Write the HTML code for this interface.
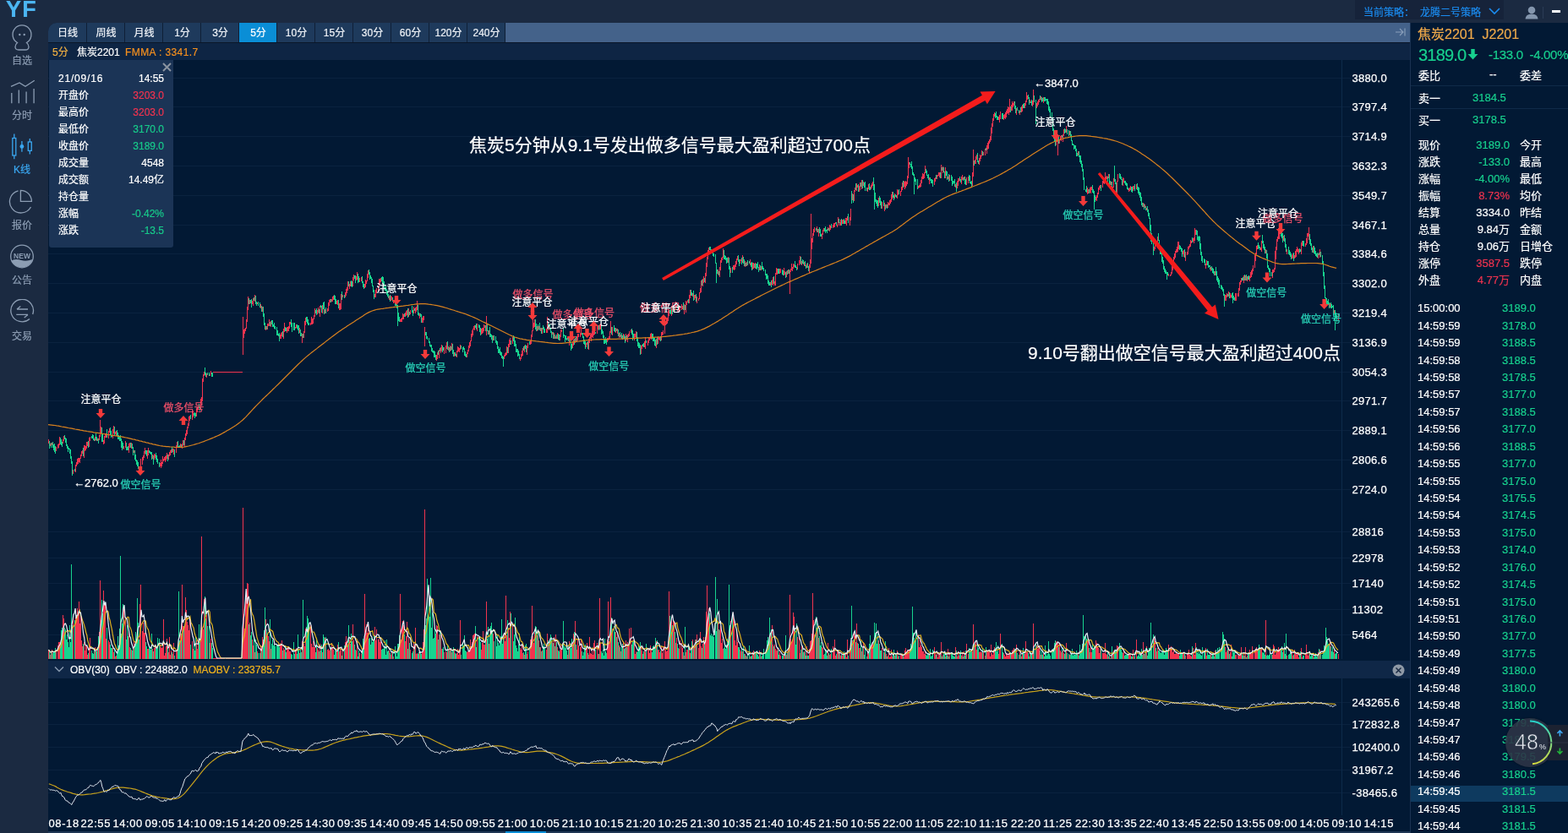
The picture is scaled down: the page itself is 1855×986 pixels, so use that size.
<!DOCTYPE html>
<html><head><meta charset="utf-8"><title>K线</title>
<style>
*{margin:0;padding:0;box-sizing:border-box}
html,body{width:1855px;height:986px;overflow:hidden;background:#1b2a41;font-family:"Liberation Sans","Noto Sans CJK SC",sans-serif;color:#fff;-webkit-text-stroke:0.2px currentColor}
.abs{position:absolute}
#logo{position:absolute;left:7px;top:-2.5px;font:bold 27px/1 "Liberation Sans",sans-serif;color:#4cb6f2;letter-spacing:1.3px}
.side{position:absolute;left:0;width:52px;text-align:center;font-size:12px;color:#8c9db3}
.side svg{display:block;margin:0 auto}
#strat{position:absolute;left:1603px;top:0;width:176px;height:23px;background:#16233a}
#strat span{position:absolute;top:5px;font-size:12px;color:#1b8cf0;white-space:nowrap}
#tabbar{position:absolute;left:57px;top:27px;width:1611px;height:23px;background:#0f1f36;border-top-left-radius:10px;overflow:hidden}
.tab{position:absolute;top:27px;width:44px;height:23px;background:#1e3a5c;text-align:center;font-size:12px;line-height:25px;color:#eef2f7;padding-left:1px}
.tab.act{background:#0a8ed6;color:#fff}
#info{position:absolute;left:57px;top:50px;width:1611px;height:21px;background:#0e2544;border-top:1px solid #0a1628;font-size:12px;line-height:22px;white-space:nowrap}
#chartbg{position:absolute;left:57px;top:71px;width:1611px;height:915px;background:#021934}
#obvh{position:absolute;left:57px;top:782px;width:1611px;height:21px;background:#0f2747;font-size:12px;line-height:23px;white-space:nowrap}
#rp{position:absolute;left:1668px;top:27px;width:187px;height:959px;background:#021934;border-left:1px solid #1a3252}
svg.chart{position:absolute;left:0;top:0}
.sg{stroke-width:0.25px;font-size:12px;font-family:"Liberation Sans","Noto Sans CJK SC",sans-serif}
.sg2{stroke-width:0.25px;font-size:13px;font-family:"Liberation Sans",sans-serif}
.ann{stroke-width:0.2px;font-size:21px;fill:#fff;font-family:"Liberation Sans","Noto Sans CJK SC",sans-serif}
.ax{stroke-width:0.25px;font-size:13px;fill:#fff;font-family:"Liberation Sans",sans-serif;letter-spacing:0.3px}
.tm{stroke-width:0.25px;font-size:13px;fill:#fff;font-family:"Liberation Sans",sans-serif;letter-spacing:0.6px}
#tip{position:absolute;left:58px;top:71px;width:147px;height:222px;background:#1b3456;border-radius:0 0 3px 3px}
.tr{position:absolute;left:11px;width:125px;height:18px;font-size:12px;line-height:18px}
.tl{position:absolute;left:0} .tv{position:absolute;right:0}
.qr{position:absolute;left:10px;width:175px;height:18px;font-size:13px;line-height:18px}
.ql{position:absolute;left:0} .qv{position:absolute;right:67px} .ql2{position:absolute;left:120px}
.tk{position:absolute;left:1px;width:186px;height:20px;font-size:13px;line-height:20px}
.tk.hl{}
.tt{position:absolute;left:8px} .tp{position:absolute;left:108px;color:#17d08e}
</style></head><body>
<div id="logo">YF</div>
<div id="strat"><span style="left:10px">当前策略：</span><span style="left:77px">龙腾二号策略</span>
<svg class="abs" style="left:158px;top:9px" width="14" height="9"><path d="M1 1L7 7L13 1" stroke="#1b8cf0" stroke-width="1.6" fill="none"/></svg></div>
<svg class="abs" style="left:1803px;top:6px" width="18" height="18"><circle cx="9" cy="6" r="4.3" fill="#8496ad"/><path d="M1.5 16.5Q2 10.5 9 10.5Q16 10.5 16.5 16.5Z" fill="#8496ad"/></svg>
<div class="abs" style="left:1825px;top:8px;width:1px;height:14px;background:#2a3b55"></div>
<div class="abs" style="left:1836px;top:12px;width:10px;height:3px;background:#fff"></div>

<div class="side" style="top:28px">
<svg width="32" height="34" viewBox="0 0 32 34"><path d="M10.5 22.5 A11 11 0 1 1 21.5 22.5 Q24 24.5 24 27.5 Q24 31 20 31 H12 Q8 31 8 27.5 Q8 24.5 10.5 22.5Z" fill="none" stroke="#8c9db3" stroke-width="1.3"/><circle cx="13.3" cy="13" r="1.2" fill="#8c9db3"/><circle cx="18.7" cy="13" r="1.2" fill="#8c9db3"/></svg>
<div style="margin-top:3px;line-height:14px">自选</div></div>
<div class="side" style="top:93px">
<svg width="32" height="32" viewBox="0 0 32 32"><path d="M3 9.3L13 5L20 9.3L30.8 2.2" fill="none" stroke="#8c9db3" stroke-width="1.3"/><path d="M3.8 17V29.2M12.3 13.6V29.2M21.1 15.6V29.2M30.1 12.1V29.2" stroke="#8c9db3" stroke-width="1.3"/></svg>
<div style="margin-top:5px;line-height:14px">分时</div></div>
<div class="side" style="top:157px;color:#3aa6ef">
<svg width="32" height="33" viewBox="0 0 32 33"><path d="M6.8 1.5V31.3M15.9 10V22.8M25.3 7V25.6" stroke="#3aa6ef" stroke-width="1.3"/><rect x="4.8" y="6.5" width="4" height="20.5" fill="#1b2a41" stroke="#3aa6ef" stroke-width="1.3"/><circle cx="15.9" cy="16.4" r="2.4" fill="#3aa6ef"/><rect x="23.3" y="11" width="4" height="10.4" fill="#1b2a41" stroke="#3aa6ef" stroke-width="1.3"/></svg>
<div style="margin-top:4px;line-height:14px">K线</div></div>
<div class="side" style="top:223px">
<svg width="32" height="32" viewBox="0 0 32 32"><path d="M11.5 2.8 A13.3 13.3 0 1 0 26.5 22" fill="none" stroke="#8c9db3" stroke-width="1.3"/><path d="M14.4 2.3V15.3H27.4A13 13 0 0 0 14.4 2.3Z" fill="none" stroke="#8c9db3" stroke-width="1.3"/></svg>
<div style="margin-top:5px;line-height:14px">报价</div></div>
<div class="side" style="top:289px">
<svg width="32" height="31" viewBox="0 0 32 31"><circle cx="16" cy="14.5" r="13.3" fill="none" stroke="#8c9db3" stroke-width="1.3"/><path d="M3.5 19.5Q9 17 15 19Q21 21 28.5 18A13.3 13.3 0 0 1 3.5 19.5Z" fill="#8c9db3"/><text x="16" y="16.8" text-anchor="middle" font-size="8.5" font-weight="bold" fill="#8c9db3" font-family="Liberation Sans">NEW</text></svg>
<div style="margin-top:5px;line-height:14px">公告</div></div>
<div class="side" style="top:354px">
<svg width="32" height="30" viewBox="0 0 32 30"><path d="M25 23.5A13.3 13.3 0 1 1 28.7 18" fill="none" stroke="#8c9db3" stroke-width="1.3"/><path d="M10 12H23M10 12L14.3 8.4M9.3 18.4H23M23 18.4L18.7 22" fill="none" stroke="#8c9db3" stroke-width="1.3"/></svg>
<div style="margin-top:7px;line-height:14px">交易</div></div>

<div id="tabbar"></div><div class="abs" style="left:598px;top:27px;width:1070px;height:23px;background:#44628a"></div>
<div class="tab" style="left:57px;border-top-left-radius:10px;width:45px">日线</div><div class="tab" style="left:103px">周线</div><div class="tab" style="left:148px">月线</div><div class="tab" style="left:193px">1分</div><div class="tab" style="left:238px">3分</div><div class="tab act" style="left:283px">5分</div><div class="tab" style="left:328px">10分</div><div class="tab" style="left:373px">15分</div><div class="tab" style="left:418px">30分</div><div class="tab" style="left:463px">60分</div><div class="tab" style="left:508px">120分</div><div class="tab" style="left:553px">240分</div>
<svg class="abs" style="left:1650px;top:32px" width="14" height="12"><path d="M1 6H10M6 2L10 6L6 10M12 1.5V10.5" stroke="#8aa0bb" stroke-width="1.1" fill="none"/></svg>
<div id="info"><span style="position:absolute;left:5px;color:#f0b042">5分</span><span style="position:absolute;left:34px;color:#fff">焦炭2201</span><span style="position:absolute;left:91px;color:#f5901f;letter-spacing:0.4px">FMMA : 3341.7</span></div>
<div id="chartbg"></div>
<div id="obvh"><svg class="abs" style="left:7px;top:6px" width="12" height="9"><path d="M1 1.5L6 6.5L11 1.5" stroke="#8a9bb0" stroke-width="1.4" fill="none"/></svg><span style="position:absolute;left:26px;color:#fff">OBV(30)&nbsp; OBV : 224882.0&nbsp; <span style="color:#f0b21c">MAOBV : 233785.7</span></span>
<svg class="abs" style="left:1590px;top:4px" width="15" height="15"><circle cx="7.5" cy="7.5" r="7" fill="#8f99a6"/><path d="M4.5 4.5L10.5 10.5M10.5 4.5L4.5 10.5" stroke="#1a2b44" stroke-width="1.5"/></svg></div>
<div id="rp">
<div class="abs" style="left:8px;top:0px;font-size:16px;color:#efa94a;white-space:nowrap">焦炭2201&nbsp; J2201</div>
<div class="abs" style="left:9px;top:27px;font-size:20px;color:#17d08e;white-space:nowrap;letter-spacing:-0.8px">3189.0</div>
<svg class="abs" style="left:67px;top:31px" width="13" height="13"><path d="M4.3 0H8.7V6H12.5L6.5 12.5L0.5 6H4.3Z" fill="#17d08e"/></svg>
<div class="abs" style="left:92px;top:29px;font-size:15px;color:#17d08e;white-space:nowrap;letter-spacing:-0.3px">-133.0&nbsp; -4.00%</div>
<div class="abs" style="left:9px;top:52px;font-size:13px;white-space:nowrap">委比</div>
<div class="abs" style="left:93px;top:53px;font-size:13px;white-space:nowrap">--</div>
<div class="abs" style="left:129px;top:52px;font-size:13px;white-space:nowrap">委差</div>
<div class="abs" style="left:0;top:74px;width:187px;height:1px;background:#0f2a48"></div>
<div class="abs" style="left:9px;top:79px;font-size:13px;white-space:nowrap">卖一</div>
<div class="abs" style="left:73px;top:81px;font-size:13px;color:#17d08e">3184.5</div>
<div class="abs" style="left:0;top:101px;width:187px;height:1px;background:#0f2a48"></div>
<div class="abs" style="left:9px;top:105px;font-size:13px;white-space:nowrap">买一</div>
<div class="abs" style="left:73px;top:107px;font-size:13px;color:#17d08e">3178.5</div>
</div>
<div class="abs" style="left:1668px;top:0;width:187px;height:986px;pointer-events:none">
<div class="qr" style="top:163.3px"><span class="ql">现价</span><span class="qv" style="color:#17d08e">3189.0</span><span class="ql2">今开</span></div><div class="qr" style="top:183.2px"><span class="ql">涨跌</span><span class="qv" style="color:#17d08e">-133.0</span><span class="ql2">最高</span></div><div class="qr" style="top:203.2px"><span class="ql">涨幅</span><span class="qv" style="color:#17d08e">-4.00%</span><span class="ql2">最低</span></div><div class="qr" style="top:223.2px"><span class="ql">振幅</span><span class="qv" style="color:#f0334f">8.73%</span><span class="ql2">均价</span></div><div class="qr" style="top:243.1px"><span class="ql">结算</span><span class="qv" style="color:#fff">3334.0</span><span class="ql2">昨结</span></div><div class="qr" style="top:263.1px"><span class="ql">总量</span><span class="qv" style="color:#fff">9.84万</span><span class="ql2">金额</span></div><div class="qr" style="top:283.0px"><span class="ql">持仓</span><span class="qv" style="color:#fff">9.06万</span><span class="ql2">日增仓</span></div><div class="qr" style="top:303.0px"><span class="ql">涨停</span><span class="qv" style="color:#f0334f">3587.5</span><span class="ql2">跌停</span></div><div class="qr" style="top:322.9px"><span class="ql">外盘</span><span class="qv" style="color:#f0334f">4.77万</span><span class="ql2">内盘</span></div>
<div class="abs" style="left:1px;top:929.5px;width:186px;height:19.5px;background:#0e3a5f"></div>
<div class="tk" style="top:355.2px"><span class="tt">15:00:00</span><span class="tp">3189.0</span></div><div class="tk" style="top:375.6px"><span class="tt">14:59:59</span><span class="tp">3178.0</span></div><div class="tk" style="top:396.1px"><span class="tt">14:59:59</span><span class="tp">3188.5</span></div><div class="tk" style="top:416.5px"><span class="tt">14:59:58</span><span class="tp">3188.5</span></div><div class="tk" style="top:436.9px"><span class="tt">14:59:58</span><span class="tp">3178.5</span></div><div class="tk" style="top:457.4px"><span class="tt">14:59:57</span><span class="tp">3177.0</span></div><div class="tk" style="top:477.8px"><span class="tt">14:59:57</span><span class="tp">3188.5</span></div><div class="tk" style="top:498.2px"><span class="tt">14:59:56</span><span class="tp">3177.0</span></div><div class="tk" style="top:518.6px"><span class="tt">14:59:56</span><span class="tp">3188.5</span></div><div class="tk" style="top:539.1px"><span class="tt">14:59:55</span><span class="tp">3177.0</span></div><div class="tk" style="top:559.5px"><span class="tt">14:59:55</span><span class="tp">3175.0</span></div><div class="tk" style="top:579.9px"><span class="tt">14:59:54</span><span class="tp">3175.5</span></div><div class="tk" style="top:600.4px"><span class="tt">14:59:54</span><span class="tp">3174.5</span></div><div class="tk" style="top:620.8px"><span class="tt">14:59:53</span><span class="tp">3175.0</span></div><div class="tk" style="top:641.2px"><span class="tt">14:59:53</span><span class="tp">3174.0</span></div><div class="tk" style="top:661.6px"><span class="tt">14:59:52</span><span class="tp">3176.0</span></div><div class="tk" style="top:682.1px"><span class="tt">14:59:52</span><span class="tp">3174.5</span></div><div class="tk" style="top:702.5px"><span class="tt">14:59:51</span><span class="tp">3175.0</span></div><div class="tk" style="top:722.9px"><span class="tt">14:59:51</span><span class="tp">3176.0</span></div><div class="tk" style="top:743.4px"><span class="tt">14:59:50</span><span class="tp">3177.0</span></div><div class="tk" style="top:763.8px"><span class="tt">14:59:49</span><span class="tp">3177.5</span></div><div class="tk" style="top:784.2px"><span class="tt">14:59:49</span><span class="tp">3180.0</span></div><div class="tk" style="top:804.7px"><span class="tt">14:59:48</span><span class="tp">3180.0</span></div><div class="tk" style="top:825.1px"><span class="tt">14:59:48</span><span class="tp">3180.0</span></div><div class="tk" style="top:845.5px"><span class="tt">14:59:47</span><span class="tp">3179.5</span></div><div class="tk" style="top:866.0px"><span class="tt">14:59:47</span><span class="tp">3180.0</span></div><div class="tk" style="top:886.4px"><span class="tt">14:59:46</span><span class="tp">3179.5</span></div><div class="tk" style="top:906.8px"><span class="tt">14:59:46</span><span class="tp">3180.5</span></div><div class="tk hl" style="top:927.2px"><span class="tt">14:59:45</span><span class="tp">3181.5</span></div><div class="tk" style="top:947.7px"><span class="tt">14:59:45</span><span class="tp">3181.5</span></div><div class="tk" style="top:968.1px"><span class="tt">14:59:44</span><span class="tp">3181.5</span></div>
</div>

<svg class="chart" width="1855" height="986" viewBox="0 0 1855 986">
<g><path d="M57 92.5H1598" stroke="#0a223f" stroke-width="1"/><path d="M57 126.5H1598" stroke="#0a223f" stroke-width="1"/><path d="M57 161.5H1598" stroke="#0a223f" stroke-width="1"/><path d="M57 196.5H1598" stroke="#0a223f" stroke-width="1"/><path d="M57 231.5H1598" stroke="#0a223f" stroke-width="1"/><path d="M57 266.5H1598" stroke="#0a223f" stroke-width="1"/><path d="M57 300.5H1598" stroke="#0a223f" stroke-width="1"/><path d="M57 335.5H1598" stroke="#0a223f" stroke-width="1"/><path d="M57 370.5H1598" stroke="#0a223f" stroke-width="1"/><path d="M57 405.5H1598" stroke="#0a223f" stroke-width="1"/><path d="M57 440.5H1598" stroke="#0a223f" stroke-width="1"/><path d="M57 474.5H1598" stroke="#0a223f" stroke-width="1"/><path d="M57 509.5H1598" stroke="#0a223f" stroke-width="1"/><path d="M57 544.5H1598" stroke="#0a223f" stroke-width="1"/><path d="M57 579.5H1598" stroke="#0a223f" stroke-width="1"/><path d="M57 629.5H1598" stroke="#0a223f" stroke-width="1"/><path d="M57 660.5H1598" stroke="#0a223f" stroke-width="1"/><path d="M57 690.5H1598" stroke="#0a223f" stroke-width="1"/><path d="M57 721.5H1598" stroke="#0a223f" stroke-width="1"/><path d="M57 751.5H1598" stroke="#0a223f" stroke-width="1"/><path d="M57 831.5H1598" stroke="#0a223f" stroke-width="1"/><path d="M57 857.5H1598" stroke="#0a223f" stroke-width="1"/><path d="M57 884.5H1598" stroke="#0a223f" stroke-width="1"/><path d="M57 911.5H1598" stroke="#0a223f" stroke-width="1"/><path d="M57 938.5H1598" stroke="#0a223f" stroke-width="1"/></g>
<path d="M1587.5 71V780M1587.5 803V965" stroke="#0d2a4a"/>
<path d="M252 440.5H287" stroke="#f2344f" stroke-width="1"/>
<g shape-rendering="crispEdges" stroke-width="1" fill="none">
<path d="M57.5 519.6V525.3M59.5 524.9V527.8M61.5 523.8V526.8M66.5 529.4V534.3M68.5 525.7V531.1M69.5 524.6V530.3M70.5 516.5V526.8M74.5 519.5V525.4M75.5 516.3V522.0M86.5 556.0V561.3M89.5 549.6V559.4M90.5 546.7V552.0M91.5 543.4V549.7M92.5 542.4V549.2M93.5 542.0V546.9M94.5 541.8V548.2M95.5 538.3V543.2M96.5 533.8V540.3M97.5 533.1V536.8M99.5 527.2V541.8M100.5 526.7V534.0M101.5 528.0V533.3M102.5 522.5V531.0M103.5 522.8V528.4M105.5 518.4V528.5M106.5 517.3V521.5M112.5 517.2V522.1M115.5 519.4V521.9M117.5 515.4V521.4M118.5 497.0V517.3M119.5 505.4V512.9M122.5 520.5V525.5M123.5 516.0V524.5M124.5 512.7V518.1M125.5 512.8V518.1M128.5 509.8V518.8M129.5 507.0V512.0M133.5 508.2V519.1M134.5 504.4V512.7M136.5 511.1V514.1M137.5 510.2V515.8M146.5 528.3V532.4M148.5 522.4V530.1M152.5 525.0V535.9M153.5 524.2V530.4M155.5 524.3V530.9M158.5 532.6V536.3M165.5 553.2V555.2M166.5 543.2V554.6M168.5 541.1V549.7M169.5 539.1V545.0M170.5 534.4V541.9M171.5 529.8V537.4M174.5 533.4V542.9M175.5 530.3V539.1M180.5 538.2V543.4M182.5 537.3V544.0M183.5 537.9V542.4M189.5 548.4V551.7M190.5 544.3V554.2M191.5 546.8V551.9M192.5 540.1V548.6M193.5 543.0V546.0M194.5 541.4V544.8M195.5 540.1V547.3M196.5 539.2V545.1M197.5 536.2V543.2M199.5 537.9V544.4M200.5 535.0V540.2M201.5 532.9V538.8M202.5 531.9V536.1M204.5 531.2V535.3M205.5 531.2V537.5M208.5 526.8V536.4M209.5 523.3V528.5M213.5 524.6V529.6M215.5 525.4V530.5M216.5 521.0V528.2M218.5 517.5V528.7M219.5 513.4V520.8M220.5 509.0V515.6M221.5 504.7V514.0M222.5 500.7V506.8M223.5 493.1V503.9M224.5 492.3V498.1M227.5 488.3V496.9M228.5 485.8V493.5M232.5 484.1V493.3M233.5 482.3V487.8M234.5 481.2V484.7M237.5 472.0V485.2M238.5 469.5V475.8M239.5 447.8V474.6M240.5 442.7V451.6M241.5 439.5V444.7M244.5 441.8V447.0M248.5 442.5V445.0M249.5 439.2V443.2M287.5 375.0V420.0M288.5 390.2V399.8M289.5 388.7V395.1M290.5 387.6V392.2M291.5 377.9V389.0M292.5 363.4V380.8M293.5 351.0V367.3M295.5 355.4V360.3M298.5 356.2V360.0M299.5 352.7V361.6M301.5 349.3V357.2M304.5 357.5V359.5M308.5 360.1V365.3M310.5 363.0V369.1M314.5 385.6V390.6M316.5 382.9V389.6M317.5 383.3V385.5M318.5 378.0V385.9M320.5 379.7V387.1M331.5 396.1V400.7M332.5 393.9V400.5M333.5 392.9V398.0M335.5 388.9V400.5M336.5 381.9V392.8M339.5 386.8V393.5M340.5 386.5V392.1M341.5 385.9V391.7M342.5 381.3V389.2M343.5 380.7V384.0M349.5 386.6V389.4M350.5 384.4V388.0M354.5 387.5V393.6M357.5 394.9V406.0M359.5 391.7V399.5M360.5 380.1V394.1M361.5 375.8V385.4M367.5 381.5V385.2M368.5 374.5V384.4M369.5 377.3V384.3M370.5 377.2V383.1M371.5 373.0V378.1M372.5 365.1V375.4M375.5 367.4V371.8M376.5 363.9V370.2M378.5 361.7V375.1M381.5 360.6V371.4M384.5 366.1V371.2M387.5 365.2V368.9M388.5 357.6V368.0M389.5 355.3V361.8M390.5 354.0V357.5M392.5 353.5V357.3M393.5 350.6V357.4M394.5 349.9V355.0M398.5 355.8V360.2M399.5 355.3V361.0M401.5 358.9V367.4M402.5 358.8V367.2M403.5 348.1V365.7M405.5 348.9V352.2M408.5 346.2V352.4M409.5 342.2V350.1M410.5 340.3V347.4M411.5 333.4V343.5M413.5 336.3V342.2M414.5 332.7V339.2M417.5 328.2V338.8M418.5 325.4V332.3M421.5 326.6V331.9M422.5 322.1V331.2M425.5 328.8V334.2M427.5 327.5V332.9M431.5 335.6V341.3M432.5 331.1V339.8M433.5 331.5V335.5M434.5 324.4V332.7M435.5 319.9V328.9M443.5 348.0V352.0M444.5 343.0V351.6M445.5 341.4V347.4M447.5 338.6V344.0M448.5 330.0V339.8M449.5 330.3V337.1M450.5 328.9V334.0M460.5 350.1V355.2M462.5 349.9V355.9M463.5 351.4V355.4M465.5 354.6V359.1M473.5 378.0V381.1M474.5 376.5V381.2M475.5 376.1V380.6M476.5 371.3V378.1M477.5 371.6V377.5M479.5 369.5V375.2M480.5 367.8V374.3M481.5 366.5V373.1M483.5 365.1V375.4M485.5 366.5V372.3M489.5 363.0V370.5M491.5 363.6V371.1M492.5 363.3V368.8M493.5 356.0V366.9M496.5 371.2V377.2M499.5 375.7V382.4M500.5 373.8V382.1M501.5 374.0V379.4M502.5 387.0V410.0M516.5 419.8V426.7M517.5 417.1V424.8M519.5 414.1V423.5M521.5 410.5V417.6M522.5 407.6V416.0M525.5 411.1V418.9M527.5 408.6V417.5M528.5 405.4V413.2M530.5 409.7V414.8M532.5 408.7V415.8M534.5 406.3V413.6M537.5 417.0V422.3M540.5 415.4V422.5M541.5 410.4V417.2M542.5 410.9V416.3M543.5 412.1V416.7M544.5 407.6V414.3M552.5 417.0V423.3M553.5 413.9V419.3M554.5 408.8V416.0M555.5 405.4V411.7M556.5 402.8V409.7M557.5 395.3V404.3M558.5 391.4V399.1M559.5 388.5V397.0M560.5 386.1V389.8M561.5 385.1V390.6M564.5 382.8V391.6M569.5 388.9V395.9M570.5 387.9V395.1M571.5 388.0V394.0M572.5 383.7V391.8M573.5 384.5V388.0M575.5 374.0V396.6M578.5 391.4V395.9M583.5 396.9V402.6M596.5 420.1V425.2M597.5 417.6V422.0M598.5 417.3V421.1M599.5 410.2V420.0M601.5 407.0V418.0M602.5 402.0V411.2M603.5 400.2V407.7M606.5 399.3V407.0M615.5 422.8V427.2M616.5 418.7V424.8M617.5 414.8V422.3M618.5 411.5V420.5M620.5 408.8V417.4M623.5 409.3V419.5M624.5 405.7V411.6M627.5 403.0V407.9M628.5 396.3V407.1M629.5 390.9V399.3M630.5 378.0V392.4M631.5 381.9V388.4M632.5 378.1V386.5M635.5 385.5V391.9M637.5 385.8V389.8M639.5 387.5V392.0M641.5 388.4V394.5M646.5 389.0V393.5M647.5 375.0V393.5M649.5 384.2V391.1M653.5 393.2V395.9M655.5 394.3V400.5M657.5 397.5V401.2M659.5 393.6V400.7M662.5 395.6V403.2M663.5 389.6V399.2M664.5 389.6V393.4M671.5 399.2V402.4M673.5 399.4V409.1M677.5 404.9V412.1M678.5 402.0V409.2M680.5 400.0V405.9M682.5 398.3V404.6M683.5 395.1V403.4M684.5 394.7V399.0M686.5 393.9V398.8M687.5 388.3V397.2M693.5 405.8V411.4M694.5 405.1V407.7M696.5 400.7V414.0M697.5 398.8V406.4M698.5 396.4V401.3M699.5 395.0V403.8M700.5 392.3V399.1M701.5 390.7V399.5M702.5 392.2V396.8M703.5 391.8V396.0M706.5 385.5V395.3M707.5 385.3V390.2M709.5 384.2V390.1M710.5 382.5V389.8M718.5 400.1V405.3M719.5 399.9V403.0M720.5 397.8V402.4M721.5 391.7V401.6M722.5 380.0V393.7M724.5 387.0V396.7M728.5 388.3V394.0M730.5 389.0V395.2M732.5 394.1V399.5M734.5 396.3V400.1M737.5 395.1V401.4M740.5 395.1V404.1M742.5 395.7V405.4M743.5 394.8V398.6M744.5 392.4V397.5M746.5 390.4V394.0M750.5 395.0V402.9M751.5 395.1V399.3M752.5 392.1V400.5M758.5 409.4V418.6M759.5 407.9V412.8M762.5 404.1V411.1M763.5 399.0V412.6M766.5 402.7V408.7M767.5 400.1V405.8M768.5 399.3V403.1M769.5 395.1V401.2M770.5 394.0V401.5M776.5 401.3V411.6M778.5 398.3V406.6M779.5 399.4V402.0M780.5 399.3V403.3M782.5 392.7V402.8M783.5 393.0V397.3M784.5 390.8V396.2M786.5 382.4V394.6M787.5 381.3V385.2M788.5 377.8V384.0M789.5 376.3V383.1M790.5 368.1V379.9M791.5 366.2V373.5M794.5 361.8V373.9M796.5 362.4V368.9M797.5 364.4V367.6M799.5 357.0V367.2M800.5 361.2V363.7M803.5 362.2V369.2M804.5 364.2V367.1M806.5 359.8V367.0M807.5 361.7V366.0M809.5 359.9V371.8M811.5 356.4V369.5M812.5 356.9V360.7M813.5 354.6V358.2M815.5 348.8V359.1M816.5 343.1V353.2M819.5 346.5V350.8M821.5 348.9V355.1M822.5 349.3V353.1M824.5 351.3V358.8M826.5 352.8V356.1M827.5 346.2V354.0M828.5 341.0V347.1M829.5 332.1V345.6M831.5 329.7V338.6M832.5 326.8V334.7M834.5 323.2V335.3M835.5 311.1V326.8M836.5 303.7V315.5M837.5 296.2V307.3M838.5 292.8V300.5M849.5 318.9V324.5M851.5 316.0V328.1M852.5 307.8V319.8M853.5 305.4V310.5M854.5 303.7V307.5M855.5 293.5V305.2M861.5 303.5V311.3M864.5 316.7V323.2M867.5 314.4V319.0M868.5 314.2V319.7M869.5 312.6V319.2M870.5 309.3V315.6M871.5 305.7V313.4M872.5 303.2V308.1M875.5 306.8V312.3M876.5 306.7V309.3M878.5 302.0V310.9M881.5 309.4V316.2M883.5 310.0V315.2M887.5 307.2V313.8M890.5 310.7V319.2M891.5 311.4V317.7M893.5 310.5V317.8M898.5 313.1V319.6M900.5 314.9V319.7M911.5 334.1V338.4M913.5 330.6V337.3M914.5 328.3V338.0M916.5 333.2V338.1M917.5 322.9V337.7M918.5 317.4V325.1M919.5 318.4V324.9M922.5 318.1V323.5M923.5 317.8V323.3M927.5 317.3V326.0M928.5 321.3V324.8M930.5 321.1V328.3M932.5 319.1V323.6M934.5 320.0V347.5M935.5 317.7V321.6M936.5 312.3V319.5M937.5 315.5V320.7M938.5 312.4V317.8M939.5 312.9V316.2M943.5 312.4V319.1M945.5 308.3V313.9M946.5 302.9V312.2M948.5 309.1V314.0M951.5 309.7V314.5M954.5 311.7V316.8M957.5 312.8V322.8M958.5 306.8V317.0M959.5 252.6V312.2M960.5 282.0V295.0M961.5 276.3V287.0M962.5 271.4V279.4M963.5 269.0V274.8M966.5 268.4V274.6M968.5 270.8V279.7M972.5 276.4V283.0M973.5 271.7V278.0M974.5 269.6V273.5M979.5 268.7V273.4M981.5 266.4V273.6M982.5 266.9V272.2M985.5 265.9V270.1M986.5 264.0V268.6M987.5 264.3V268.8M988.5 263.1V265.4M990.5 265.5V269.2M991.5 257.4V267.4M993.5 263.3V266.5M994.5 260.3V266.6M996.5 259.9V265.3M997.5 259.7V264.7M1000.5 257.8V264.7M1001.5 257.7V266.7M1002.5 255.6V260.9M1005.5 256.8V266.8M1006.5 247.3V260.9M1008.5 229.2V236.6M1010.5 224.9V237.9M1011.5 222.1V227.1M1013.5 216.8V225.6M1014.5 218.8V222.2M1016.5 219.8V227.4M1017.5 216.1V224.7M1019.5 213.3V223.5M1021.5 215.1V220.1M1026.5 222.3V226.6M1027.5 218.0V223.5M1030.5 218.5V224.4M1031.5 217.4V221.9M1032.5 214.9V220.0M1039.5 233.5V243.6M1043.5 238.9V247.2M1046.5 239.9V250.2M1048.5 241.7V245.9M1050.5 239.0V246.4M1051.5 239.5V243.2M1052.5 237.0V242.7M1053.5 235.9V241.2M1054.5 230.2V238.8M1055.5 227.0V235.5M1058.5 229.4V235.0M1061.5 224.0V234.6M1062.5 225.1V231.0M1065.5 226.1V232.0M1066.5 220.8V227.3M1067.5 216.4V224.5M1069.5 213.8V221.1M1070.5 215.0V223.6M1071.5 214.2V222.0M1072.5 215.2V219.9M1073.5 207.9V218.2M1074.5 186.0V211.0M1075.5 192.2V198.9M1086.5 219.7V223.4M1087.5 218.5V221.8M1088.5 216.7V222.2M1089.5 213.3V221.2M1090.5 208.7V216.5M1091.5 204.8V212.1M1092.5 206.1V211.7M1093.5 203.5V211.0M1094.5 195.6V205.3M1099.5 209.6V217.8M1105.5 210.6V219.2M1106.5 210.4V214.6M1108.5 207.0V212.2M1109.5 206.7V209.1M1110.5 204.3V208.3M1111.5 204.4V209.8M1113.5 195.0V211.0M1115.5 197.0V204.8M1118.5 198.4V211.3M1121.5 209.0V212.0M1123.5 207.0V213.7M1130.5 217.7V222.2M1132.5 214.4V222.8M1133.5 210.6V219.7M1134.5 210.6V214.9M1137.5 208.7V217.8M1138.5 207.3V212.9M1140.5 208.8V213.2M1143.5 210.1V218.5M1145.5 208.5V216.7M1150.5 203.6V219.5M1151.5 177.0V208.5M1153.5 189.1V194.4M1154.5 185.0V193.9M1155.5 183.0V189.3M1158.5 186.6V195.2M1159.5 182.9V191.1M1160.5 183.7V187.7M1161.5 177.8V185.4M1163.5 179.5V184.0M1165.5 175.6V184.0M1167.5 172.4V181.5M1168.5 169.4V177.3M1169.5 166.5V175.6M1170.5 164.9V170.1M1171.5 161.0V167.9M1172.5 150.9V166.0M1173.5 145.7V158.2M1174.5 140.1V149.9M1175.5 135.0V143.1M1176.5 133.4V138.0M1181.5 138.2V141.7M1182.5 136.1V144.8M1183.5 131.9V140.8M1187.5 136.4V141.8M1188.5 135.0V139.9M1189.5 133.4V141.0M1190.5 130.5V138.9M1191.5 129.3V135.4M1192.5 126.4V134.1M1193.5 127.3V135.6M1194.5 116.5V132.5M1196.5 123.8V131.3M1197.5 120.1V130.7M1198.5 122.1V127.1M1199.5 119.7V125.1M1202.5 128.1V135.6M1206.5 131.3V135.8M1208.5 125.5V132.6M1209.5 123.7V131.6M1212.5 122.2V127.6M1213.5 119.1V124.5M1214.5 109.0V120.9M1215.5 112.7V118.4M1218.5 118.2V122.4M1221.5 118.5V125.6M1222.5 105.6V123.9M1226.5 122.2V127.5M1227.5 119.6V126.3M1228.5 118.1V123.8M1229.5 116.6V120.9M1231.5 113.7V119.3M1234.5 115.2V121.6M1249.5 164.8V171.6M1250.5 163.9V168.3M1251.5 159.2V183.5M1253.5 164.8V170.3M1254.5 161.0V165.8M1255.5 160.3V166.7M1257.5 158.6V167.6M1258.5 152.8V160.7M1261.5 149.0V157.3M1265.5 155.3V159.7M1275.5 179.2V183.6M1286.5 222.2V230.3M1287.5 224.1V229.2M1289.5 222.1V228.2M1290.5 221.3V228.8M1291.5 220.8V224.7M1296.5 233.1V236.7M1297.5 231.4V237.5M1298.5 228.0V234.2M1299.5 221.7V229.9M1300.5 219.9V225.2M1301.5 219.2V223.3M1304.5 214.1V221.7M1305.5 213.4V216.9M1306.5 210.7V217.7M1307.5 204.0V214.5M1308.5 208.5V215.7M1309.5 207.8V212.0M1311.5 205.8V211.2M1314.5 214.5V219.1M1316.5 220.6V223.5M1317.5 210.7V221.7M1321.5 213.9V228.5M1322.5 206.4V215.3M1328.5 209.6V219.9M1329.5 211.4V216.0M1335.5 222.8V227.3M1336.5 221.9V225.6M1337.5 220.4V225.0M1340.5 220.0V226.4M1341.5 219.8V223.5M1344.5 218.0V223.9M1352.5 240.3V245.2M1354.5 241.8V246.4M1356.5 245.5V249.4M1365.5 292.1V296.8M1366.5 285.2V294.7M1368.5 287.2V289.2M1369.5 280.4V288.8M1382.5 323.8V326.9M1384.5 324.6V327.2M1385.5 322.0V325.8M1386.5 315.2V324.4M1387.5 307.5V319.8M1388.5 303.9V310.9M1389.5 299.5V306.5M1390.5 297.2V304.5M1391.5 294.7V299.0M1392.5 292.4V299.1M1393.5 286.0V297.7M1394.5 286.0V295.3M1399.5 296.5V300.6M1400.5 296.2V304.1M1402.5 298.0V308.5M1404.5 297.5V301.9M1405.5 291.9V301.3M1406.5 291.4V295.4M1407.5 288.9V292.7M1408.5 283.8V291.6M1409.5 284.5V288.1M1411.5 281.6V285.8M1412.5 281.4V288.0M1413.5 270.0V284.5M1414.5 272.4V277.6M1426.5 311.7V318.0M1427.5 307.9V314.3M1432.5 316.3V321.0M1437.5 321.2V326.2M1449.5 349.3V356.0M1450.5 348.6V356.4M1451.5 346.9V352.4M1453.5 345.4V351.3M1455.5 346.7V352.9M1456.5 348.7V352.4M1461.5 347.2V355.6M1462.5 347.2V355.8M1464.5 346.7V350.6M1465.5 340.9V350.9M1466.5 333.5V343.8M1467.5 332.4V337.1M1468.5 329.0V333.7M1471.5 326.4V334.6M1473.5 326.4V332.2M1475.5 327.3V333.1M1478.5 326.9V332.8M1479.5 321.7V329.4M1480.5 320.0V328.1M1481.5 317.5V324.7M1482.5 314.3V321.2M1484.5 301.7V317.4M1485.5 299.3V308.6M1486.5 290.8V301.4M1487.5 289.7V295.0M1491.5 293.1V295.7M1492.5 285.4V297.9M1497.5 294.6V299.5M1505.5 319.4V329.1M1506.5 319.1V323.0M1507.5 317.0V322.1M1508.5 296.9V318.9M1509.5 291.5V307.1M1510.5 283.2V295.7M1511.5 279.9V286.3M1512.5 270.0V282.6M1513.5 274.1V283.4M1514.5 271.3V276.7M1518.5 278.6V284.5M1522.5 295.4V300.7M1528.5 302.2V305.9M1529.5 300.4V306.3M1531.5 301.8V306.1M1532.5 297.1V304.5M1533.5 295.1V303.6M1534.5 291.6V298.3M1535.5 293.6V298.9M1536.5 294.6V300.5M1539.5 287.0V300.8M1540.5 285.2V291.4M1544.5 287.8V291.9M1545.5 282.0V289.9M1546.5 275.7V288.0M1547.5 275.9V280.0M1548.5 269.0V284.1M1553.5 291.4V298.6M1559.5 300.2V306.4M1561.5 295.0V305.4M1573.5 359.1V364.3M1578.5 366.6V371.0M1583.5 370.9V380.2" stroke="#f2344f"/>
<path d="M58.5 522.4V530.8M60.5 524.1V529.8M62.5 522.8V529.5M63.5 525.5V532.7M64.5 524.6V535.3M65.5 528.4V536.5M71.5 518.4V526.3M72.5 520.4V526.7M73.5 523.0V529.4M76.5 515.3V520.2M77.5 518.2V524.0M78.5 519.1V528.2M79.5 525.8V530.7M80.5 527.5V535.0M81.5 529.9V532.3M82.5 531.0V537.4M83.5 532.3V543.4M84.5 540.3V549.3M85.5 545.9V562.5M88.5 554.5V558.1M98.5 530.0V539.7M104.5 522.3V529.7M108.5 515.8V519.4M109.5 513.7V519.1M110.5 515.3V520.8M111.5 519.1V521.6M113.5 513.2V521.4M114.5 516.5V522.0M116.5 519.1V525.0M120.5 506.1V522.5M121.5 512.7V523.1M126.5 507.6V518.1M130.5 505.9V514.7M131.5 509.7V517.8M132.5 514.5V517.0M135.5 504.6V514.9M138.5 508.8V516.4M139.5 512.0V519.7M140.5 515.1V520.2M141.5 515.7V522.2M142.5 514.8V522.2M143.5 518.9V529.8M144.5 521.7V533.1M145.5 524.0V531.3M149.5 524.4V533.0M150.5 528.6V532.6M151.5 527.9V533.4M154.5 523.6V530.4M156.5 524.8V530.6M157.5 528.6V539.1M159.5 532.6V544.4M160.5 537.6V545.7M161.5 543.9V549.6M162.5 544.8V552.4M163.5 547.3V555.2M164.5 552.0V557.0M172.5 533.3V537.9M173.5 532.7V539.7M176.5 532.6V536.3M177.5 533.8V537.0M178.5 534.7V538.0M179.5 534.9V544.2M181.5 538.9V550.2M184.5 535.8V543.7M185.5 539.1V547.3M186.5 543.1V548.6M188.5 547.4V553.0M198.5 537.6V545.8M203.5 529.4V536.2M206.5 531.5V541.0M210.5 522.3V529.2M211.5 527.5V529.5M212.5 527.2V530.4M214.5 526.3V529.5M217.5 521.4V527.4M225.5 490.9V496.4M229.5 488.7V491.8M230.5 488.0V494.8M231.5 488.7V493.0M235.5 478.0V482.9M236.5 481.3V486.0M242.5 434.8V443.9M243.5 441.1V445.5M245.5 440.9V443.8M247.5 441.2V444.7M250.5 440.9V445.5M251.5 441.4V446.2M294.5 352.5V359.9M296.5 354.5V359.0M297.5 353.5V363.8M300.5 352.4V355.6M302.5 350.2V359.9M303.5 356.9V362.1M305.5 357.2V362.3M307.5 357.9V363.9M309.5 361.7V369.4M311.5 363.4V375.0M312.5 370.7V385.1M313.5 381.9V389.7M315.5 385.9V389.7M319.5 380.5V385.9M321.5 378.7V383.7M322.5 379.3V387.1M323.5 383.8V387.1M324.5 382.0V388.8M325.5 385.5V390.3M327.5 387.0V396.9M328.5 391.1V397.3M329.5 394.5V398.0M330.5 393.9V403.6M334.5 391.5V398.9M337.5 386.6V392.1M338.5 387.9V391.7M344.5 377.6V387.4M345.5 381.7V392.8M347.5 382.2V390.7M348.5 381.6V390.7M351.5 383.7V388.5M352.5 385.4V390.9M353.5 385.4V394.9M355.5 389.7V398.3M356.5 394.2V397.9M358.5 395.1V400.0M362.5 374.6V380.9M363.5 374.7V382.9M364.5 378.2V384.7M365.5 381.6V384.5M373.5 366.7V370.9M374.5 365.2V373.2M377.5 365.6V370.8M379.5 361.1V364.4M380.5 362.0V370.2M382.5 357.8V365.9M383.5 356.9V371.5M385.5 364.2V370.8M391.5 354.2V358.0M395.5 348.9V355.2M396.5 350.0V359.8M397.5 354.0V360.2M400.5 355.4V365.4M404.5 345.4V355.3M407.5 349.1V353.1M412.5 332.5V339.4M415.5 332.2V338.5M416.5 332.5V340.2M419.5 326.2V329.6M420.5 325.8V335.0M423.5 324.0V335.1M424.5 326.5V333.9M428.5 326.8V335.1M429.5 333.2V340.4M430.5 335.5V342.4M436.5 318.6V324.7M437.5 321.7V330.5M438.5 326.1V330.2M439.5 327.5V335.0M440.5 329.6V339.1M441.5 337.6V345.7M442.5 342.5V354.4M451.5 328.2V332.5M452.5 327.1V334.5M453.5 327.8V339.2M454.5 333.2V341.5M455.5 339.8V344.0M456.5 338.3V345.3M457.5 341.5V349.2M458.5 343.5V351.1M459.5 348.4V352.5M461.5 349.3V357.3M464.5 352.3V356.5M467.5 354.6V362.1M468.5 353.6V362.4M469.5 357.7V364.6M470.5 361.4V386.0M471.5 369.5V379.9M472.5 374.9V380.6M478.5 371.3V375.3M482.5 365.4V375.5M484.5 368.9V372.7M487.5 362.4V370.2M488.5 367.1V373.5M490.5 365.1V368.0M494.5 360.8V372.5M495.5 369.8V374.0M497.5 370.5V374.8M498.5 371.7V382.2M503.5 393.0V396.5M504.5 393.0V400.5M505.5 397.8V401.8M507.5 399.9V406.3M508.5 403.7V410.2M509.5 407.5V411.3M510.5 407.8V415.7M511.5 412.0V416.5M512.5 414.6V418.4M513.5 414.9V423.3M514.5 415.7V422.7M515.5 420.1V426.4M518.5 414.9V419.8M520.5 412.4V416.3M523.5 409.3V416.5M524.5 411.0V415.4M529.5 404.4V414.3M531.5 411.0V417.3M533.5 409.8V414.6M535.5 407.3V418.6M536.5 414.4V422.0M538.5 416.7V421.1M539.5 418.6V422.0M545.5 409.2V412.7M547.5 410.6V417.2M548.5 409.9V414.4M549.5 412.2V420.6M550.5 415.5V421.7M551.5 419.1V422.8M562.5 385.1V388.4M563.5 383.1V390.4M566.5 383.5V388.4M567.5 385.4V393.0M568.5 388.4V396.8M574.5 384.9V391.7M576.5 382.6V392.4M577.5 390.9V395.5M579.5 386.7V399.2M580.5 394.5V398.8M581.5 396.1V401.8M582.5 397.0V406.2M584.5 396.8V403.4M586.5 397.6V405.6M587.5 402.7V408.4M588.5 404.3V413.4M589.5 410.2V418.0M590.5 413.3V418.2M591.5 410.8V420.4M592.5 415.9V421.2M593.5 417.0V424.2M594.5 420.5V424.8M595.5 421.8V434.0M600.5 410.6V417.9M604.5 402.8V407.6M607.5 397.3V403.6M608.5 399.1V410.1M609.5 403.1V409.8M610.5 407.0V416.8M611.5 413.3V417.3M612.5 413.0V421.6M613.5 415.1V420.9M614.5 419.3V425.4M619.5 410.4V415.2M621.5 408.3V412.9M622.5 409.2V417.3M626.5 404.1V407.9M633.5 378.0V389.8M634.5 383.4V391.7M636.5 384.0V390.8M638.5 382.1V391.3M640.5 387.5V394.5M642.5 384.9V390.4M643.5 386.9V394.4M644.5 388.8V394.3M648.5 382.7V390.0M650.5 384.2V390.1M651.5 389.0V394.4M652.5 392.1V400.0M654.5 392.7V401.2M656.5 395.9V401.2M658.5 395.9V401.1M660.5 394.8V402.1M661.5 396.2V402.7M666.5 388.9V399.8M667.5 396.3V397.8M668.5 396.7V405.4M669.5 397.3V401.6M670.5 399.5V402.8M672.5 398.3V404.1M674.5 401.2V406.2M675.5 405.0V415.0M676.5 406.8V412.6M679.5 401.0V407.7M681.5 397.8V403.5M688.5 393.7V396.0M689.5 393.8V400.1M690.5 397.9V407.1M691.5 402.0V407.9M692.5 404.4V412.6M695.5 404.1V412.6M704.5 393.2V395.3M708.5 384.7V391.0M711.5 385.1V395.6M712.5 389.8V395.3M713.5 391.9V399.7M714.5 397.2V406.6M715.5 400.9V406.5M716.5 399.3V405.5M717.5 401.0V407.6M723.5 387.0V395.7M726.5 385.0V392.2M727.5 387.9V393.2M729.5 388.7V392.3M731.5 390.0V398.3M733.5 392.6V398.8M735.5 393.9V401.4M736.5 396.7V401.6M738.5 395.5V401.3M739.5 397.9V406.0M741.5 397.1V402.0M747.5 389.2V396.3M748.5 390.9V402.9M749.5 394.6V401.0M753.5 392.6V403.9M754.5 398.5V409.8M755.5 405.2V411.9M756.5 405.5V412.4M757.5 408.3V419.8M760.5 407.3V410.3M761.5 406.4V411.4M764.5 403.2V405.8M771.5 395.4V400.8M772.5 395.4V404.0M773.5 398.9V403.7M774.5 400.2V409.3M775.5 401.7V410.4M777.5 399.3V407.6M781.5 398.3V403.9M792.5 366.7V371.3M793.5 366.3V371.8M795.5 363.7V372.2M798.5 364.8V367.7M801.5 361.3V365.0M802.5 362.3V366.8M808.5 357.8V366.6M810.5 361.0V366.8M814.5 354.0V359.1M817.5 343.4V349.8M818.5 345.7V349.7M820.5 344.4V355.5M823.5 348.0V356.5M830.5 331.0V338.2M833.5 329.0V334.2M839.5 291.6V296.3M840.5 292.0V299.8M841.5 295.0V297.3M842.5 295.5V298.7M843.5 295.5V302.6M844.5 300.3V303.8M846.5 300.5V312.0M847.5 310.9V335.0M848.5 318.5V324.1M850.5 320.5V325.9M856.5 296.2V306.6M857.5 301.7V306.6M858.5 303.4V308.1M859.5 304.6V311.6M860.5 304.5V311.3M862.5 304.8V318.6M863.5 314.9V328.0M866.5 315.7V322.8M873.5 302.1V309.9M874.5 307.2V315.0M877.5 304.6V313.3M879.5 304.1V311.6M880.5 306.9V314.8M882.5 310.7V314.7M884.5 308.2V314.3M886.5 309.3V311.7M888.5 311.0V316.0M889.5 310.0V320.4M892.5 312.0V316.7M894.5 312.0V317.7M895.5 311.7V318.5M896.5 309.8V317.2M897.5 315.8V321.9M899.5 313.9V319.5M901.5 309.9V318.9M902.5 315.3V319.1M903.5 316.9V321.3M905.5 319.0V326.1M906.5 324.0V330.5M907.5 323.8V329.8M908.5 325.9V335.7M909.5 331.5V337.8M910.5 334.1V338.3M912.5 331.8V339.9M915.5 327.1V336.1M920.5 318.1V324.3M921.5 318.4V323.8M925.5 318.8V324.5M926.5 319.9V326.1M929.5 322.1V328.8M931.5 320.2V324.7M933.5 318.6V324.0M940.5 309.0V316.8M941.5 313.8V317.4M942.5 315.5V319.5M947.5 304.4V312.7M949.5 306.6V311.7M950.5 308.4V313.4M952.5 308.9V315.2M953.5 313.9V317.9M955.5 310.7V317.2M956.5 315.4V321.4M965.5 269.9V273.1M967.5 270.7V275.4M969.5 269.2V275.8M970.5 270.5V279.6M971.5 277.2V279.6M975.5 270.1V274.2M976.5 268.1V276.2M977.5 271.9V274.2M978.5 271.1V276.2M980.5 270.0V273.1M983.5 264.8V270.0M989.5 262.8V267.3M992.5 258.9V264.0M995.5 259.4V267.3M998.5 258.7V265.2M999.5 261.4V265.1M1003.5 253.3V264.1M1007.5 225.5V240.7M1009.5 230.0V240.1M1012.5 217.4V225.0M1015.5 218.2V226.6M1018.5 215.8V220.7M1020.5 212.7V223.1M1022.5 215.9V222.3M1023.5 214.9V225.7M1025.5 221.7V225.8M1028.5 217.0V224.8M1029.5 220.9V224.7M1033.5 210.0V224.7M1034.5 218.1V248.0M1035.5 227.9V238.5M1036.5 236.0V241.0M1037.5 237.1V244.2M1038.5 236.6V245.5M1040.5 231.5V239.9M1041.5 233.5V242.7M1042.5 237.5V247.4M1045.5 237.1V244.4M1047.5 242.3V248.4M1049.5 242.3V246.8M1056.5 226.6V234.2M1057.5 231.3V237.0M1059.5 230.1V232.9M1060.5 231.2V234.3M1063.5 223.6V230.0M1068.5 214.3V221.8M1076.5 192.1V195.3M1077.5 193.5V198.3M1078.5 190.5V199.5M1079.5 197.1V207.2M1080.5 203.7V207.6M1081.5 205.6V230.0M1082.5 210.1V214.9M1083.5 212.3V218.7M1085.5 212.2V224.0M1095.5 200.1V205.0M1096.5 202.0V207.8M1097.5 206.5V210.8M1098.5 206.0V212.7M1100.5 210.0V213.9M1101.5 211.5V217.3M1102.5 211.7V216.8M1103.5 212.7V220.5M1107.5 206.5V211.9M1112.5 203.8V211.2M1114.5 198.1V201.7M1116.5 197.6V204.4M1117.5 202.6V210.9M1119.5 201.9V207.5M1120.5 203.2V212.7M1122.5 206.0V214.6M1125.5 207.1V213.5M1126.5 209.4V219.9M1127.5 213.5V217.7M1128.5 213.5V216.7M1129.5 212.2V220.9M1131.5 216.2V227.0M1135.5 208.8V213.6M1136.5 212.2V215.8M1139.5 209.5V214.1M1141.5 208.7V218.1M1142.5 211.8V218.6M1146.5 206.5V213.5M1147.5 207.7V217.0M1148.5 214.5V218.0M1149.5 214.3V220.5M1152.5 189.8V196.4M1156.5 180.6V191.7M1157.5 190.3V193.7M1162.5 178.9V183.9M1166.5 175.4V178.2M1177.5 134.0V140.3M1178.5 132.3V138.6M1179.5 137.4V141.5M1180.5 137.9V142.2M1185.5 134.2V140.7M1186.5 133.9V141.1M1195.5 125.9V132.7M1200.5 119.9V129.2M1201.5 124.6V133.6M1203.5 126.8V130.9M1205.5 130.2V134.3M1207.5 127.3V133.0M1210.5 123.4V128.2M1211.5 121.9V128.1M1216.5 112.1V116.9M1217.5 114.7V124.1M1219.5 119.6V122.4M1220.5 118.3V124.7M1223.5 112.7V120.6M1225.5 117.7V147.0M1230.5 112.9V118.3M1232.5 115.4V121.3M1233.5 115.5V119.9M1235.5 114.7V119.6M1236.5 115.0V120.0M1237.5 116.7V119.3M1238.5 117.2V122.5M1239.5 116.9V123.8M1240.5 120.4V130.5M1241.5 125.5V133.4M1242.5 128.6V140.3M1244.5 132.6V142.6M1245.5 139.8V154.6M1246.5 151.8V163.6M1247.5 155.4V167.8M1248.5 163.2V172.9M1252.5 162.0V170.4M1256.5 160.2V163.4M1259.5 152.4V158.0M1260.5 152.7V157.1M1262.5 152.9V158.6M1264.5 154.2V161.0M1266.5 154.5V161.8M1267.5 158.7V167.1M1268.5 166.0V172.1M1269.5 169.5V171.9M1270.5 170.9V177.3M1271.5 172.1V175.7M1272.5 172.1V178.9M1273.5 175.9V184.9M1274.5 181.0V184.7M1276.5 178.7V185.7M1277.5 183.5V191.7M1278.5 183.9V194.0M1279.5 189.7V197.8M1280.5 194.2V203.4M1281.5 200.4V212.5M1282.5 209.6V225.0M1284.5 223.6V227.1M1285.5 220.2V227.8M1288.5 223.7V229.1M1292.5 218.6V228.0M1293.5 223.9V228.5M1294.5 225.9V248.0M1295.5 231.1V239.2M1302.5 218.8V225.8M1310.5 208.6V215.4M1312.5 206.1V217.7M1313.5 213.9V219.3M1315.5 214.8V221.7M1318.5 196.0V214.6M1319.5 212.3V218.3M1320.5 215.8V230.0M1324.5 205.4V211.0M1325.5 206.1V211.7M1326.5 208.7V212.8M1327.5 211.5V218.6M1330.5 213.7V216.6M1331.5 213.8V219.2M1332.5 216.1V220.2M1333.5 216.7V223.7M1334.5 221.9V225.4M1338.5 221.0V226.5M1339.5 220.7V227.5M1342.5 217.9V225.9M1345.5 217.2V224.5M1346.5 220.9V228.6M1347.5 222.4V231.2M1348.5 226.7V233.9M1349.5 228.2V237.8M1350.5 233.3V243.4M1351.5 239.8V244.6M1353.5 241.1V248.4M1355.5 243.7V249.2M1357.5 244.4V250.8M1358.5 247.5V256.3M1359.5 252.0V259.1M1360.5 257.5V273.0M1361.5 266.1V286.2M1362.5 276.3V288.8M1364.5 286.0V302.0M1367.5 284.6V290.1M1370.5 276.0V285.4M1371.5 283.8V293.0M1372.5 291.2V300.8M1373.5 297.9V301.1M1374.5 298.6V310.2M1375.5 303.8V312.4M1376.5 308.2V318.7M1377.5 315.3V321.6M1378.5 317.6V323.9M1379.5 320.4V323.6M1380.5 321.7V331.0M1381.5 322.3V326.0M1395.5 290.3V295.9M1396.5 291.2V294.6M1397.5 292.7V298.1M1398.5 294.0V304.1M1401.5 294.8V305.0M1410.5 280.7V287.4M1415.5 272.3V278.1M1416.5 272.7V284.4M1417.5 279.5V285.5M1418.5 279.0V284.5M1419.5 280.0V295.2M1420.5 288.2V302.3M1421.5 297.8V308.8M1422.5 303.1V311.1M1424.5 305.9V311.0M1425.5 307.1V314.0M1428.5 308.6V313.9M1429.5 309.1V317.2M1430.5 314.4V316.2M1431.5 314.3V319.2M1433.5 315.3V319.6M1434.5 317.2V322.9M1435.5 317.6V323.9M1436.5 320.5V326.2M1438.5 315.9V326.2M1439.5 320.9V331.6M1440.5 326.7V333.9M1441.5 329.3V337.1M1442.5 330.5V340.7M1444.5 336.9V341.6M1445.5 338.4V342.8M1446.5 339.9V344.7M1447.5 341.9V349.9M1448.5 348.2V362.7M1452.5 347.8V350.6M1454.5 346.3V353.1M1457.5 347.0V352.9M1458.5 346.4V359.0M1459.5 350.1V355.3M1460.5 352.1V355.7M1469.5 328.5V332.2M1470.5 328.1V332.1M1472.5 325.0V332.4M1474.5 325.2V331.6M1476.5 327.1V331.3M1477.5 325.7V331.3M1488.5 287.0V295.4M1489.5 290.4V293.8M1490.5 292.1V296.2M1493.5 277.5V288.2M1494.5 284.7V293.6M1495.5 289.1V296.3M1496.5 292.0V299.8M1498.5 295.5V305.7M1499.5 300.1V316.6M1500.5 313.9V319.4M1501.5 316.5V321.7M1502.5 318.4V327.2M1504.5 322.2V326.6M1515.5 271.4V279.7M1516.5 272.0V281.6M1517.5 276.0V286.6M1519.5 278.0V285.5M1520.5 282.1V292.6M1521.5 289.2V297.5M1524.5 292.4V300.6M1525.5 295.6V302.2M1526.5 297.5V303.5M1527.5 300.3V306.5M1530.5 298.9V308.7M1537.5 294.3V298.9M1538.5 295.3V298.3M1541.5 285.3V290.9M1542.5 284.7V291.8M1549.5 277.0V289.2M1550.5 283.4V291.2M1551.5 287.7V296.0M1552.5 292.9V299.3M1554.5 291.2V299.8M1555.5 293.2V300.7M1556.5 296.5V302.6M1557.5 299.8V303.8M1558.5 298.9V305.1M1560.5 298.8V302.1M1562.5 298.3V304.4M1564.5 302.1V311.6M1565.5 308.8V326.5M1566.5 322.4V341.5M1567.5 338.3V353.3M1568.5 352.3V358.1M1569.5 353.0V360.7M1570.5 356.3V361.2M1571.5 354.3V361.2M1572.5 358.1V365.1M1574.5 357.9V364.5M1575.5 359.7V365.2M1576.5 362.0V364.1M1577.5 361.2V372.5M1579.5 367.2V391.0M1580.5 369.8V375.8M1581.5 372.5V381.4" stroke="#17d38f"/>
<path d="M57.5 779.5V769.0M59.5 779.5V774.5M61.5 779.5V768.5M66.5 779.5V768.5M68.5 779.5V764.3M69.5 779.5V760.3M70.5 779.5V760.1M74.5 779.5V727.5M75.5 779.5V732.0M86.5 779.5V728.7M89.5 779.5V730.6M90.5 779.5V728.3M91.5 779.5V719.6M92.5 779.5V728.1M93.5 779.5V711.8M94.5 779.5V737.9M95.5 779.5V728.2M96.5 779.5V758.1M97.5 779.5V764.6M99.5 779.5V759.6M100.5 779.5V770.4M101.5 779.5V764.1M102.5 779.5V763.6M103.5 779.5V775.1M105.5 779.5V764.2M106.5 779.5V754.8M112.5 779.5V765.8M115.5 779.5V765.5M117.5 779.5V747.6M118.5 779.5V687.0M119.5 779.5V733.9M122.5 779.5V699.0M123.5 779.5V714.1M124.5 779.5V713.8M125.5 779.5V756.4M128.5 779.5V757.7M129.5 779.5V760.2M133.5 779.5V766.8M134.5 779.5V772.0M136.5 779.5V776.8M137.5 779.5V775.5M146.5 779.5V721.1M148.5 779.5V729.6M152.5 779.5V747.9M153.5 779.5V766.1M155.5 779.5V768.5M158.5 779.5V757.7M165.5 779.5V715.1M166.5 779.5V692.2M168.5 779.5V747.3M169.5 779.5V737.2M170.5 779.5V749.2M171.5 779.5V748.9M174.5 779.5V768.3M175.5 779.5V768.2M180.5 779.5V768.0M182.5 779.5V767.1M183.5 779.5V763.0M189.5 779.5V763.8M190.5 779.5V766.2M191.5 779.5V766.9M192.5 779.5V765.7M193.5 779.5V733.4M194.5 779.5V775.8M195.5 779.5V772.8M196.5 779.5V764.8M197.5 779.5V755.8M199.5 779.5V771.7M200.5 779.5V754.2M201.5 779.5V775.4M202.5 779.5V770.4M204.5 779.5V773.6M205.5 779.5V761.1M208.5 779.5V770.9M209.5 779.5V770.3M213.5 779.5V744.6M215.5 779.5V692.0M216.5 779.5V741.0M218.5 779.5V741.5M219.5 779.5V707.1M220.5 779.5V721.5M221.5 779.5V735.6M222.5 779.5V739.6M223.5 779.5V746.3M224.5 779.5V731.4M227.5 779.5V758.5M228.5 779.5V767.5M232.5 779.5V757.5M233.5 779.5V767.8M234.5 779.5V763.3M237.5 779.5V745.5M238.5 779.5V634.6M239.5 779.5V743.1M240.5 779.5V745.2M241.5 779.5V708.8M244.5 779.5V727.5M248.5 779.5V760.9M249.5 779.5V755.6M252.5 779.5V779.0M253.5 779.5V779.0M254.5 779.5V779.0M255.5 779.5V779.0M256.5 779.5V779.0M257.5 779.5V779.0M258.5 779.5V779.0M259.5 779.5V779.0M260.5 779.5V779.0M261.5 779.5V779.0M262.5 779.5V779.0M263.5 779.5V779.0M264.5 779.5V779.0M265.5 779.5V779.0M267.5 779.5V779.0M268.5 779.5V779.0M269.5 779.5V779.0M270.5 779.5V779.0M271.5 779.5V779.0M272.5 779.5V779.0M273.5 779.5V779.0M274.5 779.5V779.0M275.5 779.5V779.0M276.5 779.5V779.0M277.5 779.5V779.0M278.5 779.5V779.0M279.5 779.5V779.0M280.5 779.5V779.0M281.5 779.5V779.0M282.5 779.5V779.0M283.5 779.5V779.0M284.5 779.5V779.0M285.5 779.5V779.0M287.5 779.5V601.0M288.5 779.5V727.1M289.5 779.5V743.7M290.5 779.5V705.6M291.5 779.5V707.8M292.5 779.5V689.5M293.5 779.5V691.0M295.5 779.5V736.8M298.5 779.5V757.2M299.5 779.5V763.6M301.5 779.5V771.8M304.5 779.5V771.2M308.5 779.5V763.7M310.5 779.5V753.7M314.5 779.5V733.4M316.5 779.5V749.7M317.5 779.5V752.6M318.5 779.5V758.5M320.5 779.5V767.7M331.5 779.5V760.6M332.5 779.5V764.0M333.5 779.5V758.3M335.5 779.5V767.2M336.5 779.5V768.6M339.5 779.5V767.4M340.5 779.5V764.6M341.5 779.5V764.8M342.5 779.5V771.3M343.5 779.5V770.6M349.5 779.5V770.8M350.5 779.5V767.1M354.5 779.5V772.6M357.5 779.5V758.5M359.5 779.5V762.1M360.5 779.5V765.2M361.5 779.5V743.6M367.5 779.5V740.4M368.5 779.5V761.8M369.5 779.5V766.4M370.5 779.5V758.9M371.5 779.5V765.6M372.5 779.5V765.9M375.5 779.5V767.0M376.5 779.5V769.0M378.5 779.5V761.8M381.5 779.5V772.0M384.5 779.5V754.7M387.5 779.5V769.0M388.5 779.5V768.0M389.5 779.5V770.3M390.5 779.5V768.8M392.5 779.5V761.2M393.5 779.5V766.8M394.5 779.5V769.0M398.5 779.5V770.3M399.5 779.5V763.4M401.5 779.5V770.7M402.5 779.5V767.2M403.5 779.5V769.5M405.5 779.5V768.5M408.5 779.5V760.3M409.5 779.5V753.2M410.5 779.5V759.2M411.5 779.5V763.7M413.5 779.5V756.6M414.5 779.5V761.7M417.5 779.5V738.7M418.5 779.5V757.6M421.5 779.5V769.6M422.5 779.5V758.7M425.5 779.5V773.3M427.5 779.5V773.6M431.5 779.5V703.0M432.5 779.5V749.7M433.5 779.5V738.9M434.5 779.5V748.7M435.5 779.5V739.5M443.5 779.5V742.4M444.5 779.5V757.9M445.5 779.5V745.3M447.5 779.5V757.4M448.5 779.5V755.7M449.5 779.5V760.3M450.5 779.5V758.2M460.5 779.5V770.4M462.5 779.5V774.5M463.5 779.5V770.9M465.5 779.5V776.5M473.5 779.5V702.5M474.5 779.5V756.8M475.5 779.5V744.4M476.5 779.5V734.8M477.5 779.5V740.3M479.5 779.5V759.3M480.5 779.5V753.2M481.5 779.5V735.6M483.5 779.5V755.1M485.5 779.5V769.0M489.5 779.5V759.6M491.5 779.5V742.7M492.5 779.5V773.7M493.5 779.5V772.9M496.5 779.5V769.5M499.5 779.5V772.3M500.5 779.5V760.2M501.5 779.5V745.3M502.5 779.5V603.0M516.5 779.5V739.5M517.5 779.5V740.6M519.5 779.5V750.5M521.5 779.5V751.2M522.5 779.5V768.1M525.5 779.5V772.1M527.5 779.5V771.0M528.5 779.5V772.4M530.5 779.5V767.9M532.5 779.5V768.8M534.5 779.5V772.3M537.5 779.5V768.2M540.5 779.5V773.1M541.5 779.5V767.5M542.5 779.5V774.6M543.5 779.5V768.7M544.5 779.5V733.6M552.5 779.5V771.6M553.5 779.5V771.1M554.5 779.5V770.2M555.5 779.5V770.6M556.5 779.5V756.6M557.5 779.5V765.3M558.5 779.5V759.8M559.5 779.5V752.1M560.5 779.5V750.6M561.5 779.5V749.8M564.5 779.5V753.1M569.5 779.5V768.7M570.5 779.5V760.5M571.5 779.5V747.2M572.5 779.5V762.5M573.5 779.5V762.9M575.5 779.5V712.0M578.5 779.5V761.6M583.5 779.5V750.3M596.5 779.5V748.9M597.5 779.5V759.2M598.5 779.5V705.0M599.5 779.5V751.8M601.5 779.5V742.5M602.5 779.5V754.8M603.5 779.5V723.6M606.5 779.5V741.1M615.5 779.5V767.3M616.5 779.5V769.0M617.5 779.5V763.1M618.5 779.5V772.5M620.5 779.5V774.9M623.5 779.5V773.8M624.5 779.5V770.5M627.5 779.5V757.2M628.5 779.5V757.4M629.5 779.5V717.0M630.5 779.5V752.5M631.5 779.5V760.5M632.5 779.5V748.8M635.5 779.5V751.6M637.5 779.5V758.3M639.5 779.5V765.7M641.5 779.5V770.2M646.5 779.5V768.7M647.5 779.5V749.6M649.5 779.5V761.3M653.5 779.5V759.6M655.5 779.5V754.3M657.5 779.5V751.1M659.5 779.5V766.4M662.5 779.5V768.6M663.5 779.5V764.2M664.5 779.5V767.6M671.5 779.5V774.6M673.5 779.5V759.3M677.5 779.5V761.0M678.5 779.5V749.5M680.5 779.5V734.6M682.5 779.5V769.0M683.5 779.5V757.2M684.5 779.5V764.0M686.5 779.5V765.9M687.5 779.5V755.5M693.5 779.5V766.9M694.5 779.5V761.0M696.5 779.5V774.5M697.5 779.5V753.8M698.5 779.5V773.2M699.5 779.5V774.4M700.5 779.5V766.5M701.5 779.5V774.8M702.5 779.5V761.1M703.5 779.5V758.0M706.5 779.5V760.9M707.5 779.5V774.4M709.5 779.5V708.2M710.5 779.5V760.8M718.5 779.5V757.3M719.5 779.5V711.8M720.5 779.5V758.9M721.5 779.5V751.8M722.5 779.5V707.0M724.5 779.5V743.6M728.5 779.5V748.1M730.5 779.5V749.1M732.5 779.5V764.3M734.5 779.5V770.7M737.5 779.5V759.9M740.5 779.5V758.0M742.5 779.5V760.4M743.5 779.5V764.5M744.5 779.5V744.1M746.5 779.5V743.3M750.5 779.5V760.4M751.5 779.5V774.4M752.5 779.5V770.7M758.5 779.5V765.4M759.5 779.5V770.4M762.5 779.5V767.3M763.5 779.5V771.7M766.5 779.5V769.1M767.5 779.5V768.6M768.5 779.5V772.9M769.5 779.5V763.7M770.5 779.5V768.0M776.5 779.5V759.2M778.5 779.5V769.2M779.5 779.5V769.1M780.5 779.5V772.3M782.5 779.5V765.1M783.5 779.5V772.9M784.5 779.5V765.3M786.5 779.5V759.2M787.5 779.5V768.6M788.5 779.5V771.0M789.5 779.5V769.8M790.5 779.5V760.2M791.5 779.5V700.0M794.5 779.5V733.3M796.5 779.5V734.8M797.5 779.5V736.0M799.5 779.5V760.8M800.5 779.5V754.8M803.5 779.5V767.8M804.5 779.5V758.4M806.5 779.5V760.6M807.5 779.5V767.0M809.5 779.5V775.9M811.5 779.5V771.9M812.5 779.5V768.5M813.5 779.5V769.3M815.5 779.5V768.2M816.5 779.5V773.0M819.5 779.5V757.0M821.5 779.5V764.5M822.5 779.5V757.1M824.5 779.5V750.9M826.5 779.5V766.6M827.5 779.5V756.5M828.5 779.5V747.7M829.5 779.5V764.7M831.5 779.5V762.3M832.5 779.5V753.6M834.5 779.5V753.9M835.5 779.5V723.8M836.5 779.5V693.0M837.5 779.5V731.4M838.5 779.5V720.2M849.5 779.5V736.4M851.5 779.5V746.4M852.5 779.5V741.1M853.5 779.5V760.5M854.5 779.5V756.4M855.5 779.5V768.1M861.5 779.5V762.2M864.5 779.5V735.1M867.5 779.5V724.7M868.5 779.5V732.3M869.5 779.5V757.9M870.5 779.5V763.8M871.5 779.5V747.1M872.5 779.5V760.4M875.5 779.5V769.1M876.5 779.5V771.1M878.5 779.5V771.0M881.5 779.5V774.2M883.5 779.5V776.9M887.5 779.5V776.7M890.5 779.5V771.7M891.5 779.5V770.3M893.5 779.5V773.7M898.5 779.5V769.7M900.5 779.5V776.9M911.5 779.5V749.0M913.5 779.5V740.4M914.5 779.5V762.8M916.5 779.5V762.5M917.5 779.5V768.4M918.5 779.5V770.3M919.5 779.5V766.8M922.5 779.5V771.6M923.5 779.5V775.6M927.5 779.5V774.5M928.5 779.5V774.7M930.5 779.5V774.5M932.5 779.5V766.9M934.5 779.5V704.0M935.5 779.5V756.3M936.5 779.5V760.3M937.5 779.5V756.7M938.5 779.5V724.9M939.5 779.5V730.2M943.5 779.5V753.6M945.5 779.5V754.0M946.5 779.5V773.0M948.5 779.5V764.8M951.5 779.5V770.6M954.5 779.5V764.8M957.5 779.5V768.2M958.5 779.5V759.2M959.5 779.5V758.2M960.5 779.5V750.2M961.5 779.5V702.0M962.5 779.5V733.8M963.5 779.5V750.5M966.5 779.5V742.8M968.5 779.5V754.5M972.5 779.5V765.7M973.5 779.5V767.2M974.5 779.5V774.5M979.5 779.5V761.4M981.5 779.5V775.4M982.5 779.5V773.7M985.5 779.5V765.1M986.5 779.5V771.9M987.5 779.5V756.8M988.5 779.5V776.0M990.5 779.5V770.3M991.5 779.5V771.1M993.5 779.5V771.6M994.5 779.5V776.3M996.5 779.5V776.3M997.5 779.5V774.0M1000.5 779.5V771.7M1001.5 779.5V777.5M1002.5 779.5V757.3M1005.5 779.5V767.0M1006.5 779.5V761.3M1008.5 779.5V757.5M1010.5 779.5V750.4M1011.5 779.5V752.5M1013.5 779.5V738.2M1014.5 779.5V760.6M1016.5 779.5V766.8M1017.5 779.5V767.3M1019.5 779.5V770.9M1021.5 779.5V760.4M1026.5 779.5V773.1M1027.5 779.5V774.2M1030.5 779.5V764.5M1031.5 779.5V762.4M1032.5 779.5V760.7M1039.5 779.5V758.0M1043.5 779.5V767.0M1046.5 779.5V772.4M1048.5 779.5V773.5M1050.5 779.5V776.3M1051.5 779.5V767.4M1052.5 779.5V777.9M1053.5 779.5V776.5M1054.5 779.5V769.0M1055.5 779.5V777.4M1058.5 779.5V775.5M1061.5 779.5V770.0M1062.5 779.5V776.7M1065.5 779.5V773.6M1066.5 779.5V775.8M1067.5 779.5V776.0M1069.5 779.5V776.5M1070.5 779.5V769.9M1071.5 779.5V766.8M1072.5 779.5V772.9M1073.5 779.5V769.1M1074.5 779.5V768.8M1075.5 779.5V769.9M1086.5 779.5V750.5M1087.5 779.5V765.9M1088.5 779.5V757.3M1089.5 779.5V763.7M1090.5 779.5V766.3M1091.5 779.5V771.0M1092.5 779.5V771.3M1093.5 779.5V773.8M1094.5 779.5V771.1M1099.5 779.5V775.0M1105.5 779.5V766.2M1106.5 779.5V771.9M1108.5 779.5V772.3M1109.5 779.5V778.1M1110.5 779.5V771.7M1111.5 779.5V773.0M1113.5 779.5V759.8M1115.5 779.5V775.1M1118.5 779.5V776.9M1121.5 779.5V768.3M1123.5 779.5V772.4M1130.5 779.5V766.3M1132.5 779.5V777.2M1133.5 779.5V770.8M1134.5 779.5V775.8M1137.5 779.5V776.2M1138.5 779.5V772.1M1140.5 779.5V771.2M1143.5 779.5V762.1M1145.5 779.5V773.7M1150.5 779.5V770.8M1151.5 779.5V739.0M1153.5 779.5V762.2M1154.5 779.5V760.2M1155.5 779.5V768.9M1158.5 779.5V772.4M1159.5 779.5V771.3M1160.5 779.5V772.0M1161.5 779.5V771.7M1163.5 779.5V772.1M1165.5 779.5V775.6M1167.5 779.5V769.0M1168.5 779.5V769.7M1169.5 779.5V769.9M1170.5 779.5V771.4M1171.5 779.5V777.0M1172.5 779.5V762.9M1173.5 779.5V772.7M1174.5 779.5V774.6M1175.5 779.5V769.4M1176.5 779.5V766.4M1181.5 779.5V774.4M1182.5 779.5V768.4M1183.5 779.5V750.1M1187.5 779.5V773.4M1188.5 779.5V774.8M1189.5 779.5V776.5M1190.5 779.5V773.2M1191.5 779.5V773.3M1192.5 779.5V775.6M1193.5 779.5V773.1M1194.5 779.5V774.0M1196.5 779.5V775.1M1197.5 779.5V769.8M1198.5 779.5V769.2M1199.5 779.5V767.4M1202.5 779.5V763.4M1206.5 779.5V771.2M1208.5 779.5V776.5M1209.5 779.5V773.6M1212.5 779.5V774.2M1213.5 779.5V758.6M1214.5 779.5V771.5M1215.5 779.5V772.1M1218.5 779.5V775.3M1221.5 779.5V771.9M1222.5 779.5V738.0M1226.5 779.5V763.6M1227.5 779.5V768.3M1228.5 779.5V767.4M1229.5 779.5V764.7M1231.5 779.5V774.9M1234.5 779.5V773.5M1249.5 779.5V758.7M1250.5 779.5V761.7M1251.5 779.5V759.4M1253.5 779.5V760.6M1254.5 779.5V769.5M1255.5 779.5V771.8M1257.5 779.5V770.2M1258.5 779.5V772.6M1261.5 779.5V760.8M1265.5 779.5V774.9M1275.5 779.5V772.5M1286.5 779.5V758.5M1287.5 779.5V759.0M1289.5 779.5V772.3M1290.5 779.5V766.4M1291.5 779.5V771.6M1296.5 779.5V757.8M1297.5 779.5V760.8M1298.5 779.5V764.7M1299.5 779.5V767.2M1300.5 779.5V773.0M1301.5 779.5V768.0M1304.5 779.5V773.1M1305.5 779.5V773.3M1306.5 779.5V772.6M1307.5 779.5V761.3M1308.5 779.5V774.3M1309.5 779.5V774.6M1311.5 779.5V777.4M1314.5 779.5V776.3M1316.5 779.5V773.7M1317.5 779.5V769.6M1321.5 779.5V763.9M1322.5 779.5V764.8M1328.5 779.5V772.6M1329.5 779.5V769.3M1335.5 779.5V772.7M1336.5 779.5V774.5M1337.5 779.5V774.8M1340.5 779.5V768.8M1341.5 779.5V777.2M1344.5 779.5V756.9M1352.5 779.5V760.3M1354.5 779.5V774.1M1356.5 779.5V765.2M1365.5 779.5V755.5M1366.5 779.5V759.1M1368.5 779.5V771.0M1369.5 779.5V766.6M1382.5 779.5V762.9M1384.5 779.5V767.0M1385.5 779.5V764.7M1386.5 779.5V769.3M1387.5 779.5V771.6M1388.5 779.5V769.3M1389.5 779.5V773.7M1390.5 779.5V774.2M1391.5 779.5V770.9M1392.5 779.5V774.2M1393.5 779.5V774.1M1394.5 779.5V774.0M1399.5 779.5V772.0M1400.5 779.5V773.2M1402.5 779.5V776.3M1404.5 779.5V773.9M1405.5 779.5V774.1M1406.5 779.5V769.4M1407.5 779.5V774.5M1408.5 779.5V776.4M1409.5 779.5V777.3M1411.5 779.5V767.4M1412.5 779.5V772.2M1413.5 779.5V775.1M1414.5 779.5V761.1M1426.5 779.5V766.6M1427.5 779.5V775.8M1432.5 779.5V773.2M1437.5 779.5V770.2M1449.5 779.5V765.5M1450.5 779.5V771.7M1451.5 779.5V770.1M1453.5 779.5V765.6M1455.5 779.5V771.8M1456.5 779.5V762.9M1461.5 779.5V775.0M1462.5 779.5V775.3M1464.5 779.5V775.1M1465.5 779.5V776.2M1466.5 779.5V774.8M1467.5 779.5V774.7M1468.5 779.5V765.7M1471.5 779.5V773.0M1473.5 779.5V765.8M1475.5 779.5V776.4M1478.5 779.5V768.9M1479.5 779.5V772.2M1480.5 779.5V774.4M1481.5 779.5V764.7M1482.5 779.5V772.3M1484.5 779.5V768.8M1485.5 779.5V768.4M1486.5 779.5V766.4M1487.5 779.5V770.0M1491.5 779.5V768.9M1492.5 779.5V765.8M1497.5 779.5V734.0M1505.5 779.5V774.5M1506.5 779.5V762.5M1507.5 779.5V764.5M1508.5 779.5V774.8M1509.5 779.5V773.0M1510.5 779.5V770.1M1511.5 779.5V769.3M1512.5 779.5V766.2M1513.5 779.5V768.8M1514.5 779.5V768.2M1518.5 779.5V769.6M1522.5 779.5V776.0M1528.5 779.5V769.1M1529.5 779.5V775.8M1531.5 779.5V768.6M1532.5 779.5V773.5M1533.5 779.5V775.3M1534.5 779.5V773.7M1535.5 779.5V773.3M1536.5 779.5V777.5M1539.5 779.5V767.0M1540.5 779.5V777.5M1544.5 779.5V774.4M1545.5 779.5V763.3M1546.5 779.5V774.0M1547.5 779.5V775.9M1548.5 779.5V773.5M1553.5 779.5V774.7M1559.5 779.5V771.9M1561.5 779.5V768.8M1573.5 779.5V758.4M1578.5 779.5V769.4M1583.5 779.5V774.3" stroke="#f2344f"/>
<path d="M58.5 779.5V772.1M60.5 779.5V770.9M62.5 779.5V772.8M63.5 779.5V772.2M64.5 779.5V771.6M65.5 779.5V766.9M71.5 779.5V760.6M72.5 779.5V746.4M73.5 779.5V743.2M76.5 779.5V743.0M77.5 779.5V744.7M78.5 779.5V756.5M79.5 779.5V751.4M80.5 779.5V760.4M81.5 779.5V766.2M82.5 779.5V740.2M83.5 779.5V760.1M84.5 779.5V668.0M85.5 779.5V739.6M88.5 779.5V733.6M98.5 779.5V761.8M104.5 779.5V773.2M108.5 779.5V770.2M109.5 779.5V772.8M110.5 779.5V773.8M111.5 779.5V767.6M113.5 779.5V770.7M114.5 779.5V771.3M116.5 779.5V752.8M120.5 779.5V709.7M121.5 779.5V725.7M126.5 779.5V742.5M130.5 779.5V763.2M131.5 779.5V767.4M132.5 779.5V767.1M135.5 779.5V767.4M138.5 779.5V773.8M139.5 779.5V752.8M140.5 779.5V764.4M141.5 779.5V743.5M142.5 779.5V657.5M143.5 779.5V749.5M144.5 779.5V737.7M145.5 779.5V714.9M149.5 779.5V756.7M150.5 779.5V739.8M151.5 779.5V752.9M154.5 779.5V767.0M156.5 779.5V769.5M157.5 779.5V766.0M159.5 779.5V761.6M160.5 779.5V748.4M161.5 779.5V756.2M162.5 779.5V707.5M163.5 779.5V737.2M164.5 779.5V757.0M172.5 779.5V759.6M173.5 779.5V765.2M176.5 779.5V764.8M177.5 779.5V765.8M178.5 779.5V769.4M179.5 779.5V749.9M181.5 779.5V770.8M184.5 779.5V767.5M185.5 779.5V765.9M186.5 779.5V754.6M188.5 779.5V756.1M198.5 779.5V766.0M203.5 779.5V772.3M206.5 779.5V775.5M210.5 779.5V769.4M211.5 779.5V699.9M212.5 779.5V758.2M214.5 779.5V750.2M217.5 779.5V741.2M225.5 779.5V763.0M229.5 779.5V761.5M230.5 779.5V769.9M231.5 779.5V753.3M235.5 779.5V739.0M236.5 779.5V759.8M242.5 779.5V705.9M243.5 779.5V732.3M245.5 779.5V741.0M247.5 779.5V741.2M250.5 779.5V761.2M251.5 779.5V766.8M294.5 779.5V738.5M296.5 779.5V751.6M297.5 779.5V747.8M300.5 779.5V754.3M302.5 779.5V756.6M303.5 779.5V762.9M305.5 779.5V772.7M307.5 779.5V773.3M309.5 779.5V768.8M311.5 779.5V756.9M312.5 779.5V745.7M313.5 779.5V718.8M315.5 779.5V744.5M319.5 779.5V733.2M321.5 779.5V762.4M322.5 779.5V757.1M323.5 779.5V764.2M324.5 779.5V762.9M325.5 779.5V764.9M327.5 779.5V764.0M328.5 779.5V763.2M329.5 779.5V763.4M330.5 779.5V766.3M334.5 779.5V769.6M337.5 779.5V765.2M338.5 779.5V771.8M344.5 779.5V774.2M345.5 779.5V775.4M347.5 779.5V760.1M348.5 779.5V773.8M351.5 779.5V774.2M352.5 779.5V750.6M353.5 779.5V768.8M355.5 779.5V769.4M356.5 779.5V771.6M358.5 779.5V709.6M362.5 779.5V742.3M363.5 779.5V728.8M364.5 779.5V731.9M365.5 779.5V740.4M373.5 779.5V771.7M374.5 779.5V754.8M377.5 779.5V771.2M379.5 779.5V770.2M380.5 779.5V762.7M382.5 779.5V751.4M383.5 779.5V754.3M385.5 779.5V753.5M391.5 779.5V766.3M395.5 779.5V774.5M396.5 779.5V769.5M397.5 779.5V770.7M400.5 779.5V760.1M404.5 779.5V776.2M407.5 779.5V763.8M412.5 779.5V739.6M415.5 779.5V749.9M416.5 779.5V758.7M419.5 779.5V762.8M420.5 779.5V769.0M423.5 779.5V776.5M424.5 779.5V770.2M428.5 779.5V770.3M429.5 779.5V755.7M430.5 779.5V765.7M436.5 779.5V755.9M437.5 779.5V755.1M438.5 779.5V762.6M439.5 779.5V754.9M440.5 779.5V759.5M441.5 779.5V756.6M442.5 779.5V753.0M451.5 779.5V768.5M452.5 779.5V767.5M453.5 779.5V768.4M454.5 779.5V766.1M455.5 779.5V757.8M456.5 779.5V775.3M457.5 779.5V756.9M458.5 779.5V771.4M459.5 779.5V769.5M461.5 779.5V772.7M464.5 779.5V770.2M467.5 779.5V765.4M468.5 779.5V772.9M469.5 779.5V776.5M470.5 779.5V761.6M471.5 779.5V762.0M472.5 779.5V752.3M478.5 779.5V751.2M482.5 779.5V768.0M484.5 779.5V760.6M487.5 779.5V772.7M488.5 779.5V770.5M490.5 779.5V766.3M494.5 779.5V773.7M495.5 779.5V772.1M497.5 779.5V771.3M498.5 779.5V774.0M503.5 779.5V739.6M504.5 779.5V732.0M505.5 779.5V685.0M507.5 779.5V701.5M508.5 779.5V729.9M509.5 779.5V684.2M510.5 779.5V742.9M511.5 779.5V725.0M512.5 779.5V755.5M513.5 779.5V754.5M514.5 779.5V744.9M515.5 779.5V749.6M518.5 779.5V756.5M520.5 779.5V747.0M523.5 779.5V768.3M524.5 779.5V765.7M529.5 779.5V762.6M531.5 779.5V770.1M533.5 779.5V770.1M535.5 779.5V768.6M536.5 779.5V765.6M538.5 779.5V773.0M539.5 779.5V773.5M545.5 779.5V774.8M547.5 779.5V759.7M548.5 779.5V764.1M549.5 779.5V751.9M550.5 779.5V770.4M551.5 779.5V770.7M562.5 779.5V740.5M563.5 779.5V765.5M566.5 779.5V754.1M567.5 779.5V754.2M568.5 779.5V759.8M574.5 779.5V757.9M576.5 779.5V756.0M577.5 779.5V741.6M579.5 779.5V751.9M580.5 779.5V741.1M581.5 779.5V736.5M582.5 779.5V746.5M584.5 779.5V759.4M586.5 779.5V751.2M587.5 779.5V765.1M588.5 779.5V751.9M589.5 779.5V761.1M590.5 779.5V764.2M591.5 779.5V760.9M592.5 779.5V752.6M593.5 779.5V733.2M594.5 779.5V762.3M595.5 779.5V751.4M600.5 779.5V734.0M604.5 779.5V726.1M607.5 779.5V759.0M608.5 779.5V751.4M609.5 779.5V730.5M610.5 779.5V763.7M611.5 779.5V767.2M612.5 779.5V770.8M613.5 779.5V763.0M614.5 779.5V750.4M619.5 779.5V771.7M621.5 779.5V763.9M622.5 779.5V761.7M626.5 779.5V767.4M633.5 779.5V741.3M634.5 779.5V742.2M636.5 779.5V746.8M638.5 779.5V766.0M640.5 779.5V770.5M642.5 779.5V764.6M643.5 779.5V761.5M644.5 779.5V766.6M648.5 779.5V758.3M650.5 779.5V756.8M651.5 779.5V750.9M652.5 779.5V753.6M654.5 779.5V761.3M656.5 779.5V764.9M658.5 779.5V760.3M660.5 779.5V770.1M661.5 779.5V771.4M666.5 779.5V735.1M667.5 779.5V765.2M668.5 779.5V767.2M669.5 779.5V764.9M670.5 779.5V769.9M672.5 779.5V763.7M674.5 779.5V761.0M675.5 779.5V767.4M676.5 779.5V755.8M679.5 779.5V747.6M681.5 779.5V762.6M688.5 779.5V770.8M689.5 779.5V775.6M690.5 779.5V771.6M691.5 779.5V764.1M692.5 779.5V762.5M695.5 779.5V772.7M704.5 779.5V769.0M708.5 779.5V774.3M711.5 779.5V770.5M712.5 779.5V772.8M713.5 779.5V769.2M714.5 779.5V775.7M715.5 779.5V755.7M716.5 779.5V770.7M717.5 779.5V773.4M723.5 779.5V731.2M726.5 779.5V741.3M727.5 779.5V748.0M729.5 779.5V754.1M731.5 779.5V759.6M733.5 779.5V766.2M735.5 779.5V766.3M736.5 779.5V762.2M738.5 779.5V767.6M739.5 779.5V766.6M741.5 779.5V765.8M747.5 779.5V763.1M748.5 779.5V759.9M749.5 779.5V758.8M753.5 779.5V771.8M754.5 779.5V770.8M755.5 779.5V762.5M756.5 779.5V766.1M757.5 779.5V759.9M760.5 779.5V773.8M761.5 779.5V770.8M764.5 779.5V761.8M771.5 779.5V772.2M772.5 779.5V764.6M773.5 779.5V764.3M774.5 779.5V766.1M775.5 779.5V754.9M777.5 779.5V757.8M781.5 779.5V770.2M792.5 779.5V728.7M793.5 779.5V735.5M795.5 779.5V740.4M798.5 779.5V747.7M801.5 779.5V761.5M802.5 779.5V766.6M808.5 779.5V771.6M810.5 779.5V741.5M814.5 779.5V764.7M817.5 779.5V769.9M818.5 779.5V758.7M820.5 779.5V766.1M823.5 779.5V757.3M830.5 779.5V766.9M833.5 779.5V761.3M839.5 779.5V726.1M840.5 779.5V751.7M841.5 779.5V749.7M842.5 779.5V752.7M843.5 779.5V751.3M844.5 779.5V754.0M846.5 779.5V682.5M847.5 779.5V747.3M848.5 779.5V709.4M850.5 779.5V744.8M856.5 779.5V767.4M857.5 779.5V764.3M858.5 779.5V768.2M859.5 779.5V763.2M860.5 779.5V755.6M862.5 779.5V692.0M863.5 779.5V739.9M866.5 779.5V729.8M873.5 779.5V765.7M874.5 779.5V766.2M877.5 779.5V766.5M879.5 779.5V765.1M880.5 779.5V774.2M882.5 779.5V776.1M884.5 779.5V774.6M886.5 779.5V764.1M888.5 779.5V776.5M889.5 779.5V776.1M892.5 779.5V770.9M894.5 779.5V772.3M895.5 779.5V770.3M896.5 779.5V775.2M897.5 779.5V776.6M899.5 779.5V772.1M901.5 779.5V775.6M902.5 779.5V774.3M903.5 779.5V768.0M905.5 779.5V771.6M906.5 779.5V768.8M907.5 779.5V757.6M908.5 779.5V753.5M909.5 779.5V763.1M910.5 779.5V730.7M912.5 779.5V744.9M915.5 779.5V765.3M920.5 779.5V770.4M921.5 779.5V774.6M925.5 779.5V776.4M926.5 779.5V776.1M929.5 779.5V751.9M931.5 779.5V773.1M933.5 779.5V765.1M940.5 779.5V746.4M941.5 779.5V762.9M942.5 779.5V738.1M947.5 779.5V769.1M949.5 779.5V763.8M950.5 779.5V771.7M952.5 779.5V771.9M953.5 779.5V776.4M955.5 779.5V775.6M956.5 779.5V775.7M965.5 779.5V729.9M967.5 779.5V737.5M969.5 779.5V752.8M970.5 779.5V764.1M971.5 779.5V760.0M975.5 779.5V773.9M976.5 779.5V767.6M977.5 779.5V769.2M978.5 779.5V775.9M980.5 779.5V773.0M983.5 779.5V768.3M989.5 779.5V774.3M992.5 779.5V774.0M995.5 779.5V775.4M998.5 779.5V770.7M999.5 779.5V773.3M1003.5 779.5V775.5M1007.5 779.5V717.0M1009.5 779.5V757.2M1012.5 779.5V760.0M1015.5 779.5V762.2M1018.5 779.5V759.3M1020.5 779.5V767.3M1022.5 779.5V774.9M1023.5 779.5V767.3M1025.5 779.5V776.6M1028.5 779.5V761.9M1029.5 779.5V752.3M1033.5 779.5V758.7M1034.5 779.5V737.0M1035.5 779.5V748.9M1036.5 779.5V737.9M1037.5 779.5V761.6M1038.5 779.5V750.3M1040.5 779.5V762.1M1041.5 779.5V770.1M1042.5 779.5V769.8M1045.5 779.5V772.2M1047.5 779.5V758.7M1049.5 779.5V776.5M1056.5 779.5V775.4M1057.5 779.5V769.4M1059.5 779.5V773.9M1060.5 779.5V774.8M1063.5 779.5V775.9M1068.5 779.5V775.6M1076.5 779.5V767.9M1077.5 779.5V762.1M1078.5 779.5V764.2M1079.5 779.5V718.0M1080.5 779.5V749.1M1081.5 779.5V754.8M1082.5 779.5V758.8M1083.5 779.5V746.0M1085.5 779.5V755.4M1095.5 779.5V775.4M1096.5 779.5V775.5M1097.5 779.5V774.1M1098.5 779.5V773.4M1100.5 779.5V767.6M1101.5 779.5V777.0M1102.5 779.5V776.0M1103.5 779.5V769.3M1107.5 779.5V775.2M1112.5 779.5V775.4M1114.5 779.5V776.8M1116.5 779.5V774.3M1117.5 779.5V771.1M1119.5 779.5V772.2M1120.5 779.5V775.8M1122.5 779.5V777.2M1125.5 779.5V772.3M1126.5 779.5V772.6M1127.5 779.5V775.9M1128.5 779.5V777.0M1129.5 779.5V776.6M1131.5 779.5V770.4M1135.5 779.5V772.0M1136.5 779.5V770.0M1139.5 779.5V777.1M1141.5 779.5V775.9M1142.5 779.5V769.9M1146.5 779.5V767.0M1147.5 779.5V770.2M1148.5 779.5V770.2M1149.5 779.5V767.8M1152.5 779.5V760.9M1156.5 779.5V764.2M1157.5 779.5V767.2M1162.5 779.5V768.4M1166.5 779.5V766.3M1177.5 779.5V767.1M1178.5 779.5V759.8M1179.5 779.5V771.2M1180.5 779.5V763.9M1185.5 779.5V761.9M1186.5 779.5V771.7M1195.5 779.5V771.5M1200.5 779.5V767.5M1201.5 779.5V768.7M1203.5 779.5V772.9M1205.5 779.5V774.5M1207.5 779.5V773.7M1210.5 779.5V766.5M1211.5 779.5V771.9M1216.5 779.5V773.4M1217.5 779.5V777.0M1219.5 779.5V770.5M1220.5 779.5V772.8M1223.5 779.5V767.7M1225.5 779.5V761.9M1230.5 779.5V769.6M1232.5 779.5V770.4M1233.5 779.5V774.6M1235.5 779.5V776.6M1236.5 779.5V764.4M1237.5 779.5V770.9M1238.5 779.5V775.9M1239.5 779.5V774.2M1240.5 779.5V758.9M1241.5 779.5V773.5M1242.5 779.5V776.2M1244.5 779.5V769.6M1245.5 779.5V767.6M1246.5 779.5V766.7M1247.5 779.5V761.1M1248.5 779.5V758.3M1252.5 779.5V765.6M1256.5 779.5V766.3M1259.5 779.5V773.9M1260.5 779.5V767.8M1262.5 779.5V773.2M1264.5 779.5V774.2M1266.5 779.5V774.5M1267.5 779.5V774.7M1268.5 779.5V768.4M1269.5 779.5V775.9M1270.5 779.5V773.6M1271.5 779.5V774.5M1272.5 779.5V775.4M1273.5 779.5V769.7M1274.5 779.5V773.8M1276.5 779.5V775.6M1277.5 779.5V762.9M1278.5 779.5V771.6M1279.5 779.5V768.3M1280.5 779.5V761.9M1281.5 779.5V728.0M1282.5 779.5V753.2M1284.5 779.5V752.4M1285.5 779.5V755.7M1288.5 779.5V767.2M1292.5 779.5V763.3M1293.5 779.5V769.3M1294.5 779.5V764.4M1295.5 779.5V765.3M1302.5 779.5V767.5M1310.5 779.5V772.3M1312.5 779.5V775.8M1313.5 779.5V778.6M1315.5 779.5V764.9M1318.5 779.5V768.9M1319.5 779.5V770.0M1320.5 779.5V770.5M1324.5 779.5V761.3M1325.5 779.5V765.9M1326.5 779.5V768.5M1327.5 779.5V771.9M1330.5 779.5V776.1M1331.5 779.5V775.3M1332.5 779.5V774.9M1333.5 779.5V775.2M1334.5 779.5V773.6M1338.5 779.5V776.8M1339.5 779.5V776.8M1342.5 779.5V772.0M1345.5 779.5V776.9M1346.5 779.5V776.0M1347.5 779.5V773.2M1348.5 779.5V776.5M1349.5 779.5V774.8M1350.5 779.5V767.7M1351.5 779.5V774.5M1353.5 779.5V773.7M1355.5 779.5V767.4M1357.5 779.5V776.1M1358.5 779.5V770.7M1359.5 779.5V767.2M1360.5 779.5V766.8M1361.5 779.5V737.0M1362.5 779.5V764.4M1364.5 779.5V751.4M1367.5 779.5V766.7M1370.5 779.5V769.6M1371.5 779.5V769.6M1372.5 779.5V772.2M1373.5 779.5V773.1M1374.5 779.5V771.5M1375.5 779.5V769.4M1376.5 779.5V770.1M1377.5 779.5V774.9M1378.5 779.5V770.6M1379.5 779.5V766.9M1380.5 779.5V769.4M1381.5 779.5V770.3M1395.5 779.5V776.2M1396.5 779.5V769.0M1397.5 779.5V773.2M1398.5 779.5V774.1M1401.5 779.5V772.6M1410.5 779.5V765.4M1415.5 779.5V765.7M1416.5 779.5V773.4M1417.5 779.5V770.4M1418.5 779.5V774.1M1419.5 779.5V770.3M1420.5 779.5V775.0M1421.5 779.5V775.9M1422.5 779.5V765.7M1424.5 779.5V771.4M1425.5 779.5V769.7M1428.5 779.5V767.9M1429.5 779.5V775.0M1430.5 779.5V774.6M1431.5 779.5V775.1M1433.5 779.5V777.2M1434.5 779.5V771.6M1435.5 779.5V772.7M1436.5 779.5V777.4M1438.5 779.5V769.4M1439.5 779.5V772.2M1440.5 779.5V767.3M1441.5 779.5V772.6M1442.5 779.5V765.9M1444.5 779.5V766.8M1445.5 779.5V767.1M1446.5 779.5V748.0M1447.5 779.5V751.1M1448.5 779.5V755.8M1452.5 779.5V767.7M1454.5 779.5V774.0M1457.5 779.5V776.8M1458.5 779.5V768.3M1459.5 779.5V772.2M1460.5 779.5V770.9M1469.5 779.5V773.6M1470.5 779.5V775.8M1472.5 779.5V776.0M1474.5 779.5V777.9M1476.5 779.5V773.3M1477.5 779.5V772.0M1488.5 779.5V769.9M1489.5 779.5V762.8M1490.5 779.5V766.2M1493.5 779.5V772.0M1494.5 779.5V772.9M1495.5 779.5V769.7M1496.5 779.5V775.3M1498.5 779.5V775.6M1499.5 779.5V774.5M1500.5 779.5V776.3M1501.5 779.5V774.7M1502.5 779.5V767.5M1504.5 779.5V774.2M1515.5 779.5V766.8M1516.5 779.5V764.5M1517.5 779.5V771.7M1519.5 779.5V761.2M1520.5 779.5V774.2M1521.5 779.5V750.0M1524.5 779.5V774.7M1525.5 779.5V774.3M1526.5 779.5V772.7M1527.5 779.5V769.0M1530.5 779.5V775.2M1537.5 779.5V775.0M1538.5 779.5V771.2M1541.5 779.5V775.5M1542.5 779.5V776.1M1549.5 779.5V770.9M1550.5 779.5V776.8M1551.5 779.5V774.8M1552.5 779.5V775.4M1554.5 779.5V778.1M1555.5 779.5V774.6M1556.5 779.5V772.7M1557.5 779.5V776.8M1558.5 779.5V776.2M1560.5 779.5V768.0M1562.5 779.5V772.2M1564.5 779.5V775.4M1565.5 779.5V772.5M1566.5 779.5V763.5M1567.5 779.5V764.7M1568.5 779.5V743.0M1569.5 779.5V754.3M1570.5 779.5V758.8M1571.5 779.5V762.3M1572.5 779.5V762.3M1574.5 779.5V764.5M1575.5 779.5V770.8M1576.5 779.5V766.2M1577.5 779.5V772.3M1579.5 779.5V773.5M1580.5 779.5V773.1M1581.5 779.5V772.6" stroke="#17d38f"/>
</g>
<polyline points="57.0,502.7 59.0,502.9 61.0,503.1 63.0,503.3 65.0,503.5 67.0,503.9 69.0,504.2 71.0,504.6 73.0,505.0 75.0,505.3 77.0,505.7 79.0,506.1 81.0,506.5 83.0,506.8 85.0,507.2 87.0,507.6 89.0,508.0 91.0,508.3 93.0,508.7 95.0,509.1 97.0,509.4 99.0,509.8 101.0,510.1 103.0,510.5 105.0,510.8 107.0,511.1 109.0,511.4 111.0,511.8 113.0,512.1 115.0,512.4 117.0,512.7 119.0,513.0 121.0,513.4 123.0,513.7 125.0,514.0 127.0,514.3 129.0,514.6 131.0,515.0 133.0,515.3 135.0,515.6 137.0,515.9 139.0,516.2 141.0,516.6 143.0,516.9 145.0,517.2 147.0,517.6 149.0,518.0 151.0,518.4 153.0,518.8 155.0,519.3 157.0,519.8 159.0,520.2 161.0,520.8 163.0,521.2 165.0,521.8 167.0,522.2 169.0,522.8 171.0,523.2 173.0,523.8 175.0,524.2 177.0,524.8 179.0,525.2 181.0,525.8 183.0,526.2 185.0,526.7 187.0,527.1 189.0,527.5 191.0,527.8 193.0,528.1 195.0,528.3 197.0,528.6 199.0,528.7 201.0,528.9 203.0,529.0 205.0,529.2 207.0,529.4 209.0,529.5 211.0,529.5 213.0,529.4 215.0,529.3 217.0,529.1 219.0,528.8 221.0,528.4 223.0,528.0 225.0,527.5 227.0,527.0 229.0,526.5 231.0,525.9 233.0,525.3 235.0,524.7 237.0,524.0 239.0,523.3 241.0,522.6 243.0,521.8 245.0,521.0 247.0,520.2 249.0,519.4 251.0,518.6 253.0,517.8 255.0,516.9 257.0,516.0 259.0,515.1 261.0,514.1 263.0,513.0 265.0,511.9 267.0,510.8 269.0,509.6 271.0,508.4 273.0,507.2 275.0,506.0 277.0,504.8 279.0,503.5 281.0,502.1 283.0,500.6 285.0,498.9 287.0,497.2 289.0,495.3 291.0,493.3 293.0,491.2 295.0,489.0 297.0,486.8 299.0,484.6 301.0,482.5 303.0,480.4 305.0,478.3 307.0,476.3 309.0,474.3 311.0,472.3 313.0,470.4 315.0,468.5 317.0,466.6 319.0,464.7 321.0,462.8 323.0,460.8 325.0,458.9 327.0,456.9 329.0,455.0 331.0,453.0 333.0,451.0 335.0,449.0 337.0,447.0 339.0,445.0 341.0,443.0 343.0,441.0 345.0,439.0 347.0,437.0 349.0,435.0 351.0,433.0 353.0,431.0 355.0,429.1 357.0,427.2 359.0,425.4 361.0,423.6 363.0,421.9 365.0,420.2 367.0,418.6 369.0,417.0 371.0,415.5 373.0,413.9 375.0,412.4 377.0,410.8 379.0,409.3 381.0,407.7 383.0,406.2 385.0,404.6 387.0,403.1 389.0,401.5 391.0,400.0 393.0,398.4 395.0,396.9 397.0,395.4 399.0,394.0 401.0,392.6 403.0,391.2 405.0,389.8 407.0,388.5 409.0,387.2 411.0,385.8 413.0,384.6 415.0,383.2 417.0,381.9 419.0,380.7 421.0,379.3 423.0,378.1 425.0,376.8 427.0,375.4 429.0,374.2 431.0,372.8 433.0,371.6 435.0,370.4 437.0,369.4 439.0,368.5 441.0,367.7 443.0,367.1 445.0,366.5 447.0,366.1 449.0,365.8 451.0,365.5 453.0,365.3 455.0,365.0 457.0,364.7 459.0,364.5 461.0,364.2 463.0,363.9 465.0,363.7 467.0,363.4 469.0,363.1 471.0,362.9 473.0,362.6 475.0,362.3 477.0,362.1 479.0,361.8 481.0,361.5 483.0,361.3 485.0,361.0 487.0,360.7 489.0,360.5 491.0,360.2 493.0,359.9 495.0,359.8 497.0,359.7 499.0,359.6 501.0,359.6 503.0,359.7 505.0,359.8 507.0,360.1 509.0,360.3 511.0,360.7 513.0,361.0 515.0,361.3 517.0,361.7 519.0,362.1 521.0,362.6 523.0,363.1 525.0,363.6 527.0,364.2 529.0,364.8 531.0,365.5 533.0,366.1 535.0,366.7 537.0,367.3 539.0,368.0 541.0,368.6 543.0,369.2 545.0,369.9 547.0,370.5 549.0,371.1 551.0,371.8 553.0,372.6 555.0,373.4 557.0,374.2 559.0,375.0 561.0,375.9 563.0,376.8 565.0,377.8 567.0,378.8 569.0,379.7 571.0,380.7 573.0,381.6 575.0,382.6 577.0,383.6 579.0,384.6 581.0,385.5 583.0,386.5 585.0,387.5 587.0,388.5 589.0,389.5 591.0,390.5 593.0,391.5 595.0,392.5 597.0,393.5 599.0,394.5 601.0,395.5 603.0,396.5 605.0,397.4 607.0,398.2 609.0,399.0 611.0,399.6 613.0,400.2 615.0,400.8 617.0,401.2 619.0,401.6 621.0,401.9 623.0,402.3 625.0,402.6 627.0,402.9 629.0,403.2 631.0,403.5 633.0,403.7 635.0,404.0 637.0,404.2 639.0,404.5 641.0,404.7 643.0,404.9 645.0,405.2 647.0,405.4 649.0,405.7 651.0,405.9 653.0,406.1 655.0,406.3 657.0,406.4 659.0,406.5 661.0,406.5 663.0,406.4 665.0,406.3 667.0,406.1 669.0,405.9 671.0,405.6 673.0,405.4 675.0,405.1 677.0,404.9 679.0,404.6 681.0,404.4 683.0,404.1 685.0,403.9 687.0,403.6 689.0,403.4 691.0,403.1 693.0,402.9 695.0,402.7 697.0,402.5 699.0,402.3 701.0,402.1 703.0,402.0 705.0,401.9 707.0,401.8 709.0,401.8 711.0,401.7 713.0,401.7 715.0,401.6 717.0,401.6 719.0,401.5 721.0,401.5 723.0,401.4 725.0,401.4 727.0,401.3 729.0,401.3 731.0,401.2 733.0,401.2 735.0,401.1 737.0,401.1 739.0,401.0 741.0,400.9 743.0,400.8 745.0,400.7 747.0,400.6 749.0,400.6 751.0,400.4 753.0,400.3 755.0,400.2 757.0,400.2 759.0,400.1 761.0,399.9 763.0,399.8 765.0,399.8 767.0,399.7 769.0,399.6 771.0,399.4 773.0,399.3 775.0,399.2 777.0,399.1 779.0,399.0 781.0,398.8 783.0,398.7 785.0,398.5 787.0,398.3 789.0,398.1 791.0,397.9 793.0,397.7 795.0,397.5 797.0,397.2 799.0,397.0 801.0,396.7 803.0,396.4 805.0,396.1 807.0,395.8 809.0,395.5 811.0,395.1 813.0,394.8 815.0,394.4 817.0,394.0 819.0,393.5 821.0,393.1 823.0,392.6 825.0,392.1 827.0,391.4 829.0,390.7 831.0,389.9 833.0,389.1 835.0,388.1 837.0,387.1 839.0,386.1 841.0,384.9 843.0,383.8 845.0,382.7 847.0,381.5 849.0,380.4 851.0,379.1 853.0,377.9 855.0,376.6 857.0,375.3 859.0,374.0 861.0,372.7 863.0,371.3 865.0,370.0 867.0,368.7 869.0,367.3 871.0,366.0 873.0,364.8 875.0,363.5 877.0,362.3 879.0,361.1 881.0,360.0 883.0,358.9 885.0,357.8 887.0,356.8 889.0,355.7 891.0,354.7 893.0,353.7 895.0,352.6 897.0,351.6 899.0,350.6 901.0,349.5 903.0,348.5 905.0,347.5 907.0,346.5 909.0,345.5 911.0,344.5 913.0,343.5 915.0,342.5 917.0,341.5 919.0,340.5 921.0,339.5 923.0,338.6 925.0,337.6 927.0,336.7 929.0,335.7 931.0,334.8 933.0,333.9 935.0,333.1 937.0,332.2 939.0,331.3 941.0,330.4 943.0,329.6 945.0,328.7 947.0,327.8 949.0,326.9 951.0,326.1 953.0,325.2 955.0,324.3 957.0,323.5 959.0,322.6 961.0,321.8 963.0,321.0 965.0,320.2 967.0,319.4 969.0,318.5 971.0,317.7 973.0,316.9 975.0,316.1 977.0,315.3 979.0,314.5 981.0,313.7 983.0,312.9 985.0,312.1 987.0,311.3 989.0,310.5 991.0,309.6 993.0,308.8 995.0,308.0 997.0,307.1 999.0,306.1 1001.0,305.1 1003.0,304.1 1005.0,303.1 1007.0,302.0 1009.0,300.8 1011.0,299.7 1013.0,298.5 1015.0,297.4 1017.0,296.2 1019.0,295.1 1021.0,293.9 1023.0,292.8 1025.0,291.6 1027.0,290.5 1029.0,289.3 1031.0,288.2 1033.0,287.0 1035.0,285.9 1037.0,284.7 1039.0,283.6 1041.0,282.5 1043.0,281.4 1045.0,280.3 1047.0,279.2 1049.0,278.1 1051.0,276.9 1053.0,275.8 1055.0,274.7 1057.0,273.5 1059.0,272.2 1061.0,270.9 1063.0,269.5 1065.0,268.0 1067.0,266.6 1069.0,265.0 1071.0,263.5 1073.0,261.9 1075.0,260.4 1077.0,259.0 1079.0,257.6 1081.0,256.2 1083.0,254.9 1085.0,253.6 1087.0,252.3 1089.0,251.1 1091.0,249.9 1093.0,248.7 1095.0,247.5 1097.0,246.3 1099.0,245.1 1101.0,243.9 1103.0,242.7 1105.0,241.5 1107.0,240.3 1109.0,239.1 1111.0,237.9 1113.0,236.7 1115.0,235.6 1117.0,234.5 1119.0,233.5 1121.0,232.5 1123.0,231.6 1125.0,230.7 1127.0,229.9 1129.0,229.1 1131.0,228.4 1133.0,227.7 1135.0,226.9 1137.0,226.2 1139.0,225.4 1141.0,224.7 1143.0,223.9 1145.0,223.1 1147.0,222.4 1149.0,221.6 1151.0,220.8 1153.0,220.0 1155.0,219.2 1157.0,218.4 1159.0,217.6 1161.0,216.8 1163.0,216.0 1165.0,215.2 1167.0,214.4 1169.0,213.5 1171.0,212.6 1173.0,211.7 1175.0,210.8 1177.0,209.8 1179.0,208.8 1181.0,207.8 1183.0,206.7 1185.0,205.6 1187.0,204.5 1189.0,203.4 1191.0,202.3 1193.0,201.1 1195.0,199.9 1197.0,198.7 1199.0,197.4 1201.0,196.2 1203.0,194.9 1205.0,193.6 1207.0,192.3 1209.0,191.0 1211.0,189.6 1213.0,188.3 1215.0,187.0 1217.0,185.7 1219.0,184.4 1221.0,183.1 1223.0,181.8 1225.0,180.5 1227.0,179.2 1229.0,177.9 1231.0,176.7 1233.0,175.4 1235.0,174.2 1237.0,172.9 1239.0,171.8 1241.0,170.7 1243.0,169.6 1245.0,168.7 1247.0,167.8 1249.0,167.0 1251.0,166.2 1253.0,165.5 1255.0,164.9 1257.0,164.3 1259.0,163.7 1261.0,163.2 1263.0,162.8 1265.0,162.3 1267.0,161.9 1269.0,161.6 1271.0,161.3 1273.0,161.0 1275.0,160.8 1277.0,160.7 1279.0,160.6 1281.0,160.6 1283.0,160.6 1285.0,160.7 1287.0,160.9 1289.0,161.1 1291.0,161.4 1293.0,161.6 1295.0,161.9 1297.0,162.2 1299.0,162.5 1301.0,162.8 1303.0,163.1 1305.0,163.5 1307.0,163.8 1309.0,164.2 1311.0,164.7 1313.0,165.1 1315.0,165.6 1317.0,166.1 1319.0,166.7 1321.0,167.3 1323.0,168.0 1325.0,168.7 1327.0,169.5 1329.0,170.3 1331.0,171.2 1333.0,172.0 1335.0,173.0 1337.0,173.9 1339.0,174.9 1341.0,176.0 1343.0,177.1 1345.0,178.3 1347.0,179.6 1349.0,180.8 1351.0,182.2 1353.0,183.5 1355.0,184.8 1357.0,186.2 1359.0,187.6 1361.0,189.0 1363.0,190.5 1365.0,192.1 1367.0,193.6 1369.0,195.2 1371.0,196.8 1373.0,198.4 1375.0,200.1 1377.0,201.8 1379.0,203.5 1381.0,205.3 1383.0,207.2 1385.0,209.1 1387.0,211.0 1389.0,213.0 1391.0,215.0 1393.0,217.0 1395.0,219.0 1397.0,221.0 1399.0,223.0 1401.0,225.0 1403.0,227.0 1405.0,229.0 1407.0,231.1 1409.0,233.2 1411.0,235.3 1413.0,237.4 1415.0,239.6 1417.0,241.8 1419.0,244.0 1421.0,246.3 1423.0,248.5 1425.0,250.7 1427.0,253.0 1429.0,255.2 1431.0,257.3 1433.0,259.4 1435.0,261.5 1437.0,263.4 1439.0,265.4 1441.0,267.2 1443.0,269.0 1445.0,270.8 1447.0,272.5 1449.0,274.2 1451.0,275.9 1453.0,277.6 1455.0,279.3 1457.0,280.9 1459.0,282.5 1461.0,284.1 1463.0,285.7 1465.0,287.2 1467.0,288.7 1469.0,290.1 1471.0,291.6 1473.0,293.1 1475.0,294.6 1477.0,296.1 1479.0,297.5 1481.0,298.8 1483.0,300.1 1485.0,301.3 1487.0,302.4 1489.0,303.4 1491.0,304.4 1493.0,305.3 1495.0,306.1 1497.0,306.9 1499.0,307.7 1501.0,308.5 1503.0,309.3 1505.0,310.1 1507.0,310.8 1509.0,311.4 1511.0,311.8 1513.0,312.2 1515.0,312.5 1517.0,312.6 1519.0,312.6 1521.0,312.6 1523.0,312.5 1525.0,312.4 1527.0,312.3 1529.0,312.2 1531.0,312.1 1533.0,312.0 1535.0,311.9 1537.0,311.8 1539.0,311.7 1541.0,311.7 1543.0,311.6 1545.0,311.6 1547.0,311.5 1549.0,311.5 1551.0,311.5 1553.0,311.5 1555.0,311.5 1557.0,311.5 1559.0,311.6 1561.0,311.8 1563.0,312.1 1565.0,312.5 1567.0,313.0 1569.0,313.7 1571.0,314.4 1573.0,315.2 1575.0,315.9 1577.0,316.4 1579.0,316.9 1581.0,317.3" fill="none" stroke="#d9821e" stroke-width="1.2"/>
<polyline points="57.5,769.0 58.6,770.6 59.6,771.9 60.7,771.6 61.7,771.0 62.8,771.3 63.8,771.4 64.9,771.4 65.9,770.9 67.0,770.7 68.0,770.2 69.1,769.0 70.1,767.6 71.2,766.6 72.2,764.4 73.3,761.4 74.3,756.9 75.4,753.0 76.5,750.6 77.5,748.2 78.6,747.4 79.6,746.5 80.7,746.6 81.7,747.1 82.8,746.5 83.8,748.2 84.9,742.3 85.9,743.0 87.0,741.6 88.0,740.5 89.1,737.9 90.1,735.6 91.2,731.5 92.2,727.7 93.3,724.8 94.3,722.6 95.4,728.6 96.5,730.5 97.5,734.1 98.6,736.9 99.6,739.8 100.7,744.0 101.7,748.5 102.8,752.0 103.8,758.3 104.9,761.9 105.9,765.5 107.0,765.1 108.0,765.7 109.1,766.8 110.1,768.2 111.2,767.9 112.2,768.1 113.3,768.8 114.4,768.4 115.4,767.7 116.5,766.5 117.5,765.8 118.6,757.5 119.6,753.6 120.7,747.2 121.7,743.0 122.8,736.3 123.8,730.7 124.9,724.9 125.9,724.0 127.0,723.0 128.0,724.0 129.1,731.3 130.1,734.2 131.2,740.0 132.2,744.2 133.3,750.9 134.4,756.7 135.4,762.1 136.5,764.1 137.5,767.4 138.6,769.0 139.6,768.3 140.7,768.4 141.7,766.0 142.8,755.0 143.8,753.3 144.9,749.9 145.9,744.6 147.0,739.1 148.0,734.5 149.1,732.8 150.1,731.5 151.2,730.3 152.3,730.8 153.3,741.6 154.4,743.4 155.4,746.4 156.5,751.9 157.5,756.4 158.6,759.2 159.6,759.7 160.7,760.6 161.7,760.9 162.8,756.8 163.8,754.0 164.9,753.0 165.9,747.6 167.0,739.9 168.0,738.0 169.1,736.0 170.1,734.7 171.2,734.8 172.3,735.1 173.3,740.9 174.4,744.0 175.4,745.1 176.5,750.1 177.5,757.4 178.6,759.7 179.6,760.9 180.7,762.8 181.7,765.0 182.8,765.7 183.8,765.5 184.9,765.4 185.9,765.2 187.0,764.2 188.0,763.2 189.1,762.7 190.2,764.3 191.2,764.2 192.3,763.7 193.3,760.3 194.4,761.6 195.4,762.1 196.5,762.0 197.5,762.1 198.6,763.1 199.6,763.9 200.7,762.7 201.7,763.6 202.8,764.0 203.8,767.9 204.9,767.7 205.9,766.5 207.0,767.6 208.0,769.1 209.1,769.5 210.2,769.3 211.2,763.9 212.3,762.2 213.3,759.6 214.4,757.4 215.4,749.2 216.5,747.2 217.5,743.8 218.6,740.8 219.6,734.5 220.7,729.7 221.7,733.3 222.8,731.4 223.8,731.6 224.9,729.7 225.9,736.8 227.0,738.6 228.1,741.2 229.1,743.2 230.2,749.5 231.2,752.7 232.3,754.9 233.3,757.7 234.4,759.4 235.4,760.1 236.5,759.8 237.5,758.5 238.6,745.2 239.6,743.4 240.7,740.9 241.7,736.4 242.8,731.3 243.8,727.7 244.9,724.2 246.0,724.4 247.0,722.5 248.1,724.1 249.1,736.2 250.2,738.0 251.2,740.1 252.3,747.2 253.3,754.5 254.4,759.1 255.4,764.3 256.5,768.1 257.5,771.9 258.6,773.7 259.6,776.0 260.7,777.8 261.7,779.0 262.8,779.0 263.8,779.0 264.9,779.0 266.0,779.0 267.0,779.0 268.1,779.0 269.1,779.0 270.2,779.0 271.2,779.0 272.3,779.0 273.3,779.0 274.4,779.0 275.4,779.0 276.5,779.0 277.5,779.0 278.6,779.0 279.6,779.0 280.7,779.0 281.7,779.0 282.8,779.0 283.9,779.0 284.9,779.0 286.0,779.0 287.0,761.2 288.1,756.0 289.1,752.5 290.2,745.1 291.2,738.0 292.3,729.1 293.3,720.3 294.4,716.2 295.4,712.0 296.5,709.3 297.5,723.9 298.6,726.9 299.6,728.9 300.7,733.8 301.7,740.2 302.8,746.9 303.9,754.1 304.9,757.4 306.0,761.0 307.0,763.2 308.1,764.7 309.1,765.9 310.2,764.9 311.2,765.2 312.3,762.6 313.3,758.8 314.4,755.8 315.4,753.2 316.5,750.8 317.5,748.8 318.6,748.2 319.6,744.7 320.7,746.1 321.8,746.6 322.8,747.8 323.9,752.3 324.9,755.3 326.0,757.3 327.0,758.8 328.1,759.8 329.1,760.3 330.2,763.6 331.2,762.9 332.3,763.1 333.3,763.2 334.4,763.7 335.4,764.2 336.5,764.5 337.5,764.6 338.6,765.5 339.6,765.9 340.7,765.7 341.8,766.1 342.8,766.9 343.9,768.1 344.9,768.6 346.0,769.4 347.0,768.5 348.1,769.4 349.1,769.3 350.2,769.3 351.2,770.2 352.3,768.8 353.3,768.6 354.4,768.8 355.4,768.3 356.5,767.9 357.5,767.7 358.6,761.3 359.7,760.4 360.7,760.3 361.8,757.2 362.8,756.4 363.9,752.4 364.9,748.3 366.0,745.4 367.0,742.3 368.1,742.6 369.1,748.3 370.2,748.0 371.2,748.0 372.3,750.3 373.3,753.2 374.4,755.8 375.4,759.3 376.5,762.1 377.5,765.2 378.6,765.2 379.7,765.6 380.7,766.0 381.8,766.6 382.8,765.2 383.9,763.4 384.9,763.4 386.0,762.1 387.0,762.1 388.1,761.8 389.1,762.6 390.2,762.5 391.2,762.8 392.3,761.8 393.3,763.3 394.4,764.8 395.4,766.7 396.5,768.3 397.6,768.5 398.6,768.7 399.7,768.0 400.7,767.2 401.8,767.6 402.8,768.2 403.9,768.5 404.9,769.2 406.0,768.6 407.0,768.0 408.1,767.0 409.1,765.3 410.2,764.9 411.2,765.2 412.3,762.1 413.3,761.1 414.4,760.3 415.5,757.6 416.5,756.7 417.6,754.2 418.6,753.9 419.7,754.8 420.7,755.8 421.8,756.4 422.8,758.3 423.9,760.3 424.9,761.2 426.0,763.5 427.0,765.0 428.1,768.2 429.1,768.0 430.2,768.3 431.2,761.7 432.3,759.7 433.3,757.7 434.4,754.9 435.5,751.8 436.5,750.1 437.6,748.2 438.6,747.5 439.7,747.4 440.7,746.8 441.8,752.1 442.8,752.5 443.9,752.8 444.9,753.8 446.0,754.3 447.0,754.5 448.1,754.5 449.1,754.3 450.2,754.6 451.2,755.5 452.3,756.6 453.4,758.2 454.4,760.5 455.5,760.5 456.5,763.5 457.6,763.5 458.6,765.1 459.7,766.0 460.7,767.2 461.8,767.6 462.8,768.3 463.9,768.6 464.9,769.0 466.0,770.8 467.0,769.8 468.1,771.4 469.1,772.0 470.2,771.2 471.2,770.3 472.3,768.3 473.4,761.1 474.4,759.7 475.5,757.1 476.5,752.9 477.6,750.4 478.6,748.2 479.7,746.5 480.7,745.7 481.8,743.0 482.8,744.6 483.9,749.9 484.9,750.3 486.0,752.7 487.0,756.5 488.1,759.5 489.1,760.4 490.2,761.1 491.3,760.0 492.3,763.8 493.4,764.3 494.4,766.2 495.5,767.3 496.5,767.4 497.6,767.2 498.6,767.6 499.7,768.9 500.7,768.3 501.8,768.5 502.8,751.4 503.9,748.1 504.9,743.9 506.0,735.2 507.0,728.4 508.1,724.3 509.1,715.3 510.2,712.4 511.3,708.9 512.3,709.9 513.4,725.0 514.4,725.6 515.5,727.3 516.5,732.8 517.6,736.7 518.6,739.3 519.7,746.0 520.7,746.4 521.8,749.0 522.8,750.3 523.9,751.6 524.9,753.7 526.0,756.0 527.0,759.1 528.1,762.3 529.2,762.9 530.2,764.6 531.3,767.0 532.3,768.7 533.4,768.9 534.4,769.3 535.5,769.6 536.5,768.9 537.6,768.7 538.6,768.7 539.7,769.8 540.7,770.3 541.8,770.1 542.8,770.6 543.9,770.5 544.9,766.6 546.0,767.3 547.0,766.7 548.1,766.3 549.2,764.2 550.2,763.8 551.3,763.6 552.3,764.0 553.4,763.6 554.4,763.8 555.5,767.5 556.5,765.7 557.6,766.2 558.6,765.8 559.7,765.8 560.7,763.8 561.8,761.8 562.8,758.7 563.9,758.1 564.9,756.4 566.0,754.7 567.1,754.5 568.1,753.9 569.2,754.8 570.2,755.7 571.3,755.3 572.3,756.6 573.4,758.9 574.4,758.1 575.5,754.0 576.5,754.2 577.6,752.9 578.6,753.1 579.7,751.4 580.7,749.5 581.8,748.4 582.8,746.8 583.9,745.6 585.0,745.7 586.0,749.6 587.1,750.5 588.1,751.6 589.2,751.5 590.2,752.7 591.3,754.7 592.3,756.3 593.4,755.0 594.4,756.2 595.5,755.4 596.5,755.2 597.6,754.6 598.6,749.9 599.7,748.9 600.7,745.9 601.8,744.1 602.8,744.3 603.9,743.3 605.0,739.7 606.0,738.7 607.1,739.7 608.1,738.9 609.2,741.5 610.2,742.7 611.3,746.0 612.3,748.8 613.4,749.6 614.4,752.3 615.5,756.4 616.5,759.2 617.6,759.6 618.6,761.7 619.7,765.9 620.7,767.0 621.8,766.7 622.9,765.8 623.9,766.8 625.0,768.8 626.0,768.9 627.1,767.7 628.1,767.1 629.2,761.6 630.2,759.6 631.3,758.2 632.3,756.7 633.4,754.6 634.4,751.5 635.5,749.6 636.5,747.5 637.6,747.6 638.6,748.5 639.7,753.4 640.7,755.2 641.8,756.1 642.9,757.7 643.9,759.8 645.0,762.2 646.0,763.9 647.1,764.2 648.1,764.2 649.2,763.7 650.2,762.8 651.3,760.9 652.3,759.2 653.4,758.7 654.4,758.7 655.5,757.4 656.5,757.1 657.6,757.2 658.6,757.4 659.7,757.9 660.8,759.3 661.8,761.3 662.9,762.8 663.9,763.3 665.0,763.9 666.0,762.0 667.1,762.0 668.1,763.6 669.2,764.1 670.2,764.4 671.3,764.9 672.3,764.1 673.4,763.2 674.4,762.8 675.5,762.8 676.5,764.9 677.6,764.5 678.6,762.7 679.7,761.0 680.8,757.4 681.8,756.2 682.9,756.8 683.9,756.6 685.0,756.9 686.0,756.7 687.1,756.7 688.1,757.7 689.2,760.3 690.2,762.7 691.3,765.6 692.3,765.6 693.4,765.4 694.4,765.8 695.5,766.7 696.5,767.5 697.6,767.4 698.7,767.6 699.7,767.5 700.8,767.0 701.8,768.0 702.9,767.9 703.9,767.0 705.0,767.8 706.0,766.6 707.1,766.6 708.1,768.7 709.2,762.2 710.2,760.8 711.3,761.2 712.3,761.0 713.4,761.8 714.4,763.6 715.5,762.2 716.5,763.2 717.6,763.1 718.7,761.4 719.7,761.8 720.8,761.6 721.8,759.7 722.9,753.1 723.9,749.3 725.0,746.1 726.0,744.7 727.1,742.4 728.1,739.9 729.2,739.6 730.2,743.3 731.3,743.4 732.3,744.6 733.4,750.5 734.4,754.5 735.5,756.8 736.6,758.9 737.6,760.1 738.7,762.0 739.7,763.3 740.8,764.1 741.8,764.8 742.9,764.4 743.9,764.2 745.0,761.5 746.0,759.2 747.1,759.3 748.1,759.3 749.2,758.4 750.2,757.8 751.3,759.5 752.3,760.0 753.4,761.1 754.5,761.7 755.5,763.6 756.6,765.8 757.6,765.5 758.7,766.1 759.7,767.2 760.8,768.6 761.8,768.2 762.9,767.9 763.9,767.9 765.0,767.0 766.0,767.6 767.1,767.9 768.1,769.2 769.2,769.0 770.2,768.8 771.3,768.6 772.3,768.0 773.4,767.7 774.5,767.1 775.5,766.4 776.6,765.5 777.6,764.4 778.7,764.0 779.7,764.6 780.8,765.0 781.8,764.8 782.9,764.8 783.9,765.7 785.0,765.6 786.0,766.0 787.1,767.0 788.1,768.3 789.2,768.3 790.2,767.5 791.3,760.2 792.4,756.1 793.4,753.1 794.5,749.1 795.5,746.7 796.6,744.2 797.6,741.0 798.7,738.6 799.7,737.7 800.8,737.2 801.8,743.3 802.9,747.1 803.9,750.4 805.0,752.9 806.0,754.9 807.1,758.1 808.1,761.7 809.2,764.5 810.2,762.6 811.3,764.3 812.4,765.0 813.4,765.3 814.5,764.9 815.5,765.9 816.6,767.2 817.6,767.5 818.7,766.2 819.7,764.3 820.8,766.7 821.8,766.0 822.9,764.9 823.9,763.7 825.0,762.3 826.0,762.1 827.1,760.5 828.1,758.3 829.2,758.9 830.3,759.8 831.3,759.5 832.4,758.4 833.4,758.8 834.5,758.4 835.5,755.7 836.6,748.4 837.6,745.9 838.7,743.1 839.7,739.3 840.8,737.7 841.8,736.5 842.9,736.4 843.9,735.4 845.0,735.4 846.0,731.3 847.1,736.7 848.1,734.5 849.2,736.1 850.3,738.0 851.3,737.4 852.4,736.6 853.4,737.4 854.5,737.9 855.5,739.3 856.6,747.8 857.6,749.5 858.7,755.4 859.7,758.0 860.8,759.1 861.8,760.7 862.9,755.8 863.9,753.7 865.0,751.6 866.0,747.8 867.1,743.5 868.2,740.3 869.2,739.3 870.3,739.3 871.3,738.5 872.4,738.3 873.4,745.7 874.5,748.3 875.5,751.7 876.6,755.8 877.6,760.0 878.7,763.9 879.7,764.6 880.8,765.6 881.8,768.4 882.9,769.9 883.9,771.0 885.0,771.9 886.0,771.4 887.1,771.9 888.2,772.9 889.2,773.5 890.3,774.1 891.3,773.7 892.4,773.4 893.4,773.2 894.5,772.7 895.5,772.3 896.6,773.4 897.6,773.4 898.7,772.7 899.7,772.3 900.8,772.8 901.8,773.3 902.9,773.7 903.9,773.1 905.0,773.0 906.1,772.9 907.1,771.1 908.2,768.8 909.2,768.2 910.3,764.0 911.3,761.2 912.4,758.2 913.4,754.8 914.5,754.2 915.5,753.6 916.6,753.0 917.6,754.0 918.7,755.7 919.7,756.1 920.8,760.1 921.8,762.6 922.9,765.3 924.0,768.8 925.0,770.2 926.1,771.3 927.1,772.5 928.2,773.1 929.2,771.3 930.3,772.0 931.3,772.3 932.4,771.5 933.4,770.9 934.5,763.7 935.5,761.7 936.6,760.1 937.6,758.3 938.7,753.4 939.7,751.2 940.8,748.4 941.8,747.4 942.9,744.5 944.0,743.3 945.0,748.3 946.1,750.0 947.1,750.9 948.2,751.7 949.2,755.6 950.3,759.7 951.3,762.2 952.4,763.1 953.4,766.9 954.5,768.0 955.5,770.2 956.6,770.4 957.6,770.4 958.7,769.8 959.7,769.2 960.8,767.1 961.9,760.2 962.9,756.4 964.0,753.8 965.0,750.3 966.1,747.1 967.1,743.2 968.2,741.9 969.2,741.2 970.3,741.8 971.3,742.8 972.4,749.2 973.4,752.5 974.5,754.9 975.5,759.3 976.6,761.8 977.6,765.0 978.7,767.1 979.7,767.9 980.8,768.8 981.9,770.4 982.9,771.2 984.0,771.3 985.0,770.3 986.1,770.1 987.1,769.1 988.2,769.7 989.2,769.6 990.3,770.5 991.3,770.3 992.4,770.2 993.4,770.0 994.5,770.7 995.5,771.8 996.6,772.2 997.6,773.9 998.7,773.4 999.8,773.3 1000.8,773.5 1001.9,774.1 1002.9,772.4 1004.0,772.8 1005.0,771.9 1006.1,770.5 1007.1,764.5 1008.2,762.9 1009.2,761.5 1010.3,759.2 1011.3,757.3 1012.4,755.6 1013.4,753.7 1014.5,752.2 1015.5,751.7 1016.6,752.2 1017.6,757.3 1018.7,757.5 1019.8,758.8 1020.8,760.5 1021.9,761.3 1022.9,762.8 1024.0,765.7 1025.0,767.3 1026.1,768.4 1027.1,769.1 1028.2,768.6 1029.2,767.9 1030.3,767.3 1031.3,766.8 1032.4,766.8 1033.4,765.2 1034.5,762.1 1035.5,759.4 1036.6,755.8 1037.7,754.6 1038.7,753.4 1039.8,754.0 1040.8,753.7 1041.9,754.5 1042.9,755.4 1044.0,756.3 1045.0,759.8 1046.1,762.1 1047.1,764.2 1048.2,765.4 1049.2,768.0 1050.3,769.9 1051.3,770.4 1052.4,771.2 1053.4,771.8 1054.5,772.0 1055.5,772.6 1056.6,772.9 1057.7,773.9 1058.7,774.1 1059.8,773.9 1060.8,773.7 1061.9,774.0 1062.9,773.9 1064.0,773.8 1065.0,774.3 1066.1,774.1 1067.1,774.2 1068.2,774.8 1069.2,774.9 1070.3,774.5 1071.3,773.7 1072.4,774.0 1073.4,773.2 1074.5,772.5 1075.6,772.1 1076.6,771.3 1077.7,769.9 1078.7,768.8 1079.8,763.0 1080.8,760.9 1081.9,759.7 1082.9,758.3 1084.0,756.0 1085.0,754.6 1086.1,752.7 1087.1,752.5 1088.2,752.0 1089.2,751.9 1090.3,756.8 1091.3,759.0 1092.4,760.6 1093.5,762.1 1094.5,764.6 1095.6,766.6 1096.6,769.1 1097.7,769.9 1098.7,771.6 1099.8,772.7 1100.8,772.8 1101.9,773.4 1102.9,773.9 1104.0,773.5 1105.0,773.0 1106.1,772.6 1107.1,772.6 1108.2,772.4 1109.2,772.9 1110.3,772.5 1111.3,773.1 1112.4,772.9 1113.5,771.3 1114.5,772.0 1115.6,772.9 1116.6,773.2 1117.7,772.8 1118.7,773.2 1119.8,772.6 1120.8,773.0 1121.9,772.6 1122.9,772.7 1124.0,774.0 1125.0,773.6 1126.1,773.3 1127.1,773.5 1128.2,774.0 1129.2,774.0 1130.3,773.4 1131.4,772.9 1132.4,773.8 1133.5,773.1 1134.5,773.5 1135.6,773.5 1136.6,773.2 1137.7,773.2 1138.7,772.7 1139.8,772.8 1140.8,773.3 1141.9,773.8 1142.9,773.1 1144.0,772.2 1145.0,772.0 1146.1,771.5 1147.1,771.5 1148.2,770.9 1149.2,770.5 1150.3,769.9 1151.4,766.7 1152.4,765.2 1153.5,764.4 1154.5,764.2 1155.6,763.7 1156.6,763.5 1157.7,763.2 1158.7,763.4 1159.8,763.7 1160.8,763.8 1161.9,767.1 1162.9,767.9 1164.0,768.8 1165.0,770.4 1166.1,770.1 1167.1,770.6 1168.2,770.8 1169.3,770.6 1170.3,770.6 1171.4,771.1 1172.4,770.2 1173.5,770.7 1174.5,770.9 1175.6,770.3 1176.6,770.3 1177.7,770.1 1178.7,769.1 1179.8,769.3 1180.8,768.5 1181.9,768.2 1182.9,768.8 1184.0,766.5 1185.0,765.3 1186.1,765.5 1187.1,766.2 1188.2,767.0 1189.3,768.6 1190.3,768.8 1191.4,769.8 1192.4,769.9 1193.5,770.4 1194.5,772.7 1195.6,773.7 1196.6,774.0 1197.7,773.7 1198.7,773.1 1199.8,772.2 1200.8,771.6 1201.9,771.2 1202.9,770.0 1204.0,770.0 1205.0,770.0 1206.1,770.0 1207.2,769.8 1208.2,770.5 1209.3,770.9 1210.3,770.9 1211.4,771.3 1212.4,771.8 1213.5,771.4 1214.5,771.2 1215.6,771.0 1216.6,771.2 1217.7,771.5 1218.7,771.4 1219.8,771.1 1220.8,771.7 1221.9,771.7 1222.9,768.1 1224.0,769.0 1225.0,768.1 1226.1,767.2 1227.2,766.7 1228.2,765.7 1229.3,764.7 1230.3,764.6 1231.4,764.8 1232.4,764.6 1233.5,768.3 1234.5,768.9 1235.6,770.4 1236.6,770.4 1237.7,770.7 1238.7,771.6 1239.8,772.5 1240.8,771.4 1241.9,771.3 1242.9,771.9 1244.0,771.4 1245.1,770.8 1246.1,769.8 1247.2,769.5 1248.2,768.2 1249.3,766.5 1250.3,765.2 1251.4,765.3 1252.4,764.5 1253.5,762.9 1254.5,762.9 1255.6,763.3 1256.6,763.3 1257.7,764.2 1258.7,765.6 1259.8,767.2 1260.8,767.8 1261.9,767.9 1263.0,768.7 1264.0,770.0 1265.1,770.6 1266.1,770.8 1267.2,771.7 1268.2,771.5 1269.3,771.8 1270.3,771.8 1271.4,772.5 1272.4,773.9 1273.5,773.6 1274.5,773.5 1275.6,773.3 1276.6,773.4 1277.7,772.2 1278.7,772.6 1279.8,771.8 1280.8,770.6 1281.9,766.0 1283.0,763.7 1284.0,762.0 1285.1,760.2 1286.1,758.8 1287.2,757.2 1288.2,757.6 1289.3,757.7 1290.3,757.5 1291.4,758.4 1292.4,762.0 1293.5,763.6 1294.5,764.8 1295.6,765.7 1296.6,765.7 1297.7,765.8 1298.7,765.6 1299.8,765.1 1300.9,765.7 1301.9,765.4 1303.0,765.8 1304.0,766.2 1305.1,767.1 1306.1,767.8 1307.2,768.1 1308.2,769.5 1309.3,770.5 1310.3,771.0 1311.4,771.4 1312.4,772.2 1313.5,773.3 1314.5,773.6 1315.6,772.8 1316.6,772.9 1317.7,773.7 1318.7,773.2 1319.8,772.7 1320.9,772.6 1321.9,771.2 1323.0,770.1 1324.0,768.4 1325.1,767.3 1326.1,767.7 1327.2,767.5 1328.2,767.8 1329.3,767.9 1330.3,768.5 1331.4,769.0 1332.4,770.1 1333.5,771.1 1334.5,772.3 1335.6,773.0 1336.6,773.6 1337.7,773.9 1338.8,774.3 1339.8,775.1 1340.9,774.3 1341.9,774.5 1343.0,774.2 1344.0,772.4 1345.1,772.7 1346.1,773.1 1347.2,772.9 1348.2,773.1 1349.3,772.9 1350.3,772.0 1351.4,772.6 1352.4,770.9 1353.5,771.0 1354.5,772.8 1355.6,771.8 1356.6,770.7 1357.7,771.0 1358.8,770.4 1359.8,769.7 1360.9,769.6 1361.9,765.9 1363.0,766.3 1364.0,764.0 1365.1,762.2 1366.1,761.3 1367.2,761.5 1368.2,761.0 1369.3,760.6 1370.3,760.8 1371.4,761.1 1372.4,764.6 1373.5,765.5 1374.5,767.5 1375.6,768.9 1376.7,770.0 1377.7,770.8 1378.8,770.8 1379.8,770.8 1380.9,770.8 1381.9,770.8 1383.0,769.9 1384.0,769.3 1385.1,768.6 1386.1,768.6 1387.2,768.7 1388.2,768.2 1389.3,768.5 1390.3,769.2 1391.4,769.4 1392.4,769.8 1393.5,770.9 1394.5,771.6 1395.6,772.7 1396.7,772.7 1397.7,772.9 1398.8,773.4 1399.8,773.2 1400.9,773.1 1401.9,773.3 1403.0,773.5 1404.0,773.4 1405.1,773.5 1406.1,772.8 1407.2,773.3 1408.2,773.7 1409.3,774.0 1410.3,773.3 1411.4,772.7 1412.4,772.7 1413.5,772.6 1414.6,771.3 1415.6,770.5 1416.7,770.9 1417.7,770.4 1418.8,770.2 1419.8,769.5 1420.9,770.5 1421.9,771.3 1423.0,770.7 1424.0,770.3 1425.1,771.2 1426.1,771.3 1427.2,771.5 1428.2,771.2 1429.3,771.3 1430.3,771.8 1431.4,771.8 1432.5,771.5 1433.5,772.6 1434.6,772.7 1435.6,773.0 1436.7,774.0 1437.7,773.5 1438.8,773.6 1439.8,773.4 1440.9,772.6 1441.9,772.4 1443.0,771.6 1444.0,770.6 1445.1,770.2 1446.1,767.7 1447.2,765.1 1448.2,763.6 1449.3,763.2 1450.3,763.2 1451.4,763.5 1452.5,763.0 1453.5,762.9 1454.6,763.7 1455.6,764.1 1456.7,765.6 1457.7,768.2 1458.8,769.4 1459.8,770.1 1460.9,770.0 1461.9,770.5 1463.0,771.3 1464.0,772.2 1465.1,772.4 1466.1,772.7 1467.2,773.9 1468.2,772.8 1469.3,773.4 1470.4,773.7 1471.4,773.9 1472.5,774.0 1473.5,773.1 1474.6,773.3 1475.6,773.4 1476.7,773.2 1477.7,772.9 1478.8,773.3 1479.8,773.1 1480.9,773.0 1481.9,772.1 1483.0,771.8 1484.0,772.1 1485.1,771.1 1486.1,770.1 1487.2,769.8 1488.2,769.6 1489.3,769.0 1490.4,768.4 1491.4,767.8 1492.5,767.9 1493.5,767.9 1494.6,768.3 1495.6,768.5 1496.7,769.3 1497.7,765.7 1498.8,766.3 1499.8,767.5 1500.9,768.5 1501.9,769.1 1503.0,769.3 1504.0,769.5 1505.1,769.6 1506.1,768.9 1507.2,767.8 1508.3,771.9 1509.3,771.7 1510.4,771.2 1511.4,770.5 1512.5,769.7 1513.5,769.8 1514.6,769.2 1515.6,768.4 1516.7,768.6 1517.7,769.3 1518.8,768.8 1519.8,767.6 1520.9,768.0 1521.9,766.1 1523.0,767.1 1524.0,767.7 1525.1,768.3 1526.1,768.9 1527.2,769.3 1528.3,769.1 1529.3,769.7 1530.4,771.1 1531.4,770.5 1532.5,772.9 1533.5,772.8 1534.6,772.7 1535.6,772.6 1536.7,773.1 1537.7,773.7 1538.8,773.9 1539.8,773.0 1540.9,773.3 1541.9,774.0 1543.0,774.2 1544.0,774.1 1545.1,773.1 1546.2,773.2 1547.2,773.0 1548.3,772.8 1549.3,772.8 1550.4,773.8 1551.4,773.5 1552.5,773.5 1553.5,773.4 1554.6,773.7 1555.6,774.9 1556.7,774.7 1557.7,774.8 1558.8,775.1 1559.8,775.2 1560.9,774.3 1561.9,773.7 1563.0,773.4 1564.0,773.5 1565.1,772.9 1566.2,771.8 1567.2,771.0 1568.3,767.6 1569.3,765.4 1570.4,764.1 1571.4,763.5 1572.5,762.9 1573.5,761.5 1574.6,760.4 1575.6,760.3 1576.7,760.5 1577.7,761.3 1578.8,763.9 1579.8,765.8 1580.9,767.3 1581.9,768.3 1583.0,769.5" fill="none" stroke="#e0b020" stroke-width="1.2"/>
<polyline points="57.5,769.0 58.6,770.6 59.6,771.9 60.7,771.6 61.7,771.0 62.8,771.7 63.8,771.7 64.9,771.2 65.9,770.4 67.0,770.4 68.0,768.7 69.1,766.3 70.1,764.0 71.2,762.8 72.2,758.3 73.3,754.1 74.3,747.6 75.4,741.9 76.5,738.4 77.5,738.1 78.6,740.7 79.6,745.5 80.7,751.2 81.7,755.8 82.8,754.9 83.8,755.7 84.9,739.0 85.9,734.8 87.0,727.3 88.0,726.0 89.1,720.1 90.1,732.2 91.2,728.2 92.2,728.0 93.3,723.7 94.3,725.1 95.4,725.1 96.5,732.8 97.5,740.1 98.6,750.1 99.6,754.5 100.7,762.9 101.7,764.1 102.8,763.9 103.8,766.6 104.9,769.3 105.9,768.0 107.0,766.2 108.0,767.5 109.1,767.0 110.1,767.1 111.2,767.8 112.2,770.0 113.3,770.1 114.4,769.8 115.4,768.2 116.5,765.2 117.5,761.6 118.6,744.8 119.6,737.4 120.7,726.2 121.7,720.8 122.8,711.1 123.8,716.5 124.9,712.5 125.9,721.8 127.0,725.2 128.0,736.9 129.1,746.2 130.1,756.0 131.2,758.2 132.2,763.1 133.3,764.9 134.4,767.3 135.4,768.1 136.5,770.0 137.5,771.7 138.6,773.1 139.6,769.3 140.7,768.7 141.7,762.0 142.8,738.4 143.8,733.5 144.9,730.5 145.9,720.6 147.0,716.1 148.0,730.5 149.1,732.0 150.1,732.4 151.2,740.0 152.3,745.4 153.3,752.7 154.4,754.7 155.4,760.5 156.5,763.8 157.5,767.4 158.6,765.7 159.6,764.6 160.7,760.6 161.7,758.0 162.8,746.3 163.8,742.2 164.9,741.3 165.9,734.6 167.0,721.8 168.0,729.8 169.1,729.8 170.1,728.2 171.2,735.0 172.3,748.4 173.3,752.0 174.4,758.3 175.4,762.0 176.5,765.2 177.5,766.5 178.6,767.3 179.6,763.6 180.7,763.6 181.7,764.8 182.8,765.0 183.8,763.7 184.9,767.3 185.9,766.9 187.0,763.6 188.0,761.4 189.1,761.6 190.2,761.3 191.2,761.5 192.3,763.7 193.3,759.2 194.4,761.6 195.4,762.9 196.5,762.5 197.5,760.5 198.6,767.1 199.6,766.2 200.7,762.5 201.7,764.6 202.8,767.6 203.8,768.8 204.9,769.2 205.9,770.6 207.0,770.6 208.0,770.7 209.1,770.3 210.2,769.4 211.2,757.2 212.3,753.7 213.3,748.5 214.4,744.5 215.4,729.0 216.5,737.2 217.5,733.8 218.6,733.2 219.6,724.6 220.7,730.5 221.7,729.4 222.8,729.1 223.8,730.0 224.9,734.9 225.9,743.2 227.0,747.8 228.1,753.3 229.1,756.4 230.2,764.1 231.2,762.1 232.3,761.9 233.3,762.0 234.4,762.4 235.4,756.2 236.5,757.5 237.5,755.1 238.6,728.4 239.6,724.4 240.7,725.6 241.7,715.4 242.8,707.5 243.8,727.1 244.9,723.9 246.0,723.1 247.0,729.6 248.1,740.6 249.1,745.2 250.2,752.0 251.2,757.2 252.3,764.7 253.3,768.3 254.4,773.0 255.4,776.6 256.5,779.0 257.5,779.0 258.6,779.0 259.6,779.0 260.7,779.0 261.7,779.0 262.8,779.0 263.8,779.0 264.9,779.0 266.0,779.0 267.0,779.0 268.1,779.0 269.1,779.0 270.2,779.0 271.2,779.0 272.3,779.0 273.3,779.0 274.4,779.0 275.4,779.0 276.5,779.0 277.5,779.0 278.6,779.0 279.6,779.0 280.7,779.0 281.7,779.0 282.8,779.0 283.9,779.0 284.9,779.0 286.0,779.0 287.0,743.4 288.1,733.0 289.1,726.0 290.2,711.3 291.2,697.0 292.3,714.7 293.3,707.5 294.4,706.5 295.4,712.7 296.5,721.5 297.5,733.1 298.6,746.4 299.6,751.4 300.7,754.9 301.7,758.9 302.8,760.7 303.9,761.8 304.9,763.4 306.0,767.0 307.0,767.4 308.1,768.8 309.1,769.9 310.2,766.4 311.2,763.3 312.3,757.7 313.3,748.8 314.4,741.7 315.4,739.9 316.5,738.4 317.5,739.8 318.6,747.7 319.6,747.7 320.7,752.3 321.8,754.9 322.8,755.8 323.9,756.9 324.9,762.9 326.0,762.3 327.0,762.6 328.1,763.8 329.1,763.7 330.2,764.4 331.2,763.5 332.3,763.5 333.3,762.5 334.4,763.8 335.4,763.9 336.5,765.6 337.5,765.8 338.6,768.5 339.6,768.0 340.7,767.5 341.8,766.7 342.8,768.0 343.9,767.7 344.9,769.1 346.0,771.2 347.0,770.3 348.1,770.8 349.1,770.9 350.2,769.4 351.2,769.2 352.3,767.3 353.3,766.3 354.4,766.7 355.4,767.1 356.5,766.6 357.5,768.2 358.6,756.3 359.7,754.2 360.7,753.4 361.8,747.8 362.8,744.6 363.9,748.4 364.9,742.4 366.0,737.4 367.0,736.8 368.1,740.7 369.1,748.2 370.2,753.6 371.2,758.6 372.3,763.7 373.3,765.7 374.4,763.4 375.4,765.0 376.5,765.7 377.5,766.7 378.6,764.7 379.7,767.8 380.7,767.0 381.8,767.6 382.8,763.6 383.9,762.1 384.9,759.0 386.0,757.2 387.0,756.6 388.1,759.9 389.1,763.1 390.2,765.9 391.2,768.5 392.3,766.9 393.3,766.7 394.4,766.4 395.4,767.6 396.5,768.2 397.6,770.1 398.6,770.8 399.7,769.7 400.7,766.8 401.8,767.0 402.8,766.3 403.9,766.2 404.9,768.8 406.0,770.4 407.0,769.0 408.1,767.7 409.1,764.4 410.2,761.0 411.2,760.0 412.3,755.2 413.3,754.4 414.4,756.2 415.5,754.3 416.5,753.3 417.6,753.1 418.6,753.3 419.7,753.5 420.7,757.4 421.8,759.6 422.8,763.6 423.9,767.3 424.9,768.8 426.0,769.7 427.0,770.5 428.1,772.8 429.1,768.6 430.2,767.7 431.2,753.7 432.3,748.9 433.3,742.6 434.4,741.2 435.5,736.0 436.5,746.5 437.6,747.6 438.6,752.4 439.7,753.6 440.7,757.6 441.8,757.8 442.8,757.3 443.9,753.3 444.9,753.9 446.0,751.1 447.0,751.2 448.1,751.7 449.1,755.3 450.2,755.4 451.2,760.0 452.3,762.0 453.4,764.6 454.4,765.8 455.5,765.7 456.5,767.0 457.6,764.9 458.6,765.5 459.7,766.2 460.7,768.7 461.8,768.2 462.8,771.7 463.9,771.6 464.9,771.8 466.0,773.0 467.0,771.5 468.1,771.2 469.1,772.3 470.2,770.6 471.2,767.7 472.3,765.1 473.4,751.0 474.4,747.0 475.5,743.6 476.5,738.2 477.6,735.8 478.6,745.5 479.7,746.0 480.7,747.8 481.8,747.9 482.8,753.5 483.9,754.3 484.9,754.5 486.0,757.7 487.0,765.1 488.1,765.6 489.1,766.5 490.2,767.6 491.3,762.4 492.3,762.6 493.4,763.1 494.4,765.9 495.5,767.0 496.5,772.4 497.6,771.9 498.6,772.1 499.7,771.8 500.7,769.5 501.8,764.6 502.8,731.0 503.9,724.1 504.9,716.0 506.0,701.0 507.0,692.2 508.1,717.6 509.1,706.5 510.2,708.7 511.3,716.7 512.3,727.5 513.4,732.4 514.4,744.6 515.5,745.9 516.5,748.8 517.6,745.8 518.6,746.2 519.7,747.3 520.7,746.8 521.8,749.2 522.8,754.7 523.9,757.0 524.9,760.1 526.0,765.1 527.0,769.1 528.1,769.9 529.2,768.8 530.2,769.2 531.3,768.8 532.3,768.4 533.4,767.9 534.4,769.9 535.5,770.0 536.5,769.1 537.6,768.9 538.6,769.5 539.7,769.8 540.7,770.7 541.8,771.1 542.8,772.4 543.9,771.5 544.9,763.5 546.0,763.8 547.0,762.3 548.1,760.2 549.2,756.8 550.2,764.2 551.3,763.3 552.3,765.7 553.4,767.1 554.4,770.8 555.5,770.8 556.5,768.0 557.6,766.8 558.6,764.5 559.7,760.9 560.7,756.9 561.8,755.5 562.8,750.5 563.9,751.7 564.9,751.9 566.0,752.6 567.1,753.5 568.1,757.3 569.2,758.0 570.2,759.4 571.3,758.1 572.3,759.7 573.4,760.4 574.4,758.2 575.5,748.5 576.5,750.3 577.6,746.1 578.6,745.8 579.7,744.6 580.7,750.5 581.8,746.6 582.8,747.5 583.9,745.3 585.0,746.8 586.0,748.8 587.1,754.5 588.1,755.6 589.2,757.8 590.2,758.7 591.3,760.7 592.3,758.2 593.4,754.4 594.4,754.6 595.5,752.1 596.5,749.7 597.6,751.0 598.6,745.4 599.7,743.3 600.7,739.8 601.8,738.5 602.8,737.6 603.9,741.3 605.0,736.2 606.0,737.6 607.1,740.9 608.1,740.2 609.2,741.6 610.2,749.1 611.3,754.3 612.3,756.7 613.4,759.0 614.4,763.0 615.5,763.7 616.5,764.1 617.6,762.6 618.6,764.5 619.7,768.7 620.7,770.2 621.8,769.2 622.9,769.0 623.9,769.2 625.0,769.0 626.0,767.5 627.1,766.1 628.1,765.3 629.2,753.9 630.2,750.3 631.3,748.9 632.3,747.2 633.4,744.0 634.4,749.1 635.5,748.9 636.5,746.2 637.6,748.1 638.6,753.0 639.7,757.7 640.7,761.5 641.8,766.1 642.9,767.4 643.9,766.5 645.0,766.7 646.0,766.3 647.1,762.2 648.1,760.9 649.2,760.9 650.2,758.9 651.3,755.4 652.3,756.2 653.4,756.4 654.4,756.4 655.5,755.9 656.5,758.7 657.6,758.2 658.6,758.4 659.7,759.4 660.8,762.6 661.8,763.9 662.9,767.4 663.9,768.1 665.0,768.4 666.0,761.4 667.1,760.1 668.1,759.8 669.2,760.0 670.2,760.4 671.3,768.4 672.3,768.1 673.4,766.5 674.4,765.7 675.5,765.2 676.5,761.4 677.6,760.9 678.6,758.9 679.7,756.2 680.8,749.7 681.8,751.0 682.9,752.6 683.9,754.2 685.0,757.5 686.0,763.7 687.1,762.3 688.1,762.7 689.2,766.4 690.2,767.9 691.3,767.5 692.3,768.9 693.4,768.1 694.4,765.2 695.5,765.4 696.5,767.5 697.6,765.8 698.7,767.1 699.7,769.7 700.8,768.5 701.8,768.5 702.9,770.0 703.9,767.0 705.0,765.9 706.0,764.8 707.1,764.7 708.1,767.3 709.2,757.4 710.2,755.7 711.3,757.6 712.3,757.3 713.4,756.3 714.4,769.8 715.5,768.8 716.5,768.8 717.6,768.9 718.7,766.6 719.7,753.8 720.8,754.4 721.8,750.6 722.9,737.4 723.9,732.1 725.0,738.5 726.0,735.0 727.1,734.2 728.1,742.4 729.2,747.0 730.2,748.1 731.3,751.8 732.3,755.0 733.4,758.7 734.4,762.0 735.5,765.4 736.6,766.0 737.6,765.1 738.7,765.3 739.7,764.5 740.8,762.9 741.8,763.6 742.9,763.7 743.9,763.1 745.0,758.6 746.0,755.6 747.1,755.1 748.1,755.0 749.2,753.8 750.2,757.1 751.3,763.3 752.3,764.8 753.4,767.2 754.5,769.6 755.5,770.0 756.6,768.4 757.6,766.2 758.7,764.9 759.7,764.9 760.8,767.1 761.8,768.1 762.9,769.5 763.9,770.8 765.0,769.1 766.0,768.1 767.1,767.7 768.1,768.8 769.2,767.2 770.2,768.5 771.3,769.1 772.3,768.3 773.4,766.6 774.5,767.1 775.5,764.4 776.6,761.8 777.6,760.5 778.7,761.5 779.7,762.0 780.8,765.5 781.8,767.7 782.9,769.2 783.9,769.9 785.0,769.2 786.0,766.5 787.1,766.2 788.1,767.4 789.2,766.8 790.2,765.7 791.3,753.9 792.4,745.9 793.4,738.8 794.5,731.5 795.5,727.6 796.6,734.5 797.6,736.0 798.7,738.4 799.7,743.9 800.8,746.8 801.8,752.2 802.9,758.3 803.9,762.3 805.0,761.8 806.0,763.0 807.1,764.1 808.1,765.1 809.2,766.7 810.2,763.3 811.3,765.6 812.4,765.9 813.4,765.4 814.5,763.2 815.5,768.5 816.6,768.8 817.6,769.0 818.7,766.9 819.7,765.4 820.8,764.9 821.8,763.3 822.9,760.7 823.9,760.4 825.0,759.2 826.0,759.3 827.1,757.7 828.1,755.8 829.2,757.3 830.3,760.5 831.3,759.6 832.4,759.0 833.4,761.8 834.5,759.6 835.5,751.0 836.6,737.1 837.6,732.7 838.7,724.5 839.7,718.9 840.8,724.5 841.8,735.8 842.9,740.1 843.9,746.3 845.0,751.9 846.0,738.0 847.1,737.6 848.1,728.9 849.2,725.9 850.3,724.1 851.3,736.9 852.4,735.6 853.4,745.8 854.5,749.8 855.5,754.5 856.6,758.7 857.6,763.3 858.7,764.9 859.7,766.3 860.8,763.7 861.8,762.7 862.9,748.2 863.9,742.6 865.0,737.0 866.0,731.8 867.1,724.3 868.2,732.4 869.2,735.9 870.3,741.7 871.3,745.1 872.4,752.3 873.4,759.0 874.5,760.6 875.5,761.7 876.6,766.5 877.6,767.7 878.7,768.8 879.7,768.6 880.8,769.6 881.8,770.2 882.9,772.1 883.9,773.3 885.0,775.2 886.0,773.2 887.1,773.7 888.2,773.8 889.2,773.6 890.3,773.0 891.3,774.2 892.4,773.1 893.4,772.5 894.5,771.8 895.5,771.5 896.6,772.5 897.6,773.6 898.7,772.8 899.7,772.8 900.8,774.1 901.8,774.2 902.9,773.7 903.9,773.4 905.0,773.3 906.1,771.7 907.1,768.1 908.2,763.9 909.2,762.9 910.3,754.7 911.3,750.8 912.4,748.2 913.4,745.6 914.5,745.5 915.5,752.5 916.6,755.2 917.6,759.9 918.7,765.8 919.7,766.7 920.8,767.7 921.8,770.1 922.9,770.7 924.0,771.8 925.0,773.7 926.1,774.9 927.1,774.8 928.2,775.5 929.2,770.7 930.3,770.3 931.3,769.7 932.4,768.2 933.4,766.3 934.5,756.7 935.5,753.1 936.6,750.5 937.6,748.5 938.7,740.4 939.7,745.7 940.8,743.7 941.8,744.2 942.9,740.5 944.0,746.2 945.0,751.0 946.1,756.3 947.1,757.6 948.2,762.9 949.2,764.9 950.3,768.5 951.3,768.0 952.4,768.6 953.4,770.9 954.5,771.1 955.5,771.9 956.6,772.9 957.6,772.1 958.7,768.7 959.7,767.4 960.8,762.3 961.9,747.6 962.9,740.7 964.0,738.9 965.0,733.3 966.1,731.8 967.1,738.9 968.2,743.0 969.2,743.5 970.3,750.3 971.3,753.8 972.4,759.4 973.4,762.0 974.5,766.3 975.5,768.3 976.6,769.8 977.6,770.5 978.7,772.2 979.7,769.6 980.8,769.4 981.9,771.0 982.9,771.9 984.0,770.3 985.0,771.1 986.1,770.9 987.1,767.2 988.2,767.6 989.2,768.8 990.3,769.9 991.3,769.7 992.4,773.1 993.4,772.3 994.5,772.7 995.5,773.7 996.6,774.7 997.6,774.7 998.7,774.5 999.8,773.9 1000.8,773.2 1001.9,773.4 1002.9,770.1 1004.0,771.1 1005.0,769.8 1006.1,767.7 1007.1,755.6 1008.2,755.6 1009.2,752.0 1010.3,748.7 1011.3,746.9 1012.4,755.5 1013.4,751.7 1014.5,752.3 1015.5,754.7 1016.6,757.6 1017.6,759.0 1018.7,763.2 1019.8,765.3 1020.8,766.3 1021.9,765.0 1022.9,766.6 1024.0,768.2 1025.0,769.3 1026.1,770.5 1027.1,773.2 1028.2,770.6 1029.2,767.6 1030.3,765.2 1031.3,763.1 1032.4,760.4 1033.4,759.7 1034.5,756.6 1035.5,753.5 1036.6,748.6 1037.7,748.8 1038.7,747.1 1039.8,751.3 1040.8,754.0 1041.9,760.4 1042.9,762.1 1044.0,765.4 1045.0,768.3 1046.1,770.3 1047.1,768.0 1048.2,768.8 1049.2,770.7 1050.3,771.5 1051.3,770.5 1052.4,774.3 1053.4,774.9 1054.5,773.4 1055.5,773.6 1056.6,775.2 1057.7,773.5 1058.7,773.3 1059.8,774.3 1060.8,773.8 1061.9,772.7 1062.9,774.2 1064.0,774.3 1065.0,774.2 1066.1,774.4 1067.1,775.6 1068.2,775.4 1069.2,775.5 1070.3,774.7 1071.3,772.9 1072.4,772.3 1073.4,771.0 1074.5,769.5 1075.6,769.5 1076.6,769.7 1077.7,767.6 1078.7,766.6 1079.8,756.4 1080.8,752.3 1081.9,749.7 1082.9,749.0 1084.0,745.4 1085.0,752.8 1086.1,753.1 1087.1,755.3 1088.2,755.0 1089.2,758.5 1090.3,760.7 1091.3,764.8 1092.4,765.9 1093.5,769.2 1094.5,770.7 1095.6,772.5 1096.6,773.4 1097.7,774.0 1098.7,773.9 1099.8,774.7 1100.8,773.1 1101.9,773.4 1102.9,773.8 1104.0,773.0 1105.0,771.2 1106.1,772.1 1107.1,771.7 1108.2,771.0 1109.2,772.7 1110.3,773.9 1111.3,774.1 1112.4,774.1 1113.5,771.6 1114.5,771.3 1115.6,772.0 1116.6,772.3 1117.7,771.4 1118.7,774.8 1119.8,773.9 1120.8,774.1 1121.9,772.9 1122.9,774.1 1124.0,773.2 1125.0,773.2 1126.1,772.5 1127.1,774.1 1128.2,774.0 1129.2,774.9 1130.3,773.7 1131.4,773.2 1132.4,773.5 1133.5,772.2 1134.5,772.1 1135.6,773.2 1136.6,773.2 1137.7,773.0 1138.7,773.2 1139.8,773.5 1140.8,773.3 1141.9,774.5 1142.9,773.2 1144.0,771.2 1145.0,770.5 1146.1,769.7 1147.1,768.6 1148.2,768.7 1149.2,769.8 1150.3,769.2 1151.4,763.6 1152.4,761.7 1153.5,760.1 1154.5,758.6 1155.6,758.3 1156.6,763.3 1157.7,764.6 1158.7,766.6 1159.8,768.8 1160.8,769.4 1161.9,770.9 1162.9,771.1 1164.0,771.1 1165.0,772.0 1166.1,770.8 1167.1,770.3 1168.2,770.6 1169.3,770.1 1170.3,769.3 1171.4,771.4 1172.4,770.2 1173.5,770.8 1174.5,771.7 1175.6,771.3 1176.6,769.2 1177.7,770.0 1178.7,767.5 1179.8,766.8 1180.8,765.7 1181.9,767.3 1182.9,767.6 1184.0,765.6 1185.0,763.7 1186.1,765.3 1187.1,765.1 1188.2,766.4 1189.3,771.7 1190.3,773.9 1191.4,774.2 1192.4,774.7 1193.5,774.3 1194.5,773.8 1195.6,773.5 1196.6,773.9 1197.7,772.7 1198.7,771.9 1199.8,770.6 1200.8,769.8 1201.9,768.5 1202.9,767.3 1204.0,768.0 1205.0,769.4 1206.1,770.1 1207.2,771.1 1208.2,773.7 1209.3,773.9 1210.3,772.3 1211.4,772.5 1212.4,772.6 1213.5,769.0 1214.5,768.5 1215.6,769.7 1216.6,770.0 1217.7,770.5 1218.7,773.9 1219.8,773.7 1220.8,773.8 1221.9,773.5 1222.9,765.7 1224.0,764.2 1225.0,762.5 1226.1,760.6 1227.2,759.9 1228.2,765.8 1229.3,765.2 1230.3,766.7 1231.4,769.0 1232.4,769.4 1233.5,770.8 1234.5,772.6 1235.6,774.0 1236.6,771.9 1237.7,772.0 1238.7,772.3 1239.8,772.4 1240.8,768.9 1241.9,770.7 1242.9,771.7 1244.0,770.5 1245.1,769.2 1246.1,770.7 1247.2,768.2 1248.2,764.7 1249.3,762.5 1250.3,761.3 1251.4,759.9 1252.4,760.8 1253.5,761.2 1254.5,763.4 1255.6,765.4 1256.6,766.8 1257.7,767.7 1258.7,770.1 1259.8,771.0 1260.8,770.1 1261.9,769.1 1263.0,769.7 1264.0,770.0 1265.1,770.2 1266.1,771.5 1267.2,774.3 1268.2,773.3 1269.3,773.7 1270.3,773.4 1271.4,773.4 1272.4,773.6 1273.5,773.8 1274.5,773.4 1275.6,773.2 1276.6,773.4 1277.7,770.9 1278.7,771.3 1279.8,770.2 1280.8,768.1 1281.9,758.5 1283.0,756.6 1284.0,752.8 1285.1,750.3 1286.1,749.6 1287.2,755.8 1288.2,758.6 1289.3,762.6 1290.3,764.7 1291.4,767.3 1292.4,768.2 1293.5,768.6 1294.5,767.0 1295.6,766.8 1296.6,764.0 1297.7,763.5 1298.7,762.6 1299.8,763.2 1300.9,764.7 1301.9,766.7 1303.0,768.1 1304.0,769.8 1305.1,771.0 1306.1,770.9 1307.2,769.5 1308.2,770.9 1309.3,771.2 1310.3,771.0 1311.4,772.0 1312.4,774.9 1313.5,775.7 1314.5,776.1 1315.6,774.6 1316.6,773.9 1317.7,772.6 1318.7,770.7 1319.8,769.4 1320.9,770.5 1321.9,768.6 1323.0,767.6 1324.0,766.1 1325.1,765.3 1326.1,764.9 1327.2,766.5 1328.2,768.1 1329.3,769.7 1330.3,771.7 1331.4,773.0 1332.4,773.7 1333.5,774.2 1334.5,775.0 1335.6,774.4 1336.6,774.2 1337.7,774.2 1338.8,774.5 1339.8,775.1 1340.9,774.3 1341.9,774.9 1343.0,774.3 1344.0,770.3 1345.1,770.3 1346.1,771.8 1347.2,771.0 1348.2,771.9 1349.3,775.5 1350.3,773.6 1351.4,773.3 1352.4,770.8 1353.5,770.2 1354.5,770.1 1355.6,770.0 1356.6,768.1 1357.7,771.3 1358.8,770.7 1359.8,769.3 1360.9,769.2 1361.9,763.6 1363.0,761.2 1364.0,757.3 1365.1,755.0 1366.1,753.5 1367.2,759.4 1368.2,760.7 1369.3,763.8 1370.3,766.6 1371.4,768.7 1372.4,769.8 1373.5,770.2 1374.5,771.2 1375.6,771.2 1376.7,771.3 1377.7,771.8 1378.8,771.3 1379.8,770.4 1380.9,770.4 1381.9,770.4 1383.0,768.0 1384.0,767.3 1385.1,766.8 1386.1,766.8 1387.2,767.1 1388.2,768.4 1389.3,769.7 1390.3,771.6 1391.4,771.9 1392.4,772.5 1393.5,773.4 1394.5,773.5 1395.6,773.9 1396.7,773.5 1397.7,773.3 1398.8,773.3 1399.8,772.9 1400.9,772.3 1401.9,773.0 1403.0,773.6 1404.0,773.6 1405.1,774.0 1406.1,773.3 1407.2,773.7 1408.2,773.7 1409.3,774.4 1410.3,772.6 1411.4,772.2 1412.4,771.7 1413.5,771.5 1414.6,768.2 1415.6,768.3 1416.7,769.5 1417.7,769.2 1418.8,769.0 1419.8,770.8 1420.9,772.7 1421.9,773.2 1423.0,772.2 1424.0,771.7 1425.1,771.6 1426.1,769.9 1427.2,769.8 1428.2,770.3 1429.3,771.0 1430.3,772.0 1431.4,773.7 1432.5,773.2 1433.5,775.0 1434.6,774.3 1435.6,774.0 1436.7,774.4 1437.7,773.8 1438.8,772.3 1439.8,772.4 1440.9,771.3 1441.9,770.3 1443.0,769.5 1444.0,769.0 1445.1,767.9 1446.1,764.1 1447.2,759.8 1448.2,757.8 1449.3,757.5 1450.3,758.4 1451.4,762.8 1452.5,766.2 1453.5,768.1 1454.6,769.8 1455.6,769.8 1456.7,768.4 1457.7,770.2 1458.8,770.7 1459.8,770.4 1460.9,770.2 1461.9,772.6 1463.0,772.3 1464.0,773.7 1465.1,774.5 1466.1,775.3 1467.2,775.2 1468.2,773.3 1469.3,773.0 1470.4,772.9 1471.4,772.6 1472.5,772.8 1473.5,772.8 1474.6,773.7 1475.6,773.8 1476.7,773.9 1477.7,773.1 1478.8,773.7 1479.8,772.6 1480.9,772.2 1481.9,770.4 1483.0,770.5 1484.0,770.5 1485.1,769.7 1486.1,768.1 1487.2,769.2 1488.2,768.7 1489.3,767.5 1490.4,767.1 1491.4,767.5 1492.5,766.7 1493.5,767.1 1494.6,769.1 1495.6,769.9 1496.7,771.1 1497.7,764.8 1498.8,765.5 1499.8,765.8 1500.9,767.1 1501.9,767.0 1503.0,773.7 1504.0,773.5 1505.1,773.4 1506.1,770.7 1507.2,768.6 1508.3,770.1 1509.3,769.8 1510.4,769.0 1511.4,770.3 1512.5,770.7 1513.5,769.5 1514.6,768.5 1515.6,767.8 1516.7,766.9 1517.7,768.0 1518.8,768.2 1519.8,766.8 1520.9,768.2 1521.9,765.3 1523.0,766.2 1524.0,767.2 1525.1,769.8 1526.1,769.5 1527.2,773.3 1528.3,771.9 1529.3,772.2 1530.4,772.3 1531.4,771.5 1532.5,772.4 1533.5,773.7 1534.6,773.3 1535.6,772.9 1536.7,774.7 1537.7,775.0 1538.8,774.1 1539.8,772.8 1540.9,773.6 1541.9,773.2 1543.0,773.5 1544.0,774.1 1545.1,773.4 1546.2,772.7 1547.2,772.7 1548.3,772.2 1549.3,771.5 1550.4,774.2 1551.4,774.4 1552.5,774.3 1553.5,774.5 1554.6,775.9 1555.6,775.5 1556.7,775.1 1557.7,775.4 1558.8,775.7 1559.8,774.4 1560.9,773.1 1561.9,772.3 1563.0,771.4 1564.0,771.2 1565.1,771.4 1566.2,770.5 1567.2,769.6 1568.3,763.8 1569.3,759.6 1570.4,756.9 1571.4,756.6 1572.5,756.1 1573.5,759.2 1574.6,761.3 1575.6,763.7 1576.7,764.4 1577.7,766.4 1578.8,768.6 1579.8,770.4 1580.9,770.9 1581.9,772.2 1583.0,772.6" fill="none" stroke="#e8eef5" stroke-width="1.2"/>
<polyline points="57.8,927.7 59.8,928.5 61.8,929.3 63.8,930.0 65.8,930.9 67.8,932.2 69.8,933.3 71.8,934.3 73.8,935.1 75.8,935.9 77.8,936.5 79.8,937.2 81.8,937.8 83.8,938.4 85.8,939.1 87.8,939.7 89.8,940.1 91.8,940.4 93.8,940.7 95.8,940.8 97.8,940.8 99.8,940.7 101.8,940.4 103.8,940.2 105.8,940.0 107.8,939.8 109.8,939.5 111.8,939.2 113.8,938.9 115.8,938.5 117.8,938.0 119.8,937.5 121.8,937.0 123.8,936.4 125.8,935.8 127.8,935.2 129.8,934.6 131.8,934.0 133.8,933.4 135.8,932.9 137.8,932.5 139.8,932.3 141.8,932.1 143.8,932.1 145.8,932.2 147.8,932.4 149.8,932.6 151.8,932.8 153.8,933.0 155.8,933.4 157.8,933.8 159.8,934.2 161.8,934.8 163.8,935.5 165.8,936.2 167.8,937.1 169.8,937.9 171.8,938.8 173.8,939.6 175.8,940.4 177.8,941.1 179.8,941.8 181.8,942.3 183.8,942.8 185.8,943.3 187.8,943.6 189.8,944.0 191.8,944.3 193.8,944.6 195.8,944.9 197.8,945.2 199.8,945.4 201.8,945.5 203.8,945.6 205.8,945.7 207.8,945.5 209.8,945.0 211.8,944.1 213.8,942.9 215.8,941.4 217.8,939.6 219.8,937.4 221.8,935.0 223.8,932.5 225.8,930.1 227.8,927.6 229.8,925.1 231.8,922.6 233.8,920.1 235.8,917.5 237.8,914.9 239.8,912.4 241.8,910.1 243.8,907.9 245.8,905.8 247.8,903.9 249.8,902.1 251.8,900.4 253.8,898.9 255.8,897.4 257.8,896.1 259.8,895.0 261.8,894.0 263.8,893.1 265.8,892.5 267.8,892.0 269.8,891.7 271.8,891.4 273.8,891.2 275.8,890.9 277.8,890.6 279.8,890.3 281.8,889.9 283.8,889.4 285.8,888.7 287.8,888.0 289.8,887.1 291.8,886.2 293.8,885.2 295.8,884.2 297.8,883.3 299.8,882.4 301.8,881.5 303.8,880.7 305.8,879.9 307.8,879.2 309.8,878.5 311.8,878.1 313.8,877.8 315.8,877.7 317.8,877.9 319.8,878.2 321.8,878.7 323.8,879.5 325.8,880.3 327.8,881.1 329.8,881.9 331.8,882.6 333.8,883.3 335.8,883.9 337.8,884.5 339.8,885.1 341.8,885.6 343.8,886.0 345.8,886.4 347.8,886.8 349.8,887.1 351.8,887.4 353.8,887.5 355.8,887.7 357.8,887.8 359.8,887.9 361.8,887.9 363.8,888.0 365.8,888.1 367.8,888.1 369.8,888.1 371.8,888.0 373.8,887.7 375.8,887.4 377.8,886.8 379.8,886.2 381.8,885.5 383.8,884.6 385.8,883.7 387.8,882.9 389.8,882.0 391.8,881.1 393.8,880.3 395.8,879.5 397.8,878.7 399.8,878.1 401.8,877.4 403.8,876.9 405.8,876.3 407.8,875.9 409.8,875.4 411.8,875.0 413.8,874.6 415.8,874.1 417.8,873.7 419.8,873.2 421.8,872.8 423.8,872.4 425.8,872.0 427.8,871.6 429.8,871.2 431.8,870.9 433.8,870.6 435.8,870.3 437.8,870.1 439.8,869.8 441.8,869.6 443.8,869.3 445.8,869.1 447.8,868.9 449.8,868.7 451.8,868.6 453.8,868.5 455.8,868.6 457.8,868.7 459.8,868.9 461.8,869.2 463.8,869.5 465.8,869.9 467.8,870.3 469.8,870.6 471.8,871.0 473.8,871.3 475.8,871.6 477.8,871.7 479.8,871.8 481.8,871.9 483.8,871.8 485.8,871.7 487.8,871.5 489.8,871.2 491.8,871.0 493.8,870.8 495.8,870.7 497.8,870.8 499.8,871.1 501.8,871.5 503.8,872.1 505.8,872.9 507.8,873.8 509.8,874.8 511.8,875.8 513.8,876.8 515.8,877.7 517.8,878.7 519.8,879.6 521.8,880.6 523.8,881.5 525.8,882.4 527.8,883.3 529.8,884.2 531.8,885.1 533.8,886.0 535.8,886.7 537.8,887.3 539.8,887.7 541.8,888.0 543.8,888.1 545.8,888.1 547.8,887.9 549.8,887.7 551.8,887.5 553.8,887.2 555.8,887.0 557.8,886.8 559.8,886.6 561.8,886.3 563.8,886.1 565.8,885.9 567.8,885.6 569.8,885.3 571.8,885.0 573.8,884.7 575.8,884.4 577.8,884.1 579.8,883.7 581.8,883.4 583.8,883.1 585.8,882.9 587.8,882.8 589.8,882.9 591.8,883.1 593.8,883.4 595.8,883.9 597.8,884.4 599.8,885.1 601.8,885.7 603.8,886.3 605.8,887.0 607.8,887.6 609.8,888.2 611.8,888.8 613.8,889.4 615.8,889.9 617.8,890.3 619.8,890.5 621.8,890.6 623.8,890.6 625.8,890.5 627.8,890.2 629.8,889.9 631.8,889.6 633.8,889.3 635.8,889.2 637.8,889.1 639.8,889.1 641.8,889.2 643.8,889.4 645.8,889.7 647.8,890.1 649.8,890.5 651.8,890.9 653.8,891.4 655.8,891.9 657.8,892.5 659.8,893.2 661.8,894.0 663.8,894.9 665.8,895.9 667.8,896.9 669.8,898.0 671.8,899.1 673.8,900.1 675.8,901.0 677.8,901.8 679.8,902.4 681.8,902.9 683.8,903.3 685.8,903.4 687.8,903.5 689.8,903.5 691.8,903.5 693.8,903.5 695.8,903.5 697.8,903.5 699.8,903.5 701.8,903.5 703.8,903.5 705.8,903.5 707.8,903.4 709.8,903.4 711.8,903.3 713.8,903.3 715.8,903.2 717.8,903.1 719.8,903.0 721.8,902.9 723.8,902.7 725.8,902.6 727.8,902.5 729.8,902.4 731.8,902.3 733.8,902.2 735.8,902.1 737.8,902.0 739.8,901.9 741.8,901.8 743.8,901.6 745.8,901.6 747.8,901.5 749.8,901.5 751.8,901.5 753.8,901.5 755.8,901.5 757.8,901.6 759.8,901.7 761.8,901.7 763.8,901.8 765.8,901.9 767.8,902.0 769.8,902.0 771.8,902.1 773.8,902.2 775.8,902.3 777.8,902.3 779.8,902.3 781.8,902.2 783.8,902.0 785.8,901.6 787.8,901.2 789.8,900.6 791.8,899.9 793.8,899.1 795.8,898.3 797.8,897.5 799.8,896.7 801.8,895.9 803.8,895.2 805.8,894.3 807.8,893.5 809.8,892.7 811.8,891.8 813.8,890.9 815.8,890.0 817.8,889.0 819.8,888.1 821.8,887.2 823.8,886.2 825.8,885.3 827.8,884.4 829.8,883.4 831.8,882.4 833.8,881.3 835.8,880.1 837.8,878.9 839.8,877.6 841.8,876.3 843.8,874.9 845.8,873.5 847.8,872.1 849.8,870.7 851.8,869.3 853.8,867.9 855.8,866.6 857.8,865.3 859.8,864.1 861.8,863.0 863.8,862.0 865.8,861.0 867.8,860.1 869.8,859.4 871.8,858.6 873.8,857.8 875.8,857.1 877.8,856.3 879.8,855.5 881.8,854.8 883.8,854.0 885.8,853.3 887.8,852.7 889.8,852.2 891.8,851.8 893.8,851.5 895.8,851.4 897.8,851.3 899.8,851.4 901.8,851.5 903.8,851.6 905.8,851.7 907.8,851.8 909.8,851.8 911.8,851.9 913.8,852.0 915.8,852.1 917.8,852.2 919.8,852.3 921.8,852.4 923.8,852.4 925.8,852.4 927.8,852.4 929.8,852.4 931.8,852.3 933.8,852.2 935.8,852.1 937.8,852.0 939.8,851.9 941.8,851.8 943.8,851.7 945.8,851.6 947.8,851.5 949.8,851.3 951.8,851.2 953.8,850.9 955.8,850.5 957.8,850.1 959.8,849.5 961.8,848.9 963.8,848.2 965.8,847.5 967.8,846.7 969.8,846.0 971.8,845.2 973.8,844.5 975.8,843.7 977.8,843.0 979.8,842.2 981.8,841.5 983.8,840.9 985.8,840.3 987.8,839.7 989.8,839.2 991.8,838.7 993.8,838.2 995.8,837.8 997.8,837.4 999.8,837.0 1001.8,836.6 1003.8,836.2 1005.8,835.8 1007.8,835.4 1009.8,835.0 1011.8,834.6 1013.8,834.2 1015.8,833.8 1017.8,833.4 1019.8,833.0 1021.8,832.6 1023.8,832.2 1025.8,832.0 1027.8,831.8 1029.8,831.7 1031.8,831.8 1033.8,831.9 1035.8,832.2 1037.8,832.5 1039.8,832.9 1041.8,833.3 1043.8,833.7 1045.8,834.0 1047.8,834.4 1049.8,834.8 1051.8,835.2 1053.8,835.5 1055.8,835.8 1057.8,835.9 1059.8,836.0 1061.8,836.0 1063.8,835.9 1065.8,835.7 1067.8,835.3 1069.8,835.0 1071.8,834.7 1073.8,834.3 1075.8,834.0 1077.8,833.6 1079.8,833.3 1081.8,832.9 1083.8,832.6 1085.8,832.2 1087.8,831.9 1089.8,831.5 1091.8,831.2 1093.8,830.9 1095.8,830.6 1097.8,830.4 1099.8,830.3 1101.8,830.2 1103.8,830.2 1105.8,830.2 1107.8,830.2 1109.8,830.3 1111.8,830.3 1113.8,830.3 1115.8,830.4 1117.8,830.4 1119.8,830.5 1121.8,830.5 1123.8,830.6 1125.8,830.6 1127.8,830.7 1129.8,830.7 1131.8,830.8 1133.8,830.8 1135.8,830.8 1137.8,830.8 1139.8,830.8 1141.8,830.7 1143.8,830.5 1145.8,830.3 1147.8,830.0 1149.8,829.7 1151.8,829.3 1153.8,829.0 1155.8,828.7 1157.8,828.3 1159.8,828.0 1161.8,827.6 1163.8,827.3 1165.8,827.0 1167.8,826.6 1169.8,826.3 1171.8,825.9 1173.8,825.6 1175.8,825.3 1177.8,824.9 1179.8,824.6 1181.8,824.3 1183.8,823.9 1185.8,823.6 1187.8,823.3 1189.8,823.0 1191.8,822.8 1193.8,822.5 1195.8,822.2 1197.8,821.9 1199.8,821.7 1201.8,821.4 1203.8,821.1 1205.8,820.8 1207.8,820.6 1209.8,820.3 1211.8,820.0 1213.8,819.7 1215.8,819.5 1217.8,819.2 1219.8,818.9 1221.8,818.6 1223.8,818.4 1225.8,818.1 1227.8,817.8 1229.8,817.5 1231.8,817.3 1233.8,817.0 1235.8,816.8 1237.8,816.6 1239.8,816.6 1241.8,816.6 1243.8,816.7 1245.8,816.9 1247.8,817.2 1249.8,817.5 1251.8,817.9 1253.8,818.2 1255.8,818.6 1257.8,818.9 1259.8,819.3 1261.8,819.6 1263.8,820.0 1265.8,820.3 1267.8,820.7 1269.8,821.0 1271.8,821.4 1273.8,821.7 1275.8,822.0 1277.8,822.4 1279.8,822.7 1281.8,823.1 1283.8,823.4 1285.8,823.8 1287.8,824.1 1289.8,824.4 1291.8,824.6 1293.8,824.8 1295.8,824.9 1297.8,825.0 1299.8,825.0 1301.8,825.0 1303.8,825.0 1305.8,825.0 1307.8,825.0 1309.8,825.0 1311.8,825.0 1313.8,825.0 1315.8,825.0 1317.8,825.0 1319.8,825.0 1321.8,825.0 1323.8,825.0 1325.8,825.0 1327.8,825.0 1329.8,825.0 1331.8,825.0 1333.8,825.0 1335.8,825.0 1337.8,825.0 1339.8,825.0 1341.8,825.1 1343.8,825.2 1345.8,825.4 1347.8,825.6 1349.8,825.8 1351.8,826.1 1353.8,826.4 1355.8,826.7 1357.8,827.0 1359.8,827.4 1361.8,827.7 1363.8,828.0 1365.8,828.3 1367.8,828.6 1369.8,828.9 1371.8,829.2 1373.8,829.5 1375.8,829.8 1377.8,830.1 1379.8,830.4 1381.8,830.7 1383.8,831.0 1385.8,831.3 1387.8,831.6 1389.8,831.9 1391.8,832.1 1393.8,832.3 1395.8,832.5 1397.8,832.7 1399.8,832.8 1401.8,832.9 1403.8,833.0 1405.8,833.2 1407.8,833.3 1409.8,833.4 1411.8,833.5 1413.8,833.7 1415.8,833.8 1417.8,833.9 1419.8,834.0 1421.8,834.2 1423.8,834.3 1425.8,834.4 1427.8,834.5 1429.8,834.7 1431.8,834.8 1433.8,835.0 1435.8,835.2 1437.8,835.3 1439.8,835.5 1441.8,835.7 1443.8,836.0 1445.8,836.2 1447.8,836.4 1449.8,836.6 1451.8,836.8 1453.8,837.1 1455.8,837.3 1457.8,837.5 1459.8,837.7 1461.8,837.9 1463.8,838.1 1465.8,838.3 1467.8,838.4 1469.8,838.4 1471.8,838.3 1473.8,838.2 1475.8,838.0 1477.8,837.8 1479.8,837.6 1481.8,837.3 1483.8,837.1 1485.8,836.8 1487.8,836.6 1489.8,836.4 1491.8,836.1 1493.8,835.9 1495.8,835.6 1497.8,835.4 1499.8,835.2 1501.8,834.9 1503.8,834.7 1505.8,834.4 1507.8,834.2 1509.8,834.0 1511.8,833.8 1513.8,833.6 1515.8,833.4 1517.8,833.3 1519.8,833.2 1521.8,833.0 1523.8,832.9 1525.8,832.8 1527.8,832.7 1529.8,832.6 1531.8,832.4 1533.8,832.3 1535.8,832.2 1537.8,832.1 1539.8,831.9 1541.8,831.8 1543.8,831.8 1545.8,831.7 1547.8,831.7 1549.8,831.8 1551.8,831.8 1553.8,831.9 1555.8,832.0 1557.8,832.2 1559.8,832.3 1561.8,832.4 1563.8,832.5 1565.8,832.7 1567.8,832.8 1569.8,832.9 1571.8,833.0 1573.8,833.2 1575.8,833.2 1577.8,833.3 1579.8,833.4" fill="none" stroke="#c8a21c" stroke-width="1.2"/>
<polyline points="57.8,933.5 58.8,934.5 59.8,935.3 60.8,934.6 61.8,935.3 62.8,935.1 63.8,935.4 64.8,935.6 65.8,936.3 66.8,935.7 67.8,935.9 68.8,936.9 69.8,938.3 70.8,939.1 71.8,938.2 72.8,940.9 73.8,942.8 74.8,942.7 75.8,943.8 76.8,946.1 77.8,947.6 78.8,947.9 79.8,948.0 80.8,949.7 81.8,950.2 82.8,950.5 83.8,951.7 84.8,952.6 85.8,950.1 86.8,949.0 87.8,947.1 88.8,945.2 89.8,943.2 90.8,942.1 91.8,940.8 92.8,941.2 93.8,940.3 94.8,939.5 95.8,938.2 96.8,938.2 97.8,937.0 98.8,935.6 99.8,935.1 100.8,934.8 101.8,934.8 102.8,933.6 103.8,932.4 104.8,932.4 105.8,930.5 106.8,929.3 107.8,929.9 108.8,930.2 109.8,930.4 110.8,930.8 111.8,929.5 112.8,928.8 113.8,928.5 114.8,927.9 115.8,927.0 116.8,926.0 117.8,924.8 118.8,923.4 119.8,926.3 120.8,931.2 121.8,933.3 122.8,936.8 123.8,937.3 124.8,936.4 125.8,937.5 126.8,936.7 127.8,935.0 128.8,935.8 129.8,933.9 130.8,933.2 131.8,932.4 132.8,931.1 133.8,931.1 134.8,930.6 135.8,929.5 136.8,929.7 137.8,930.2 138.8,930.3 139.8,930.5 140.8,933.1 141.8,934.7 142.8,934.9 143.8,937.3 144.8,937.9 145.8,937.7 146.8,938.4 147.8,939.3 148.8,938.7 149.8,940.2 150.8,940.8 151.8,941.9 152.8,943.1 153.8,943.2 154.8,943.4 155.8,943.0 156.8,945.3 157.8,945.4 158.8,945.4 159.8,945.8 160.8,945.8 161.8,946.7 162.8,946.4 163.8,944.6 164.8,944.7 165.8,946.9 166.8,946.6 167.8,945.9 168.8,946.1 169.8,945.4 170.8,945.3 171.8,944.3 172.8,943.6 173.8,942.4 174.8,943.5 175.8,943.9 176.8,944.1 177.8,942.9 178.8,942.5 179.8,942.3 180.8,943.8 181.8,943.9 182.8,944.5 183.8,943.7 184.8,945.4 185.8,945.0 186.8,945.5 187.8,946.5 188.8,947.3 189.8,948.1 190.8,948.0 191.8,948.3 192.8,948.4 193.8,948.1 194.8,946.5 195.8,948.4 196.8,947.8 197.8,946.3 198.8,945.6 199.8,946.1 200.8,947.1 201.8,946.6 202.8,946.8 203.8,944.8 204.8,944.5 205.8,943.3 206.8,944.7 207.8,944.2 208.8,944.0 209.8,942.8 210.8,942.3 211.8,942.1 212.8,939.8 213.8,936.1 214.8,933.1 215.8,931.3 216.8,928.0 217.8,925.0 218.8,921.9 219.8,921.1 220.8,919.5 221.8,918.8 222.8,918.7 223.8,917.3 224.8,916.4 225.8,915.0 226.8,912.6 227.8,912.3 228.8,912.9 229.8,912.6 230.8,911.6 231.8,911.5 232.8,912.9 233.8,912.8 234.8,912.0 235.8,909.7 236.8,908.0 237.8,907.2 238.8,903.4 239.8,902.1 240.8,900.3 241.8,899.6 242.8,898.3 243.8,897.2 244.8,896.5 245.8,896.7 246.8,895.0 247.8,893.7 248.8,893.3 249.8,892.7 250.8,891.9 251.8,891.4 252.8,890.6 253.8,891.0 254.8,892.1 255.8,890.0 256.8,890.9 257.8,890.3 258.8,892.1 259.8,891.8 260.8,891.7 261.8,891.3 262.8,891.2 263.8,890.1 264.8,891.0 265.8,891.0 266.8,891.3 267.8,889.8 268.8,891.0 269.8,889.6 270.8,889.6 271.8,889.4 272.8,889.4 273.8,889.8 274.8,891.0 275.8,891.3 276.8,890.8 277.8,892.1 278.8,889.9 279.8,889.7 280.8,888.6 281.8,888.8 282.8,889.9 283.8,889.2 284.8,889.8 285.8,884.6 286.8,878.0 287.8,875.8 288.8,874.9 289.8,873.9 290.8,872.5 291.8,872.1 292.8,870.1 293.8,868.1 294.8,870.7 295.8,870.6 296.8,870.5 297.8,870.6 298.8,870.3 299.8,869.4 300.8,870.9 301.8,871.5 302.8,871.9 303.8,873.1 304.8,873.4 305.8,875.0 306.8,876.1 307.8,878.4 308.8,879.2 309.8,881.4 310.8,883.7 311.8,883.3 312.8,884.2 313.8,884.6 314.8,884.5 315.8,884.8 316.8,884.6 317.8,885.4 318.8,885.7 319.8,886.1 320.8,885.3 321.8,887.0 322.8,887.8 323.8,887.0 324.8,885.7 325.8,885.9 326.8,886.4 327.8,886.1 328.8,886.6 329.8,888.9 330.8,889.8 331.8,889.4 332.8,888.3 333.8,887.6 334.8,888.1 335.8,888.5 336.8,888.4 337.8,888.3 338.8,889.0 339.8,890.0 340.8,889.5 341.8,888.1 342.8,887.8 343.8,888.4 344.8,888.1 345.8,888.6 346.8,888.7 347.8,888.5 348.8,888.1 349.8,888.7 350.8,888.3 351.8,887.0 352.8,887.7 353.8,890.1 354.8,891.0 355.8,891.6 356.8,891.1 357.8,889.9 358.8,889.4 359.8,889.8 360.8,888.8 361.8,887.5 362.8,888.1 363.8,886.4 364.8,885.1 365.8,884.5 366.8,883.7 367.8,882.4 368.8,882.0 369.8,882.0 370.8,880.6 371.8,879.7 372.8,880.1 373.8,879.3 374.8,880.4 375.8,879.7 376.8,879.2 377.8,879.4 378.8,879.0 379.8,878.5 380.8,877.8 381.8,877.6 382.8,877.8 383.8,878.1 384.8,877.7 385.8,877.9 386.8,877.3 387.8,877.4 388.8,876.8 389.8,876.1 390.8,875.8 391.8,876.5 392.8,876.4 393.8,875.1 394.8,875.7 395.8,875.5 396.8,875.0 397.8,876.0 398.8,875.5 399.8,873.8 400.8,874.0 401.8,874.3 402.8,874.2 403.8,874.1 404.8,874.6 405.8,873.8 406.8,874.7 407.8,872.5 408.8,871.9 409.8,871.1 410.8,871.7 411.8,871.2 412.8,869.9 413.8,868.7 414.8,868.6 415.8,866.8 416.8,867.8 417.8,867.2 418.8,865.8 419.8,865.5 420.8,865.9 421.8,864.5 422.8,866.1 423.8,866.1 424.8,866.4 425.8,866.1 426.8,865.9 427.8,866.1 428.8,866.5 429.8,865.4 430.8,865.4 431.8,866.3 432.8,865.8 433.8,865.5 434.8,866.8 435.8,867.9 436.8,869.1 437.8,870.3 438.8,869.9 439.8,869.3 440.8,869.1 441.8,869.1 442.8,868.8 443.8,869.3 444.8,868.9 445.8,868.8 446.8,868.7 447.8,868.7 448.8,868.0 449.8,868.6 450.8,868.3 451.8,869.3 452.8,868.5 453.8,869.8 454.8,869.7 455.8,870.8 456.8,871.9 457.8,871.4 458.8,871.8 459.8,872.4 460.8,871.4 461.8,871.9 462.8,873.0 463.8,873.7 464.8,874.7 465.8,875.4 466.8,876.6 467.8,878.5 468.8,880.2 469.8,881.9 470.8,880.9 471.8,880.2 472.8,879.6 473.8,878.1 474.8,877.3 475.8,877.0 476.8,874.8 477.8,873.5 478.8,873.0 479.8,871.6 480.8,871.3 481.8,870.3 482.8,871.2 483.8,869.7 484.8,869.4 485.8,870.4 486.8,868.6 487.8,869.6 488.8,868.1 489.8,866.3 490.8,866.4 491.8,868.2 492.8,867.9 493.8,866.8 494.8,866.7 495.8,868.1 496.8,869.0 497.8,871.2 498.8,871.4 499.8,872.8 500.8,875.1 501.8,877.9 502.8,879.1 503.8,881.3 504.8,883.5 505.8,884.5 506.8,885.1 507.8,886.6 508.8,887.0 509.8,888.6 510.8,888.8 511.8,888.8 512.8,889.5 513.8,890.1 514.8,890.6 515.8,890.2 516.8,890.3 517.8,890.7 518.8,891.1 519.8,892.0 520.8,892.2 521.8,889.8 522.8,889.0 523.8,889.8 524.8,890.0 525.8,889.7 526.8,890.5 527.8,891.2 528.8,890.4 529.8,889.0 530.8,889.0 531.8,889.1 532.8,888.8 533.8,888.6 534.8,889.6 535.8,889.1 536.8,888.2 537.8,888.0 538.8,888.4 539.8,887.3 540.8,887.9 541.8,888.3 542.8,886.2 543.8,886.9 544.8,886.4 545.8,887.2 546.8,887.4 547.8,886.6 548.8,885.7 549.8,887.3 550.8,885.8 551.8,884.7 552.8,885.1 553.8,886.1 554.8,885.3 555.8,884.1 556.8,885.1 557.8,884.4 558.8,884.9 559.8,884.0 560.8,883.2 561.8,883.3 562.8,882.1 563.8,882.9 564.8,883.5 565.8,883.6 566.8,883.0 567.8,881.1 568.8,881.3 569.8,881.9 570.8,880.4 571.8,880.9 572.8,880.3 573.8,879.0 574.8,879.8 575.8,880.0 576.8,880.5 577.8,879.9 578.8,880.6 579.8,882.5 580.8,883.3 581.8,883.9 582.8,882.3 583.8,883.7 584.8,884.0 585.8,884.4 586.8,884.8 587.8,884.8 588.8,886.5 589.8,887.4 590.8,888.1 591.8,890.1 592.8,890.5 593.8,891.1 594.8,890.7 595.8,890.5 596.8,891.4 597.8,891.6 598.8,891.1 599.8,891.8 600.8,891.5 601.8,892.8 602.8,892.2 603.8,889.8 604.8,890.6 605.8,892.3 606.8,892.1 607.8,892.0 608.8,891.9 609.8,892.5 610.8,892.4 611.8,891.7 612.8,891.7 613.8,890.6 614.8,890.7 615.8,890.6 616.8,890.8 617.8,889.7 618.8,890.1 619.8,889.4 620.8,889.3 621.8,888.4 622.8,888.3 623.8,887.7 624.8,885.9 625.8,886.3 626.8,885.2 627.8,884.5 628.8,884.2 629.8,884.1 630.8,884.5 631.8,883.4 632.8,883.8 633.8,882.6 634.8,885.3 635.8,885.6 636.8,885.9 637.8,884.9 638.8,885.8 639.8,885.8 640.8,885.6 641.8,886.4 642.8,887.6 643.8,887.7 644.8,888.4 645.8,888.0 646.8,889.8 647.8,890.1 648.8,891.1 649.8,891.0 650.8,891.4 651.8,892.2 652.8,893.2 653.8,893.3 654.8,894.3 655.8,895.6 656.8,897.0 657.8,898.2 658.8,898.1 659.8,898.7 660.8,898.6 661.8,899.7 662.8,900.1 663.8,901.0 664.8,900.3 665.8,900.3 666.8,901.8 667.8,901.3 668.8,901.9 669.8,901.2 670.8,901.7 671.8,903.2 672.8,904.3 673.8,903.7 674.8,903.3 675.8,904.2 676.8,903.7 677.8,904.5 678.8,906.2 679.8,907.3 680.8,905.9 681.8,904.9 682.8,904.9 683.8,903.7 684.8,904.0 685.8,903.9 686.8,902.6 687.8,902.5 688.8,902.9 689.8,902.1 690.8,903.1 691.8,903.2 692.8,902.9 693.8,903.3 694.8,904.0 695.8,903.4 696.8,903.9 697.8,903.4 698.8,902.5 699.8,901.8 700.8,902.2 701.8,901.5 702.8,901.0 703.8,901.1 704.8,901.7 705.8,901.3 706.8,900.0 707.8,901.4 708.8,900.5 709.8,900.1 710.8,900.7 711.8,900.6 712.8,900.9 713.8,899.8 714.8,900.1 715.8,900.7 716.8,899.8 717.8,900.7 718.8,903.0 719.8,903.0 720.8,903.7 721.8,903.3 722.8,903.7 723.8,901.7 724.8,902.2 725.8,901.2 726.8,901.7 727.8,900.3 728.8,898.9 729.8,897.0 730.8,896.6 731.8,896.8 732.8,899.6 733.8,899.9 734.8,899.3 735.8,898.0 736.8,898.1 737.8,898.5 738.8,899.3 739.8,901.1 740.8,900.5 741.8,900.9 742.8,900.1 743.8,898.1 744.8,898.3 745.8,900.2 746.8,899.0 747.8,901.1 748.8,901.3 749.8,902.2 750.8,901.6 751.8,900.9 752.8,900.0 753.8,901.5 754.8,901.7 755.8,902.1 756.8,902.0 757.8,901.8 758.8,902.5 759.8,902.0 760.8,903.6 761.8,903.2 762.8,904.0 763.8,903.3 764.8,902.9 765.8,903.7 766.8,903.0 767.8,903.1 768.8,902.6 769.8,903.4 770.8,902.9 771.8,902.6 772.8,902.0 773.8,902.0 774.8,902.4 775.8,901.8 776.8,902.4 777.8,903.4 778.8,904.3 779.8,904.1 780.8,903.3 781.8,904.7 782.8,905.3 783.8,901.9 784.8,899.1 785.8,896.6 786.8,894.2 787.8,891.7 788.8,888.8 789.8,887.3 790.8,885.1 791.8,882.9 792.8,883.8 793.8,882.0 794.8,881.6 795.8,881.4 796.8,880.6 797.8,882.1 798.8,880.8 799.8,881.4 800.8,880.3 801.8,879.8 802.8,879.7 803.8,879.6 804.8,879.9 805.8,881.1 806.8,880.4 807.8,879.0 808.8,878.5 809.8,879.0 810.8,878.6 811.8,878.9 812.8,878.5 813.8,878.9 814.8,876.9 815.8,876.8 816.8,877.0 817.8,875.9 818.8,876.1 819.8,875.8 820.8,878.0 821.8,877.3 822.8,877.1 823.8,876.7 824.8,875.8 825.8,874.7 826.8,874.0 827.8,872.1 828.8,870.6 829.8,869.4 830.8,867.4 831.8,866.3 832.8,865.6 833.8,863.8 834.8,863.0 835.8,861.4 836.8,860.5 837.8,860.5 838.8,859.0 839.8,859.1 840.8,858.8 841.8,856.0 842.8,856.2 843.8,857.9 844.8,858.1 845.8,858.9 846.8,860.8 847.8,861.8 848.8,865.6 849.8,864.3 850.8,862.9 851.8,862.1 852.8,861.1 853.8,859.9 854.8,860.2 855.8,858.8 856.8,858.1 857.8,858.1 858.8,857.2 859.8,858.2 860.8,857.7 861.8,856.8 862.8,856.4 863.8,856.2 864.8,856.4 865.8,856.8 866.8,854.3 867.8,853.8 868.8,853.9 869.8,854.5 870.8,851.7 871.8,851.7 872.8,850.6 873.8,848.6 874.8,848.9 875.8,849.2 876.8,848.3 877.8,848.9 878.8,849.5 879.8,850.1 880.8,850.0 881.8,850.3 882.8,851.1 883.8,850.5 884.8,850.8 885.8,851.1 886.8,850.8 887.8,851.1 888.8,852.6 889.8,852.3 890.8,851.5 891.8,850.8 892.8,852.1 893.8,851.7 894.8,852.9 895.8,852.5 896.8,852.4 897.8,852.2 898.8,851.2 899.8,850.4 900.8,851.0 901.8,851.4 902.8,851.4 903.8,852.3 904.8,853.2 905.8,853.2 906.8,852.9 907.8,851.0 908.8,851.0 909.8,850.9 910.8,852.6 911.8,852.0 912.8,853.0 913.8,853.5 914.8,852.6 915.8,851.7 916.8,851.7 917.8,851.1 918.8,850.6 919.8,851.4 920.8,852.1 921.8,852.1 922.8,851.0 923.8,852.6 924.8,852.5 925.8,853.3 926.8,853.6 927.8,853.6 928.8,853.8 929.8,854.1 930.8,854.8 931.8,856.0 932.8,856.3 933.8,855.1 934.8,856.8 935.8,854.8 936.8,855.1 937.8,854.2 938.8,855.0 939.8,852.8 940.8,851.3 941.8,850.7 942.8,851.3 943.8,850.7 944.8,849.1 945.8,849.8 946.8,850.9 947.8,851.2 948.8,850.1 949.8,850.4 950.8,850.3 951.8,850.2 952.8,850.3 953.8,849.9 954.8,850.0 955.8,849.3 956.8,848.1 957.8,846.9 958.8,843.0 959.8,840.2 960.8,838.6 961.8,839.6 962.8,840.3 963.8,839.7 964.8,839.1 965.8,840.3 966.8,839.6 967.8,839.1 968.8,840.1 969.8,840.1 970.8,840.0 971.8,840.0 972.8,840.1 973.8,840.7 974.8,840.2 975.8,838.9 976.8,838.5 977.8,839.0 978.8,839.7 979.8,838.6 980.8,838.3 981.8,839.4 982.8,838.1 983.8,837.7 984.8,838.3 985.8,836.9 986.8,837.4 987.8,836.6 988.8,835.9 989.8,837.5 990.8,835.4 991.8,835.5 992.8,836.4 993.8,836.9 994.8,838.8 995.8,837.9 996.8,836.9 997.8,836.9 998.8,837.1 999.8,837.4 1000.8,836.5 1001.8,837.6 1002.8,838.2 1003.8,837.5 1004.8,835.3 1005.8,833.9 1006.8,832.5 1007.8,830.4 1008.8,829.3 1009.8,828.0 1010.8,828.3 1011.8,828.7 1012.8,829.9 1013.8,830.2 1014.8,829.8 1015.8,831.2 1016.8,831.4 1017.8,830.3 1018.8,829.4 1019.8,830.1 1020.8,831.3 1021.8,830.1 1022.8,832.8 1023.8,831.5 1024.8,832.0 1025.8,832.8 1026.8,832.0 1027.8,831.8 1028.8,832.7 1029.8,832.4 1030.8,831.7 1031.8,832.3 1032.8,831.2 1033.8,833.2 1034.8,833.8 1035.8,833.3 1036.8,833.6 1037.8,834.5 1038.8,834.1 1039.8,835.1 1040.8,836.2 1041.8,837.0 1042.8,836.3 1043.8,836.8 1044.8,836.2 1045.8,835.0 1046.8,835.4 1047.8,836.2 1048.8,835.3 1049.8,836.1 1050.8,835.9 1051.8,836.3 1052.8,836.5 1053.8,837.0 1054.8,836.7 1055.8,836.9 1056.8,836.1 1057.8,835.1 1058.8,835.1 1059.8,834.9 1060.8,835.9 1061.8,835.2 1062.8,834.8 1063.8,834.0 1064.8,832.7 1065.8,833.1 1066.8,832.8 1067.8,832.7 1068.8,832.0 1069.8,831.7 1070.8,830.9 1071.8,831.2 1072.8,831.6 1073.8,832.8 1074.8,830.1 1075.8,830.1 1076.8,830.0 1077.8,830.6 1078.8,832.6 1079.8,832.8 1080.8,832.0 1081.8,830.8 1082.8,830.6 1083.8,830.5 1084.8,830.1 1085.8,830.7 1086.8,831.5 1087.8,830.9 1088.8,831.6 1089.8,832.0 1090.8,832.5 1091.8,831.2 1092.8,831.5 1093.8,830.3 1094.8,830.3 1095.8,830.2 1096.8,831.8 1097.8,831.8 1098.8,831.2 1099.8,830.8 1100.8,831.3 1101.8,830.6 1102.8,831.2 1103.8,830.8 1104.8,830.6 1105.8,829.6 1106.8,830.0 1107.8,829.7 1108.8,829.6 1109.8,829.4 1110.8,830.2 1111.8,830.7 1112.8,830.9 1113.8,829.9 1114.8,831.3 1115.8,830.4 1116.8,830.3 1117.8,830.7 1118.8,830.1 1119.8,830.0 1120.8,830.0 1121.8,829.6 1122.8,829.9 1123.8,830.2 1124.8,831.2 1125.8,830.0 1126.8,829.3 1127.8,830.2 1128.8,830.0 1129.8,829.3 1130.8,828.7 1131.8,829.2 1132.8,827.6 1133.8,828.2 1134.8,829.7 1135.8,830.5 1136.8,829.8 1137.8,830.8 1138.8,830.5 1139.8,830.3 1140.8,829.9 1141.8,830.0 1142.8,831.3 1143.8,831.3 1144.8,831.0 1145.8,831.6 1146.8,831.8 1147.8,831.7 1148.8,831.8 1149.8,832.4 1150.8,832.6 1151.8,832.8 1152.8,832.1 1153.8,830.8 1154.8,829.6 1155.8,830.2 1156.8,829.2 1157.8,829.6 1158.8,829.1 1159.8,828.9 1160.8,828.6 1161.8,828.7 1162.8,827.2 1163.8,827.1 1164.8,827.5 1165.8,826.1 1166.8,826.7 1167.8,824.4 1168.8,824.7 1169.8,825.0 1170.8,824.1 1171.8,824.1 1172.8,823.2 1173.8,822.8 1174.8,822.6 1175.8,823.3 1176.8,822.9 1177.8,822.2 1178.8,822.2 1179.8,822.0 1180.8,821.1 1181.8,822.0 1182.8,821.5 1183.8,820.6 1184.8,820.3 1185.8,820.6 1186.8,820.4 1187.8,821.6 1188.8,820.7 1189.8,820.6 1190.8,821.4 1191.8,819.5 1192.8,820.7 1193.8,819.9 1194.8,819.4 1195.8,819.9 1196.8,819.5 1197.8,817.8 1198.8,816.8 1199.8,817.0 1200.8,817.9 1201.8,818.6 1202.8,818.4 1203.8,817.9 1204.8,816.7 1205.8,817.1 1206.8,817.5 1207.8,818.0 1208.8,816.6 1209.8,815.6 1210.8,814.7 1211.8,815.3 1212.8,816.3 1213.8,816.4 1214.8,815.9 1215.8,816.3 1216.8,815.2 1217.8,815.5 1218.8,814.6 1219.8,814.9 1220.8,814.6 1221.8,813.7 1222.8,814.2 1223.8,815.8 1224.8,815.3 1225.8,815.2 1226.8,814.9 1227.8,814.1 1228.8,814.3 1229.8,814.5 1230.8,814.1 1231.8,813.7 1232.8,814.6 1233.8,817.3 1234.8,815.8 1235.8,816.2 1236.8,816.7 1237.8,817.3 1238.8,815.6 1239.8,816.1 1240.8,817.7 1241.8,819.3 1242.8,819.8 1243.8,820.2 1244.8,819.5 1245.8,818.3 1246.8,818.4 1247.8,820.2 1248.8,819.8 1249.8,819.5 1250.8,818.8 1251.8,818.9 1252.8,819.8 1253.8,819.0 1254.8,818.4 1255.8,818.2 1256.8,819.3 1257.8,818.9 1258.8,819.5 1259.8,819.2 1260.8,820.2 1261.8,819.2 1262.8,818.1 1263.8,818.1 1264.8,817.7 1265.8,818.4 1266.8,817.9 1267.8,818.5 1268.8,817.9 1269.8,818.7 1270.8,818.2 1271.8,819.0 1272.8,818.5 1273.8,820.3 1274.8,820.7 1275.8,819.3 1276.8,820.4 1277.8,821.2 1278.8,821.7 1279.8,821.8 1280.8,822.5 1281.8,821.5 1282.8,820.0 1283.8,822.2 1284.8,821.9 1285.8,822.4 1286.8,822.9 1287.8,821.9 1288.8,822.1 1289.8,822.8 1290.8,825.5 1291.8,825.6 1292.8,826.9 1293.8,826.9 1294.8,827.0 1295.8,826.0 1296.8,827.3 1297.8,825.9 1298.8,826.1 1299.8,825.7 1300.8,825.2 1301.8,826.1 1302.8,826.4 1303.8,826.7 1304.8,826.3 1305.8,826.2 1306.8,825.8 1307.8,825.0 1308.8,825.2 1309.8,825.4 1310.8,825.6 1311.8,825.0 1312.8,825.2 1313.8,823.7 1314.8,824.4 1315.8,824.8 1316.8,824.2 1317.8,824.3 1318.8,825.1 1319.8,825.7 1320.8,824.9 1321.8,825.4 1322.8,825.9 1323.8,825.8 1324.8,824.9 1325.8,824.9 1326.8,824.2 1327.8,825.2 1328.8,826.1 1329.8,825.8 1330.8,826.2 1331.8,826.2 1332.8,825.6 1333.8,824.6 1334.8,825.6 1335.8,825.5 1336.8,825.8 1337.8,825.4 1338.8,824.4 1339.8,824.9 1340.8,823.8 1341.8,823.1 1342.8,823.7 1343.8,824.5 1344.8,826.9 1345.8,827.0 1346.8,827.3 1347.8,826.8 1348.8,825.7 1349.8,826.8 1350.8,827.7 1351.8,827.3 1352.8,826.8 1353.8,827.9 1354.8,828.4 1355.8,829.4 1356.8,828.5 1357.8,829.3 1358.8,831.0 1359.8,831.0 1360.8,830.4 1361.8,830.5 1362.8,830.2 1363.8,832.0 1364.8,832.3 1365.8,832.3 1366.8,833.1 1367.8,833.4 1368.8,834.2 1369.8,832.3 1370.8,832.0 1371.8,829.7 1372.8,830.5 1373.8,831.5 1374.8,831.5 1375.8,833.0 1376.8,833.7 1377.8,834.5 1378.8,834.9 1379.8,833.3 1380.8,833.5 1381.8,833.9 1382.8,832.9 1383.8,832.4 1384.8,832.0 1385.8,831.4 1386.8,832.4 1387.8,831.9 1388.8,831.8 1389.8,832.7 1390.8,831.6 1391.8,832.2 1392.8,832.1 1393.8,831.8 1394.8,832.0 1395.8,832.7 1396.8,831.9 1397.8,832.5 1398.8,831.4 1399.8,831.8 1400.8,831.2 1401.8,831.4 1402.8,831.7 1403.8,831.3 1404.8,831.4 1405.8,831.8 1406.8,831.7 1407.8,831.4 1408.8,831.1 1409.8,830.9 1410.8,830.2 1411.8,830.8 1412.8,830.8 1413.8,832.1 1414.8,830.3 1415.8,830.7 1416.8,831.3 1417.8,832.1 1418.8,832.2 1419.8,832.0 1420.8,831.9 1421.8,832.7 1422.8,832.5 1423.8,831.5 1424.8,833.6 1425.8,832.8 1426.8,833.7 1427.8,834.1 1428.8,833.1 1429.8,834.7 1430.8,834.8 1431.8,834.6 1432.8,833.9 1433.8,834.1 1434.8,832.8 1435.8,834.8 1436.8,833.8 1437.8,833.8 1438.8,834.9 1439.8,835.4 1440.8,834.7 1441.8,836.3 1442.8,837.0 1443.8,837.2 1444.8,836.7 1445.8,836.4 1446.8,837.3 1447.8,838.8 1448.8,839.7 1449.8,838.2 1450.8,839.5 1451.8,838.6 1452.8,838.8 1453.8,838.8 1454.8,838.8 1455.8,838.9 1456.8,840.1 1457.8,840.1 1458.8,839.8 1459.8,841.1 1460.8,840.8 1461.8,841.4 1462.8,840.5 1463.8,840.4 1464.8,841.2 1465.8,840.0 1466.8,838.2 1467.8,838.8 1468.8,838.6 1469.8,838.5 1470.8,839.2 1471.8,838.3 1472.8,837.9 1473.8,838.6 1474.8,839.6 1475.8,839.5 1476.8,838.4 1477.8,837.5 1478.8,836.2 1479.8,835.3 1480.8,833.8 1481.8,834.3 1482.8,833.6 1483.8,833.5 1484.8,834.3 1485.8,835.6 1486.8,834.7 1487.8,833.6 1488.8,832.8 1489.8,834.1 1490.8,833.3 1491.8,833.6 1492.8,833.8 1493.8,834.5 1494.8,834.1 1495.8,833.0 1496.8,832.7 1497.8,832.3 1498.8,832.4 1499.8,832.1 1500.8,833.7 1501.8,833.7 1502.8,833.2 1503.8,833.5 1504.8,831.4 1505.8,831.3 1506.8,830.6 1507.8,832.0 1508.8,833.6 1509.8,832.6 1510.8,833.0 1511.8,831.6 1512.8,832.6 1513.8,831.5 1514.8,832.4 1515.8,830.8 1516.8,831.6 1517.8,832.3 1518.8,831.7 1519.8,832.3 1520.8,832.3 1521.8,833.1 1522.8,832.6 1523.8,831.0 1524.8,831.8 1525.8,832.4 1526.8,832.8 1527.8,833.1 1528.8,833.2 1529.8,832.2 1530.8,833.0 1531.8,832.5 1532.8,831.7 1533.8,832.0 1534.8,832.4 1535.8,832.4 1536.8,832.8 1537.8,833.1 1538.8,832.4 1539.8,832.6 1540.8,832.8 1541.8,832.2 1542.8,832.6 1543.8,833.2 1544.8,831.8 1545.8,832.1 1546.8,831.0 1547.8,830.5 1548.8,831.5 1549.8,831.9 1550.8,832.9 1551.8,833.2 1552.8,833.0 1553.8,832.4 1554.8,831.1 1555.8,831.1 1556.8,832.2 1557.8,831.7 1558.8,832.3 1559.8,832.2 1560.8,832.2 1561.8,832.2 1562.8,831.6 1563.8,831.9 1564.8,833.3 1565.8,832.6 1566.8,832.7 1567.8,832.7 1568.8,833.8 1569.8,834.0 1570.8,833.8 1571.8,834.2 1572.8,835.3 1573.8,836.1 1574.8,835.3 1575.8,835.9 1576.8,836.7 1577.8,835.8 1578.8,835.3 1579.8,834.5 1580.8,834.9" fill="none" stroke="#e0e6ee" stroke-width="1"/>
<path d="M784.9 332.0L1165.4 118.9L1167.9 123.3L1177.6 108.0L1159.5 108.5L1161.9 112.8L783.1 329.0Z" fill="#f41c1c"/><path d="M1298.8 205.9L1428.7 367.8L1425.0 370.8L1441.5 378.0L1437.8 360.4L1434.1 363.4L1301.2 204.1Z" fill="#f41c1c"/>
<text x="119.5" y="477.2" fill="#ffffff" stroke="#ffffff" text-anchor="middle" class="sg">注意平仓</text><path d="M116.8 484H121.2V489H124.5L119 495L113.5 489H116.8Z" fill="#f33a3a"/><text x="217.5" y="487.2" fill="#f0506a" stroke="#f0506a" text-anchor="middle" class="sg">做多信号</text><path d="M214.8 503H219.2V498H222.5L217 492L211.5 498H214.8Z" fill="#f33a3a"/><text x="166.5" y="578.2" fill="#28d2b8" stroke="#28d2b8" text-anchor="middle" class="sg">做空信号</text><path d="M163.8 552H168.2V557H171.5L166 563L160.5 557H163.8Z" fill="#f33a3a"/><text x="87" y="575.5" fill="#fff" stroke="#fff" class="sg2">←2762.0</text><text x="469.5" y="346.2" fill="#ffffff" stroke="#ffffff" text-anchor="middle" class="sg">注意平仓</text><path d="M466.8 350H471.2V355H474.5L469 361L463.5 355H466.8Z" fill="#f33a3a"/><text x="503.5" y="440.2" fill="#28d2b8" stroke="#28d2b8" text-anchor="middle" class="sg">做空信号</text><path d="M500.8 414H505.2V419H508.5L503 425L497.5 419H500.8Z" fill="#f33a3a"/><text x="630.5" y="353.2" fill="#f0506a" stroke="#f0506a" text-anchor="middle" class="sg">做多信号</text><text x="629.5" y="362.2" fill="#ffffff" stroke="#ffffff" text-anchor="middle" class="sg">注意平仓</text><path d="M627.8 369H632.2V364H635.5L630 358L624.5 364H627.8Z" fill="#f33a3a"/><path d="M627.8 368H632.2V373H635.5L630 379L624.5 373H627.8Z" fill="#f33a3a"/><text x="677.5" y="377.2" fill="#f0506a" stroke="#f0506a" text-anchor="middle" class="sg">做多信号</text><text x="703" y="375.2" fill="#f0506a" stroke="#f0506a" text-anchor="middle" class="sg">做多信号</text><text x="670.5" y="387.8" fill="#ffffff" stroke="#ffffff" text-anchor="middle" class="sg">注意平仓</text><text x="696" y="384.8" fill="#ffffff" stroke="#ffffff" text-anchor="middle" class="sg">注意平仓</text><path d="M673.8 392H678.2V398H681.5L676 404L670.5 398H673.8Z" fill="#f33a3a"/><path d="M681.8 394H686.2V389H689.5L684 383L678.5 389H681.8Z" fill="#f33a3a"/><path d="M692.3 389H696.7V394H700.0L694.5 400L689.0 394H692.3Z" fill="#f33a3a"/><path d="M700.3 392H704.7V386H708.0L702.5 380L697.0 386H700.3Z" fill="#f33a3a"/><text x="720.3" y="437.7" fill="#28d2b8" stroke="#28d2b8" text-anchor="middle" class="sg">做空信号</text><path d="M718.3 410.5H722.7V416H726.0L720.5 422L715.0 416H718.3Z" fill="#f33a3a"/><text x="781" y="369.2" fill="#f0506a" stroke="#f0506a" text-anchor="middle" class="sg">做多信号</text><text x="782" y="369.0" fill="#ffffff" stroke="#ffffff" text-anchor="middle" class="sg">注意平仓</text><path d="M782.8 381H787.2V378H790.5L785 372L779.5 378H782.8Z" fill="#f33a3a"/><path d="M782.8 377H787.2V380H790.5L785 386L779.5 380H782.8Z" fill="#f33a3a"/><text x="1223" y="102.5" fill="#fff" stroke="#fff" class="sg2">←3847.0</text><text x="1248.5" y="149.2" fill="#ffffff" stroke="#ffffff" text-anchor="middle" class="sg">注意平仓</text><path d="M1246.8 154H1251.2V160H1254.5L1249 166L1243.5 160H1246.8Z" fill="#f33a3a"/><text x="1281.5" y="259.2" fill="#28d2b8" stroke="#28d2b8" text-anchor="middle" class="sg">做空信号</text><path d="M1279.3 232H1283.7V238H1287.0L1281.5 244L1276.0 238H1279.3Z" fill="#f33a3a"/><text x="1485.5" y="269.2" fill="#ffffff" stroke="#ffffff" text-anchor="middle" class="sg">注意平仓</text><path d="M1484.3 273.7H1488.7V278.7H1492.0L1486.5 284.7L1481.0 278.7H1484.3Z" fill="#f33a3a"/><text x="1517.5" y="263.2" fill="#f0506a" stroke="#f0506a" text-anchor="middle" class="sg">做多信号</text><text x="1512" y="257.0" fill="#ffffff" stroke="#ffffff" text-anchor="middle" class="sg">注意平仓</text><path d="M1512.8 264H1517.2V271H1520.5L1515 277L1509.5 271H1512.8Z" fill="#f33a3a"/><text x="1498.3" y="350.8" fill="#28d2b8" stroke="#28d2b8" text-anchor="middle" class="sg">做空信号</text><path d="M1496.8 322.4H1501.2V328.6H1504.5L1499 334.6L1493.5 328.6H1496.8Z" fill="#f33a3a"/><text x="1563" y="382.2" fill="#28d2b8" stroke="#28d2b8" text-anchor="middle" class="sg">做空信号</text><path d="M1564.3999999999999 354H1568.8V360H1572.1L1566.6 366L1561.1 360H1564.3999999999999Z" fill="#f33a3a"/>
<text x="555" y="179" stroke="#fff" class="ann">焦炭5分钟从9.1号发出做多信号最大盈利超过700点</text>
<text x="1216" y="425" stroke="#fff" class="ann">9.10号翻出做空信号最大盈利超过400点</text>
<text x="1599.5" y="96.5" stroke="#fff" class="ax">3880.0</text><text x="1599.5" y="131.0" stroke="#fff" class="ax">3797.4</text><text x="1599.5" y="166.0" stroke="#fff" class="ax">3714.9</text><text x="1599.5" y="200.5" stroke="#fff" class="ax">3632.3</text><text x="1599.5" y="235.5" stroke="#fff" class="ax">3549.7</text><text x="1599.5" y="270.5" stroke="#fff" class="ax">3467.1</text><text x="1599.5" y="305.0" stroke="#fff" class="ax">3384.6</text><text x="1599.5" y="339.5" stroke="#fff" class="ax">3302.0</text><text x="1599.5" y="374.5" stroke="#fff" class="ax">3219.4</text><text x="1599.5" y="409.5" stroke="#fff" class="ax">3136.9</text><text x="1599.5" y="444.5" stroke="#fff" class="ax">3054.3</text><text x="1599.5" y="479.0" stroke="#fff" class="ax">2971.7</text><text x="1599.5" y="513.5" stroke="#fff" class="ax">2889.1</text><text x="1599.5" y="548.5" stroke="#fff" class="ax">2806.6</text><text x="1599.5" y="583.5" stroke="#fff" class="ax">2724.0</text><text x="1599.5" y="634.0" stroke="#fff" class="ax">28816</text><text x="1599.5" y="664.7" stroke="#fff" class="ax">22978</text><text x="1599.5" y="695.0" stroke="#fff" class="ax">17140</text><text x="1599.5" y="725.5" stroke="#fff" class="ax">11302</text><text x="1599.5" y="755.7" stroke="#fff" class="ax">5464</text><text x="1599.5" y="835.5" stroke="#fff" class="ax">243265.6</text><text x="1599.5" y="862.3" stroke="#fff" class="ax">172832.8</text><text x="1599.5" y="889.0" stroke="#fff" class="ax">102400.0</text><text x="1599.5" y="915.7" stroke="#fff" class="ax">31967.2</text><text x="1599.5" y="942.5" stroke="#fff" class="ax">-38465.6</text>
<text x="57.5" y="979" stroke="#fff" class="tm">08-18</text><text x="95.5" y="979" stroke="#fff" class="tm">22:55</text><text x="133.4" y="979" stroke="#fff" class="tm">14:00</text><text x="171.4" y="979" stroke="#fff" class="tm">09:05</text><text x="209.3" y="979" stroke="#fff" class="tm">14:10</text><text x="247.2" y="979" stroke="#fff" class="tm">09:15</text><text x="285.2" y="979" stroke="#fff" class="tm">14:20</text><text x="323.2" y="979" stroke="#fff" class="tm">09:25</text><text x="361.1" y="979" stroke="#fff" class="tm">14:30</text><text x="399.1" y="979" stroke="#fff" class="tm">09:35</text><text x="437.0" y="979" stroke="#fff" class="tm">14:40</text><text x="475.0" y="979" stroke="#fff" class="tm">09:45</text><text x="512.9" y="979" stroke="#fff" class="tm">14:50</text><text x="550.9" y="979" stroke="#fff" class="tm">09:55</text><text x="588.8" y="979" stroke="#fff" class="tm">21:00</text><text x="626.8" y="979" stroke="#fff" class="tm">10:05</text><text x="664.7" y="979" stroke="#fff" class="tm">21:10</text><text x="702.7" y="979" stroke="#fff" class="tm">10:15</text><text x="740.6" y="979" stroke="#fff" class="tm">21:20</text><text x="778.6" y="979" stroke="#fff" class="tm">10:25</text><text x="816.5" y="979" stroke="#fff" class="tm">21:30</text><text x="854.5" y="979" stroke="#fff" class="tm">10:35</text><text x="892.4" y="979" stroke="#fff" class="tm">21:40</text><text x="930.4" y="979" stroke="#fff" class="tm">10:45</text><text x="968.3" y="979" stroke="#fff" class="tm">21:50</text><text x="1006.3" y="979" stroke="#fff" class="tm">10:55</text><text x="1044.2" y="979" stroke="#fff" class="tm">22:00</text><text x="1082.2" y="979" stroke="#fff" class="tm">11:05</text><text x="1120.1" y="979" stroke="#fff" class="tm">22:10</text><text x="1158.1" y="979" stroke="#fff" class="tm">11:15</text><text x="1196.0" y="979" stroke="#fff" class="tm">22:20</text><text x="1234.0" y="979" stroke="#fff" class="tm">11:25</text><text x="1271.9" y="979" stroke="#fff" class="tm">22:30</text><text x="1309.9" y="979" stroke="#fff" class="tm">13:35</text><text x="1347.8" y="979" stroke="#fff" class="tm">22:40</text><text x="1385.8" y="979" stroke="#fff" class="tm">13:45</text><text x="1423.7" y="979" stroke="#fff" class="tm">22:50</text><text x="1461.7" y="979" stroke="#fff" class="tm">13:55</text><text x="1499.6" y="979" stroke="#fff" class="tm">09:00</text><text x="1537.6" y="979" stroke="#fff" class="tm">14:05</text><text x="1575.5" y="979" stroke="#fff" class="tm">09:10</text><text x="1613.5" y="979" stroke="#fff" class="tm">14:15</text>
</svg>
<div id="tip"><svg class="abs" style="left:134px;top:3px" width="11" height="11"><path d="M1 1L10 10M10 1L1 10" stroke="#8a93a0" stroke-width="2"/></svg>
<div class="tr" style="top:13px"><span class="tl"><span style="letter-spacing:0.8px">21/09/16</span></span><span class="tv" style="color:#fff">14:55</span></div><div class="tr" style="top:33px"><span class="tl">开盘价</span><span class="tv" style="color:#f0334f">3203.0</span></div><div class="tr" style="top:53px"><span class="tl">最高价</span><span class="tv" style="color:#f0334f">3203.0</span></div><div class="tr" style="top:73px"><span class="tl">最低价</span><span class="tv" style="color:#17c98a">3170.0</span></div><div class="tr" style="top:93px"><span class="tl">收盘价</span><span class="tv" style="color:#17c98a">3189.0</span></div><div class="tr" style="top:113px"><span class="tl">成交量</span><span class="tv" style="color:#fff">4548</span></div><div class="tr" style="top:133px"><span class="tl">成交额</span><span class="tv" style="color:#fff">14.49亿</span></div><div class="tr" style="top:153px"><span class="tl">持仓量</span><span class="tv" style="color:#fff"></span></div><div class="tr" style="top:173px"><span class="tl">涨幅</span><span class="tv" style="color:#17c98a">-0.42%</span></div><div class="tr" style="top:193px"><span class="tl">涨跌</span><span class="tv" style="color:#17c98a">-13.5</span></div></div>
<div class="abs" style="left:1781px;top:850px;width:58px;height:58px;border-radius:50%;background:rgba(44,52,70,0.9);box-shadow:0 0 2px rgba(0,0,0,.6)"></div>
<div class="abs" style="left:1831px;top:858px;width:24px;height:42px;background:#1c2231"></div>
<svg class="abs" style="left:1781px;top:850px" width="74" height="58">
<defs><linearGradient id="ag" x1="0" y1="0" x2="0" y2="1"><stop offset="0" stop-color="#26cfc8"/><stop offset="1" stop-color="#d6dc3e"/></linearGradient></defs>
<path d="M29 3.5A25.5 25.5 0 0 1 32 54.3" fill="none" stroke="url(#ag)" stroke-width="2"/>
<text x="11" y="37" font-size="25" fill="#e8ecf2" font-family="Liberation Sans" stroke="#2c3446" stroke-width="0.6" paint-order="fill stroke">48</text>
<text x="40" y="37" font-size="9" fill="#e8ecf2" font-family="Liberation Sans">%</text>
<path d="M64.4 15V21.5M61.4 18L64.4 15L67.4 18" stroke="#3ea7f0" stroke-width="1.6" fill="none"/>
<path d="M64.4 35.5V42M61.4 39L64.4 42L67.4 39" stroke="#22b53a" stroke-width="1.6" fill="none"/>
<path d="M50 29H74" stroke="#2a3142"/>
</svg>
<div class="abs" style="left:57px;top:984px;width:1611px;height:2px;background:#1f3654"></div>
<div class="abs" style="left:598px;top:984px;width:48px;height:2px;background:#0a8ed6"></div>
</body></html>
